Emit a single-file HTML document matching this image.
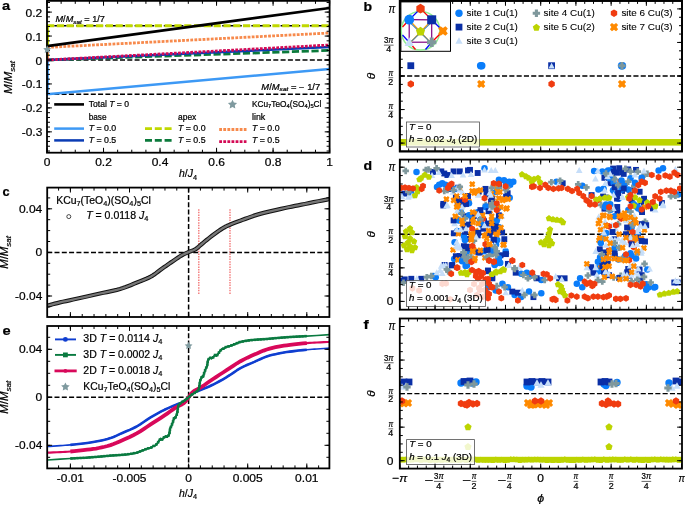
<!DOCTYPE html>
<html><head><meta charset="utf-8"><style>
html,body{margin:0;padding:0;background:#fff;overflow:hidden;}
svg{display:block;font-family:"Liberation Sans", sans-serif;will-change:transform;}
</style></head><body>
<svg width="685" height="505" viewBox="0 0 685 505">
<rect width="685" height="505" fill="#fff"/>
<line x1="47" y1="60" x2="329.6" y2="60" stroke="#000" stroke-width="1.5" stroke-linecap="butt" stroke-dasharray="5,2.3"/>
<line x1="47" y1="94.21" x2="329.6" y2="94.21" stroke="#000" stroke-width="1.5" stroke-linecap="butt" stroke-dasharray="5,2.3"/>
<line x1="47" y1="25.79" x2="329.6" y2="25.79" stroke="#000" stroke-width="1.5" stroke-linecap="butt" stroke-dasharray="5,2.3"/>
<line x1="47" y1="94.21" x2="329.6" y2="69.01" stroke="#3d99f5" stroke-width="2.5" stroke-linecap="butt"/>
<line x1="47.6" y1="25.79" x2="47.6" y2="60" stroke="#c0d800" stroke-width="2.8" stroke-linecap="butt"/>
<line x1="47.6" y1="60" x2="47.6" y2="94.21" stroke="#3d99f5" stroke-width="2.5" stroke-linecap="butt"/>
<line x1="47.6" y1="47.4" x2="47.6" y2="60" stroke="#f78a4c" stroke-width="2.8" stroke-linecap="butt" stroke-dasharray="2.8,1.3"/>
<line x1="47" y1="60" x2="329.6" y2="50.42" stroke="#0b7a3b" stroke-width="2.8" stroke-linecap="butt" stroke-dasharray="7.2,2.6"/>
<line x1="47" y1="60" x2="329.6" y2="47.07" stroke="#0a3cb4" stroke-width="2.5" stroke-linecap="butt"/>
<line x1="47" y1="60" x2="329.6" y2="45.01" stroke="#d40a55" stroke-width="2.8" stroke-linecap="butt" stroke-dasharray="2.8,1.3"/>
<line x1="47" y1="47.4" x2="329.6" y2="33.01" stroke="#f78a4c" stroke-width="2.8" stroke-linecap="butt" stroke-dasharray="2.8,1.3"/>
<line x1="47" y1="25.79" x2="329.6" y2="25.79" stroke="#c0d800" stroke-width="3.0" stroke-linecap="butt" stroke-dasharray="7.2,2.6"/>
<line x1="47" y1="46.11" x2="329.6" y2="8.03" stroke="#000" stroke-width="2.7" stroke-linecap="butt"/>
<rect x="47" y="0.85" width="282.6" height="151.85" fill="none" stroke="#000" stroke-width="1.8"/>
<line x1="47" y1="152.7" x2="47" y2="147.8" stroke="#000" stroke-width="1.0" stroke-linecap="butt"/>
<line x1="47" y1="0.85" x2="47" y2="5.75" stroke="#000" stroke-width="1.0" stroke-linecap="butt"/>
<line x1="103.52" y1="152.7" x2="103.52" y2="147.8" stroke="#000" stroke-width="1.0" stroke-linecap="butt"/>
<line x1="103.52" y1="0.85" x2="103.52" y2="5.75" stroke="#000" stroke-width="1.0" stroke-linecap="butt"/>
<line x1="160.04" y1="152.7" x2="160.04" y2="147.8" stroke="#000" stroke-width="1.0" stroke-linecap="butt"/>
<line x1="160.04" y1="0.85" x2="160.04" y2="5.75" stroke="#000" stroke-width="1.0" stroke-linecap="butt"/>
<line x1="216.56" y1="152.7" x2="216.56" y2="147.8" stroke="#000" stroke-width="1.0" stroke-linecap="butt"/>
<line x1="216.56" y1="0.85" x2="216.56" y2="5.75" stroke="#000" stroke-width="1.0" stroke-linecap="butt"/>
<line x1="273.08" y1="152.7" x2="273.08" y2="147.8" stroke="#000" stroke-width="1.0" stroke-linecap="butt"/>
<line x1="273.08" y1="0.85" x2="273.08" y2="5.75" stroke="#000" stroke-width="1.0" stroke-linecap="butt"/>
<line x1="329.6" y1="152.7" x2="329.6" y2="147.8" stroke="#000" stroke-width="1.0" stroke-linecap="butt"/>
<line x1="329.6" y1="0.85" x2="329.6" y2="5.75" stroke="#000" stroke-width="1.0" stroke-linecap="butt"/>
<line x1="47" y1="152.7" x2="47" y2="149.7" stroke="#000" stroke-width="1.0" stroke-linecap="butt"/>
<line x1="47" y1="0.85" x2="47" y2="3.85" stroke="#000" stroke-width="1.0" stroke-linecap="butt"/>
<line x1="61.13" y1="152.7" x2="61.13" y2="149.7" stroke="#000" stroke-width="1.0" stroke-linecap="butt"/>
<line x1="61.13" y1="0.85" x2="61.13" y2="3.85" stroke="#000" stroke-width="1.0" stroke-linecap="butt"/>
<line x1="75.26" y1="152.7" x2="75.26" y2="149.7" stroke="#000" stroke-width="1.0" stroke-linecap="butt"/>
<line x1="75.26" y1="0.85" x2="75.26" y2="3.85" stroke="#000" stroke-width="1.0" stroke-linecap="butt"/>
<line x1="89.39" y1="152.7" x2="89.39" y2="149.7" stroke="#000" stroke-width="1.0" stroke-linecap="butt"/>
<line x1="89.39" y1="0.85" x2="89.39" y2="3.85" stroke="#000" stroke-width="1.0" stroke-linecap="butt"/>
<line x1="103.52" y1="152.7" x2="103.52" y2="149.7" stroke="#000" stroke-width="1.0" stroke-linecap="butt"/>
<line x1="103.52" y1="0.85" x2="103.52" y2="3.85" stroke="#000" stroke-width="1.0" stroke-linecap="butt"/>
<line x1="117.65" y1="152.7" x2="117.65" y2="149.7" stroke="#000" stroke-width="1.0" stroke-linecap="butt"/>
<line x1="117.65" y1="0.85" x2="117.65" y2="3.85" stroke="#000" stroke-width="1.0" stroke-linecap="butt"/>
<line x1="131.78" y1="152.7" x2="131.78" y2="149.7" stroke="#000" stroke-width="1.0" stroke-linecap="butt"/>
<line x1="131.78" y1="0.85" x2="131.78" y2="3.85" stroke="#000" stroke-width="1.0" stroke-linecap="butt"/>
<line x1="145.91" y1="152.7" x2="145.91" y2="149.7" stroke="#000" stroke-width="1.0" stroke-linecap="butt"/>
<line x1="145.91" y1="0.85" x2="145.91" y2="3.85" stroke="#000" stroke-width="1.0" stroke-linecap="butt"/>
<line x1="160.04" y1="152.7" x2="160.04" y2="149.7" stroke="#000" stroke-width="1.0" stroke-linecap="butt"/>
<line x1="160.04" y1="0.85" x2="160.04" y2="3.85" stroke="#000" stroke-width="1.0" stroke-linecap="butt"/>
<line x1="174.17" y1="152.7" x2="174.17" y2="149.7" stroke="#000" stroke-width="1.0" stroke-linecap="butt"/>
<line x1="174.17" y1="0.85" x2="174.17" y2="3.85" stroke="#000" stroke-width="1.0" stroke-linecap="butt"/>
<line x1="188.3" y1="152.7" x2="188.3" y2="149.7" stroke="#000" stroke-width="1.0" stroke-linecap="butt"/>
<line x1="188.3" y1="0.85" x2="188.3" y2="3.85" stroke="#000" stroke-width="1.0" stroke-linecap="butt"/>
<line x1="202.43" y1="152.7" x2="202.43" y2="149.7" stroke="#000" stroke-width="1.0" stroke-linecap="butt"/>
<line x1="202.43" y1="0.85" x2="202.43" y2="3.85" stroke="#000" stroke-width="1.0" stroke-linecap="butt"/>
<line x1="216.56" y1="152.7" x2="216.56" y2="149.7" stroke="#000" stroke-width="1.0" stroke-linecap="butt"/>
<line x1="216.56" y1="0.85" x2="216.56" y2="3.85" stroke="#000" stroke-width="1.0" stroke-linecap="butt"/>
<line x1="230.69" y1="152.7" x2="230.69" y2="149.7" stroke="#000" stroke-width="1.0" stroke-linecap="butt"/>
<line x1="230.69" y1="0.85" x2="230.69" y2="3.85" stroke="#000" stroke-width="1.0" stroke-linecap="butt"/>
<line x1="244.82" y1="152.7" x2="244.82" y2="149.7" stroke="#000" stroke-width="1.0" stroke-linecap="butt"/>
<line x1="244.82" y1="0.85" x2="244.82" y2="3.85" stroke="#000" stroke-width="1.0" stroke-linecap="butt"/>
<line x1="258.95" y1="152.7" x2="258.95" y2="149.7" stroke="#000" stroke-width="1.0" stroke-linecap="butt"/>
<line x1="258.95" y1="0.85" x2="258.95" y2="3.85" stroke="#000" stroke-width="1.0" stroke-linecap="butt"/>
<line x1="273.08" y1="152.7" x2="273.08" y2="149.7" stroke="#000" stroke-width="1.0" stroke-linecap="butt"/>
<line x1="273.08" y1="0.85" x2="273.08" y2="3.85" stroke="#000" stroke-width="1.0" stroke-linecap="butt"/>
<line x1="287.21" y1="152.7" x2="287.21" y2="149.7" stroke="#000" stroke-width="1.0" stroke-linecap="butt"/>
<line x1="287.21" y1="0.85" x2="287.21" y2="3.85" stroke="#000" stroke-width="1.0" stroke-linecap="butt"/>
<line x1="301.34" y1="152.7" x2="301.34" y2="149.7" stroke="#000" stroke-width="1.0" stroke-linecap="butt"/>
<line x1="301.34" y1="0.85" x2="301.34" y2="3.85" stroke="#000" stroke-width="1.0" stroke-linecap="butt"/>
<line x1="315.47" y1="152.7" x2="315.47" y2="149.7" stroke="#000" stroke-width="1.0" stroke-linecap="butt"/>
<line x1="315.47" y1="0.85" x2="315.47" y2="3.85" stroke="#000" stroke-width="1.0" stroke-linecap="butt"/>
<line x1="329.6" y1="152.7" x2="329.6" y2="149.7" stroke="#000" stroke-width="1.0" stroke-linecap="butt"/>
<line x1="329.6" y1="0.85" x2="329.6" y2="3.85" stroke="#000" stroke-width="1.0" stroke-linecap="butt"/>
<line x1="47" y1="131.85" x2="51.9" y2="131.85" stroke="#000" stroke-width="1.0" stroke-linecap="butt"/>
<line x1="329.6" y1="131.85" x2="324.7" y2="131.85" stroke="#000" stroke-width="1.0" stroke-linecap="butt"/>
<line x1="47" y1="107.9" x2="51.9" y2="107.9" stroke="#000" stroke-width="1.0" stroke-linecap="butt"/>
<line x1="329.6" y1="107.9" x2="324.7" y2="107.9" stroke="#000" stroke-width="1.0" stroke-linecap="butt"/>
<line x1="47" y1="83.95" x2="51.9" y2="83.95" stroke="#000" stroke-width="1.0" stroke-linecap="butt"/>
<line x1="329.6" y1="83.95" x2="324.7" y2="83.95" stroke="#000" stroke-width="1.0" stroke-linecap="butt"/>
<line x1="47" y1="60" x2="51.9" y2="60" stroke="#000" stroke-width="1.0" stroke-linecap="butt"/>
<line x1="329.6" y1="60" x2="324.7" y2="60" stroke="#000" stroke-width="1.0" stroke-linecap="butt"/>
<line x1="47" y1="36.05" x2="51.9" y2="36.05" stroke="#000" stroke-width="1.0" stroke-linecap="butt"/>
<line x1="329.6" y1="36.05" x2="324.7" y2="36.05" stroke="#000" stroke-width="1.0" stroke-linecap="butt"/>
<line x1="47" y1="12.1" x2="51.9" y2="12.1" stroke="#000" stroke-width="1.0" stroke-linecap="butt"/>
<line x1="329.6" y1="12.1" x2="324.7" y2="12.1" stroke="#000" stroke-width="1.0" stroke-linecap="butt"/>
<line x1="47" y1="151.01" x2="50" y2="151.01" stroke="#000" stroke-width="1.0" stroke-linecap="butt"/>
<line x1="329.6" y1="151.01" x2="326.6" y2="151.01" stroke="#000" stroke-width="1.0" stroke-linecap="butt"/>
<line x1="47" y1="146.22" x2="50" y2="146.22" stroke="#000" stroke-width="1.0" stroke-linecap="butt"/>
<line x1="329.6" y1="146.22" x2="326.6" y2="146.22" stroke="#000" stroke-width="1.0" stroke-linecap="butt"/>
<line x1="47" y1="141.43" x2="50" y2="141.43" stroke="#000" stroke-width="1.0" stroke-linecap="butt"/>
<line x1="329.6" y1="141.43" x2="326.6" y2="141.43" stroke="#000" stroke-width="1.0" stroke-linecap="butt"/>
<line x1="47" y1="136.64" x2="50" y2="136.64" stroke="#000" stroke-width="1.0" stroke-linecap="butt"/>
<line x1="329.6" y1="136.64" x2="326.6" y2="136.64" stroke="#000" stroke-width="1.0" stroke-linecap="butt"/>
<line x1="47" y1="131.85" x2="50" y2="131.85" stroke="#000" stroke-width="1.0" stroke-linecap="butt"/>
<line x1="329.6" y1="131.85" x2="326.6" y2="131.85" stroke="#000" stroke-width="1.0" stroke-linecap="butt"/>
<line x1="47" y1="127.06" x2="50" y2="127.06" stroke="#000" stroke-width="1.0" stroke-linecap="butt"/>
<line x1="329.6" y1="127.06" x2="326.6" y2="127.06" stroke="#000" stroke-width="1.0" stroke-linecap="butt"/>
<line x1="47" y1="122.27" x2="50" y2="122.27" stroke="#000" stroke-width="1.0" stroke-linecap="butt"/>
<line x1="329.6" y1="122.27" x2="326.6" y2="122.27" stroke="#000" stroke-width="1.0" stroke-linecap="butt"/>
<line x1="47" y1="117.48" x2="50" y2="117.48" stroke="#000" stroke-width="1.0" stroke-linecap="butt"/>
<line x1="329.6" y1="117.48" x2="326.6" y2="117.48" stroke="#000" stroke-width="1.0" stroke-linecap="butt"/>
<line x1="47" y1="112.69" x2="50" y2="112.69" stroke="#000" stroke-width="1.0" stroke-linecap="butt"/>
<line x1="329.6" y1="112.69" x2="326.6" y2="112.69" stroke="#000" stroke-width="1.0" stroke-linecap="butt"/>
<line x1="47" y1="107.9" x2="50" y2="107.9" stroke="#000" stroke-width="1.0" stroke-linecap="butt"/>
<line x1="329.6" y1="107.9" x2="326.6" y2="107.9" stroke="#000" stroke-width="1.0" stroke-linecap="butt"/>
<line x1="47" y1="103.11" x2="50" y2="103.11" stroke="#000" stroke-width="1.0" stroke-linecap="butt"/>
<line x1="329.6" y1="103.11" x2="326.6" y2="103.11" stroke="#000" stroke-width="1.0" stroke-linecap="butt"/>
<line x1="47" y1="98.32" x2="50" y2="98.32" stroke="#000" stroke-width="1.0" stroke-linecap="butt"/>
<line x1="329.6" y1="98.32" x2="326.6" y2="98.32" stroke="#000" stroke-width="1.0" stroke-linecap="butt"/>
<line x1="47" y1="93.53" x2="50" y2="93.53" stroke="#000" stroke-width="1.0" stroke-linecap="butt"/>
<line x1="329.6" y1="93.53" x2="326.6" y2="93.53" stroke="#000" stroke-width="1.0" stroke-linecap="butt"/>
<line x1="47" y1="88.74" x2="50" y2="88.74" stroke="#000" stroke-width="1.0" stroke-linecap="butt"/>
<line x1="329.6" y1="88.74" x2="326.6" y2="88.74" stroke="#000" stroke-width="1.0" stroke-linecap="butt"/>
<line x1="47" y1="83.95" x2="50" y2="83.95" stroke="#000" stroke-width="1.0" stroke-linecap="butt"/>
<line x1="329.6" y1="83.95" x2="326.6" y2="83.95" stroke="#000" stroke-width="1.0" stroke-linecap="butt"/>
<line x1="47" y1="79.16" x2="50" y2="79.16" stroke="#000" stroke-width="1.0" stroke-linecap="butt"/>
<line x1="329.6" y1="79.16" x2="326.6" y2="79.16" stroke="#000" stroke-width="1.0" stroke-linecap="butt"/>
<line x1="47" y1="74.37" x2="50" y2="74.37" stroke="#000" stroke-width="1.0" stroke-linecap="butt"/>
<line x1="329.6" y1="74.37" x2="326.6" y2="74.37" stroke="#000" stroke-width="1.0" stroke-linecap="butt"/>
<line x1="47" y1="69.58" x2="50" y2="69.58" stroke="#000" stroke-width="1.0" stroke-linecap="butt"/>
<line x1="329.6" y1="69.58" x2="326.6" y2="69.58" stroke="#000" stroke-width="1.0" stroke-linecap="butt"/>
<line x1="47" y1="64.79" x2="50" y2="64.79" stroke="#000" stroke-width="1.0" stroke-linecap="butt"/>
<line x1="329.6" y1="64.79" x2="326.6" y2="64.79" stroke="#000" stroke-width="1.0" stroke-linecap="butt"/>
<line x1="47" y1="60" x2="50" y2="60" stroke="#000" stroke-width="1.0" stroke-linecap="butt"/>
<line x1="329.6" y1="60" x2="326.6" y2="60" stroke="#000" stroke-width="1.0" stroke-linecap="butt"/>
<line x1="47" y1="55.21" x2="50" y2="55.21" stroke="#000" stroke-width="1.0" stroke-linecap="butt"/>
<line x1="329.6" y1="55.21" x2="326.6" y2="55.21" stroke="#000" stroke-width="1.0" stroke-linecap="butt"/>
<line x1="47" y1="50.42" x2="50" y2="50.42" stroke="#000" stroke-width="1.0" stroke-linecap="butt"/>
<line x1="329.6" y1="50.42" x2="326.6" y2="50.42" stroke="#000" stroke-width="1.0" stroke-linecap="butt"/>
<line x1="47" y1="45.63" x2="50" y2="45.63" stroke="#000" stroke-width="1.0" stroke-linecap="butt"/>
<line x1="329.6" y1="45.63" x2="326.6" y2="45.63" stroke="#000" stroke-width="1.0" stroke-linecap="butt"/>
<line x1="47" y1="40.84" x2="50" y2="40.84" stroke="#000" stroke-width="1.0" stroke-linecap="butt"/>
<line x1="329.6" y1="40.84" x2="326.6" y2="40.84" stroke="#000" stroke-width="1.0" stroke-linecap="butt"/>
<line x1="47" y1="36.05" x2="50" y2="36.05" stroke="#000" stroke-width="1.0" stroke-linecap="butt"/>
<line x1="329.6" y1="36.05" x2="326.6" y2="36.05" stroke="#000" stroke-width="1.0" stroke-linecap="butt"/>
<line x1="47" y1="31.26" x2="50" y2="31.26" stroke="#000" stroke-width="1.0" stroke-linecap="butt"/>
<line x1="329.6" y1="31.26" x2="326.6" y2="31.26" stroke="#000" stroke-width="1.0" stroke-linecap="butt"/>
<line x1="47" y1="26.47" x2="50" y2="26.47" stroke="#000" stroke-width="1.0" stroke-linecap="butt"/>
<line x1="329.6" y1="26.47" x2="326.6" y2="26.47" stroke="#000" stroke-width="1.0" stroke-linecap="butt"/>
<line x1="47" y1="21.68" x2="50" y2="21.68" stroke="#000" stroke-width="1.0" stroke-linecap="butt"/>
<line x1="329.6" y1="21.68" x2="326.6" y2="21.68" stroke="#000" stroke-width="1.0" stroke-linecap="butt"/>
<line x1="47" y1="16.89" x2="50" y2="16.89" stroke="#000" stroke-width="1.0" stroke-linecap="butt"/>
<line x1="329.6" y1="16.89" x2="326.6" y2="16.89" stroke="#000" stroke-width="1.0" stroke-linecap="butt"/>
<line x1="47" y1="12.1" x2="50" y2="12.1" stroke="#000" stroke-width="1.0" stroke-linecap="butt"/>
<line x1="329.6" y1="12.1" x2="326.6" y2="12.1" stroke="#000" stroke-width="1.0" stroke-linecap="butt"/>
<line x1="47" y1="7.31" x2="50" y2="7.31" stroke="#000" stroke-width="1.0" stroke-linecap="butt"/>
<line x1="329.6" y1="7.31" x2="326.6" y2="7.31" stroke="#000" stroke-width="1.0" stroke-linecap="butt"/>
<line x1="47" y1="2.52" x2="50" y2="2.52" stroke="#000" stroke-width="1.0" stroke-linecap="butt"/>
<line x1="329.6" y1="2.52" x2="326.6" y2="2.52" stroke="#000" stroke-width="1.0" stroke-linecap="butt"/>
<polygon points="47.2,45.38 48.43,47.88 51.19,48.28 49.2,50.23 49.67,52.98 47.2,51.68 44.73,52.98 45.2,50.23 43.21,48.28 45.97,47.88" fill="#7f9a9f"/>
<text x="25.60" y="16.60" font-size="11.13" fill="#000" stroke="#000" stroke-width="0.22" textLength="16.70" lengthAdjust="spacingAndGlyphs" ><tspan>0.2</tspan></text>
<text x="25.60" y="40.55" font-size="11.13" fill="#000" stroke="#000" stroke-width="0.22" textLength="16.70" lengthAdjust="spacingAndGlyphs" ><tspan>0.1</tspan></text>
<text x="35.62" y="64.50" font-size="11.13" fill="#000" stroke="#000" stroke-width="0.22" textLength="6.68" lengthAdjust="spacingAndGlyphs" ><tspan>0</tspan></text>
<text x="21.81" y="88.45" font-size="11.13" fill="#000" stroke="#000" stroke-width="0.22" textLength="20.49" lengthAdjust="spacingAndGlyphs" ><tspan>-0.1</tspan></text>
<text x="21.81" y="112.40" font-size="11.13" fill="#000" stroke="#000" stroke-width="0.22" textLength="20.49" lengthAdjust="spacingAndGlyphs" ><tspan>-0.2</tspan></text>
<text x="21.81" y="136.35" font-size="11.13" fill="#000" stroke="#000" stroke-width="0.22" textLength="20.49" lengthAdjust="spacingAndGlyphs" ><tspan>-0.3</tspan></text>
<text x="43.66" y="166.00" font-size="11.13" fill="#000" stroke="#000" stroke-width="0.22" textLength="6.68" lengthAdjust="spacingAndGlyphs" ><tspan>0</tspan></text>
<text x="95.17" y="166.00" font-size="11.13" fill="#000" stroke="#000" stroke-width="0.22" textLength="16.70" lengthAdjust="spacingAndGlyphs" ><tspan>0.2</tspan></text>
<text x="151.69" y="166.00" font-size="11.13" fill="#000" stroke="#000" stroke-width="0.22" textLength="16.70" lengthAdjust="spacingAndGlyphs" ><tspan>0.4</tspan></text>
<text x="208.21" y="166.00" font-size="11.13" fill="#000" stroke="#000" stroke-width="0.22" textLength="16.70" lengthAdjust="spacingAndGlyphs" ><tspan>0.6</tspan></text>
<text x="264.73" y="166.00" font-size="11.13" fill="#000" stroke="#000" stroke-width="0.22" textLength="16.70" lengthAdjust="spacingAndGlyphs" ><tspan>0.8</tspan></text>
<text x="326.26" y="166.00" font-size="11.13" fill="#000" stroke="#000" stroke-width="0.22" textLength="6.68" lengthAdjust="spacingAndGlyphs" ><tspan>1</tspan></text>
<text x="2.00" y="10.20" font-size="13.20" font-weight="bold" fill="#000" stroke="#000" stroke-width="0.22" textLength="8.10" lengthAdjust="spacingAndGlyphs" ><tspan>a</tspan></text>
<text x="179.02" y="177.40" font-size="11.55" fill="#000" stroke="#000" stroke-width="0.22" textLength="17.97" lengthAdjust="spacingAndGlyphs" ><tspan font-style="italic">h</tspan><tspan>/</tspan><tspan font-style="italic">J</tspan><tspan font-size="8.09" dy="2.31">4</tspan></text>
<g transform="translate(12.2,77.4) rotate(-90)">
<text x="-16.44" y="0.00" font-size="11.55" fill="#000" stroke="#000" stroke-width="0.22" textLength="32.87" lengthAdjust="spacingAndGlyphs" ><tspan font-style="italic">M</tspan><tspan>/</tspan><tspan font-style="italic">M</tspan><tspan font-style="italic" font-size="8.09" dy="2.31">sat</tspan></text>
</g>
<text x="55.50" y="22.10" font-size="8.36" fill="#000" stroke="#000" stroke-width="0.22" textLength="49.35" lengthAdjust="spacingAndGlyphs" ><tspan font-style="italic">M</tspan><tspan>/</tspan><tspan font-style="italic">M</tspan><tspan font-style="italic" font-size="5.85" dy="1.67">sat</tspan><tspan dy="-1.67"> = 1/7</tspan></text>
<text x="261.39" y="89.60" font-size="8.36" fill="#000" stroke="#000" stroke-width="0.22" textLength="58.81" lengthAdjust="spacingAndGlyphs" ><tspan font-style="italic">M</tspan><tspan>/</tspan><tspan font-style="italic">M</tspan><tspan font-style="italic" font-size="5.85" dy="1.67">sat</tspan><tspan dy="-1.67"> = − 1/7</tspan></text>
<line x1="54.2" y1="104.4" x2="84" y2="104.4" stroke="#000" stroke-width="2.6" stroke-linecap="butt"/>
<text x="88.70" y="106.90" font-size="8.25" fill="#000" stroke="#000" stroke-width="0.22" textLength="40.31" lengthAdjust="spacingAndGlyphs" ><tspan>Total </tspan><tspan font-style="italic">T</tspan><tspan> = 0</tspan></text>
<text x="88.70" y="119.50" font-size="8.25" fill="#000" stroke="#000" stroke-width="0.22" textLength="17.88" lengthAdjust="spacingAndGlyphs" ><tspan>base</tspan></text>
<line x1="54.2" y1="128.6" x2="84" y2="128.6" stroke="#3d99f5" stroke-width="2.5" stroke-linecap="butt"/>
<text x="88.70" y="130.80" font-size="8.25" fill="#000" stroke="#000" stroke-width="0.22" textLength="27.56" lengthAdjust="spacingAndGlyphs" ><tspan font-style="italic">T</tspan><tspan> = 0.0</tspan></text>
<line x1="54.2" y1="140.4" x2="84" y2="140.4" stroke="#0a3cb4" stroke-width="2.5" stroke-linecap="butt"/>
<text x="88.70" y="142.70" font-size="8.25" fill="#000" stroke="#000" stroke-width="0.22" textLength="27.56" lengthAdjust="spacingAndGlyphs" ><tspan font-style="italic">T</tspan><tspan> = 0.5</tspan></text>
<text x="178.00" y="119.50" font-size="8.25" fill="#000" stroke="#000" stroke-width="0.22" textLength="18.28" lengthAdjust="spacingAndGlyphs" ><tspan>apex</tspan></text>
<line x1="145" y1="128.6" x2="171.6" y2="128.6" stroke="#c0d800" stroke-width="2.8" stroke-linecap="butt" stroke-dasharray="7,2.8"/>
<text x="178.00" y="130.80" font-size="8.25" fill="#000" stroke="#000" stroke-width="0.22" textLength="27.56" lengthAdjust="spacingAndGlyphs" ><tspan font-style="italic">T</tspan><tspan> = 0.0</tspan></text>
<line x1="145" y1="140.4" x2="171.6" y2="140.4" stroke="#0b7a3b" stroke-width="2.8" stroke-linecap="butt" stroke-dasharray="7,2.8"/>
<text x="178.00" y="142.70" font-size="8.25" fill="#000" stroke="#000" stroke-width="0.22" textLength="27.56" lengthAdjust="spacingAndGlyphs" ><tspan font-style="italic">T</tspan><tspan> = 0.5</tspan></text>
<polygon points="232.5,99.7 233.91,102.56 237.07,103.02 234.78,105.24 235.32,108.38 232.5,106.9 229.68,108.38 230.22,105.24 227.93,103.02 231.09,102.56" fill="#7f9a9f"/>
<text x="252.00" y="107.20" font-size="8.25" fill="#000" stroke="#000" stroke-width="0.22" textLength="69.45" lengthAdjust="spacingAndGlyphs" ><tspan>KCu</tspan><tspan font-size="5.77" dy="1.20">7</tspan><tspan dy="-1.20">TeO</tspan><tspan font-size="5.77" dy="1.20">4</tspan><tspan dy="-1.20">(SO</tspan><tspan font-size="5.77" dy="1.20">4</tspan><tspan dy="-1.20">)</tspan><tspan font-size="5.77" dy="1.20">5</tspan><tspan dy="-1.20">Cl</tspan></text>
<text x="252.00" y="119.50" font-size="8.25" fill="#000" stroke="#000" stroke-width="0.22" textLength="13.26" lengthAdjust="spacingAndGlyphs" ><tspan>link</tspan></text>
<line x1="219.2" y1="129.5" x2="246.5" y2="129.5" stroke="#f78a4c" stroke-width="2.8" stroke-linecap="butt" stroke-dasharray="2.8,1.3"/>
<text x="252.00" y="130.80" font-size="8.25" fill="#000" stroke="#000" stroke-width="0.22" textLength="27.56" lengthAdjust="spacingAndGlyphs" ><tspan font-style="italic">T</tspan><tspan> = 0.0</tspan></text>
<line x1="219.2" y1="141.6" x2="246.5" y2="141.6" stroke="#d40a55" stroke-width="2.8" stroke-linecap="butt" stroke-dasharray="2.8,1.3"/>
<text x="252.00" y="142.70" font-size="8.25" fill="#000" stroke="#000" stroke-width="0.22" textLength="27.56" lengthAdjust="spacingAndGlyphs" ><tspan font-style="italic">T</tspan><tspan> = 0.5</tspan></text>
<line x1="47.2" y1="252.4" x2="329.4" y2="252.4" stroke="#000" stroke-width="1.5" stroke-linecap="butt" stroke-dasharray="5,2.3"/>
<line x1="188.6" y1="187.6" x2="188.6" y2="317" stroke="#000" stroke-width="1.5" stroke-linecap="butt" stroke-dasharray="5,2.3"/>
<line x1="198.8" y1="209.2" x2="198.8" y2="295.1" stroke="#f26d6d" stroke-width="1.3" stroke-linecap="butt" stroke-dasharray="1.5,1.1"/>
<line x1="230" y1="209.2" x2="230" y2="295.1" stroke="#f26d6d" stroke-width="1.3" stroke-linecap="butt" stroke-dasharray="1.5,1.1"/>
<polyline points="47.6,305.6 48.86,305.27 50.53,304.81 52.55,304.27 54.84,303.67 57.35,303.04 60,302.4 62.89,301.74 66.1,301.03 69.53,300.28 73.05,299.52 76.58,298.75 80,298 83.33,297.26 86.67,296.51 90,295.76 93.33,295 96.67,294.25 100,293.5 103.37,292.77 106.8,292.06 110.23,291.36 113.6,290.63 116.88,289.85 120,289 122.97,288.06 125.81,287.06 128.56,286 131.22,284.92 133.83,283.85 136.4,282.8 138.95,281.79 141.47,280.8 143.94,279.81 146.31,278.81 148.58,277.78 150.7,276.7 152.64,275.56 154.4,274.38 156.06,273.16 157.65,271.93 159.25,270.71 160.9,269.5 162.6,268.31 164.3,267.11 166,265.93 167.7,264.74 169.4,263.56 171.1,262.4 172.83,261.21 174.61,259.99 176.39,258.77 178.12,257.61 179.77,256.54 181.3,255.6 182.67,254.82 183.92,254.17 185.09,253.61 186.21,253.11 187.33,252.62 188.5,252.1 189.71,251.6 190.94,251.14 192.17,250.7 193.38,250.24 194.56,249.72 195.7,249.1 196.73,248.41 197.66,247.67 198.56,246.88 199.5,246.01 200.56,245.05 201.8,244 203.26,242.8 204.9,241.46 206.64,240.03 208.45,238.57 210.25,237.14 212,235.8 213.72,234.51 215.47,233.21 217.22,231.94 218.95,230.73 220.62,229.61 222.2,228.6 223.63,227.74 224.93,227.03 226.17,226.39 227.44,225.8 228.82,225.18 230.4,224.5 232.15,223.77 234.01,223.02 235.98,222.26 238.08,221.48 240.31,220.66 242.7,219.8 245.2,218.89 247.81,217.92 250.56,216.93 253.48,215.91 256.61,214.9 260,213.9 263.78,212.89 267.95,211.86 272.33,210.83 276.75,209.83 281.03,208.87 285,208 288.57,207.23 291.87,206.56 295.04,205.94 298.19,205.34 301.47,204.7 305,204 309.09,203.17 313.71,202.22 318.45,201.25 322.91,200.33 326.69,199.56 329.4,199" fill="none" stroke="#111" stroke-width="4.3" stroke-linecap="butt" stroke-linejoin="round"/>
<polyline points="47.6,305.6 48.86,305.27 50.53,304.81 52.55,304.27 54.84,303.67 57.35,303.04 60,302.4 62.89,301.74 66.1,301.03 69.53,300.28 73.05,299.52 76.58,298.75 80,298 83.33,297.26 86.67,296.51 90,295.76 93.33,295 96.67,294.25 100,293.5 103.37,292.77 106.8,292.06 110.23,291.36 113.6,290.63 116.88,289.85 120,289 122.97,288.06 125.81,287.06 128.56,286 131.22,284.92 133.83,283.85 136.4,282.8 138.95,281.79 141.47,280.8 143.94,279.81 146.31,278.81 148.58,277.78 150.7,276.7 152.64,275.56 154.4,274.38 156.06,273.16 157.65,271.93 159.25,270.71 160.9,269.5 162.6,268.31 164.3,267.11 166,265.93 167.7,264.74 169.4,263.56 171.1,262.4 172.83,261.21 174.61,259.99 176.39,258.77 178.12,257.61 179.77,256.54 181.3,255.6 182.67,254.82 183.92,254.17 185.09,253.61 186.21,253.11 187.33,252.62 188.5,252.1 189.71,251.6 190.94,251.14 192.17,250.7 193.38,250.24 194.56,249.72 195.7,249.1 196.73,248.41 197.66,247.67 198.56,246.88 199.5,246.01 200.56,245.05 201.8,244 203.26,242.8 204.9,241.46 206.64,240.03 208.45,238.57 210.25,237.14 212,235.8 213.72,234.51 215.47,233.21 217.22,231.94 218.95,230.73 220.62,229.61 222.2,228.6 223.63,227.74 224.93,227.03 226.17,226.39 227.44,225.8 228.82,225.18 230.4,224.5 232.15,223.77 234.01,223.02 235.98,222.26 238.08,221.48 240.31,220.66 242.7,219.8 245.2,218.89 247.81,217.92 250.56,216.93 253.48,215.91 256.61,214.9 260,213.9 263.78,212.89 267.95,211.86 272.33,210.83 276.75,209.83 281.03,208.87 285,208 288.57,207.23 291.87,206.56 295.04,205.94 298.19,205.34 301.47,204.7 305,204 309.09,203.17 313.71,202.22 318.45,201.25 322.91,200.33 326.69,199.56 329.4,199" fill="none" stroke="#777" stroke-width="2.3" stroke-linecap="butt" stroke-linejoin="round"/>
<rect x="47.2" y="187.6" width="282.2" height="129.4" fill="none" stroke="#000" stroke-width="1.8"/>
<line x1="70.4" y1="317" x2="70.4" y2="312.1" stroke="#000" stroke-width="1.0" stroke-linecap="butt"/>
<line x1="70.4" y1="187.6" x2="70.4" y2="192.5" stroke="#000" stroke-width="1.0" stroke-linecap="butt"/>
<line x1="129.5" y1="317" x2="129.5" y2="312.1" stroke="#000" stroke-width="1.0" stroke-linecap="butt"/>
<line x1="129.5" y1="187.6" x2="129.5" y2="192.5" stroke="#000" stroke-width="1.0" stroke-linecap="butt"/>
<line x1="188.6" y1="317" x2="188.6" y2="312.1" stroke="#000" stroke-width="1.0" stroke-linecap="butt"/>
<line x1="188.6" y1="187.6" x2="188.6" y2="192.5" stroke="#000" stroke-width="1.0" stroke-linecap="butt"/>
<line x1="247.7" y1="317" x2="247.7" y2="312.1" stroke="#000" stroke-width="1.0" stroke-linecap="butt"/>
<line x1="247.7" y1="187.6" x2="247.7" y2="192.5" stroke="#000" stroke-width="1.0" stroke-linecap="butt"/>
<line x1="306.8" y1="317" x2="306.8" y2="312.1" stroke="#000" stroke-width="1.0" stroke-linecap="butt"/>
<line x1="306.8" y1="187.6" x2="306.8" y2="192.5" stroke="#000" stroke-width="1.0" stroke-linecap="butt"/>
<line x1="58.58" y1="317" x2="58.58" y2="314" stroke="#000" stroke-width="1.0" stroke-linecap="butt"/>
<line x1="58.58" y1="187.6" x2="58.58" y2="190.6" stroke="#000" stroke-width="1.0" stroke-linecap="butt"/>
<line x1="70.4" y1="317" x2="70.4" y2="314" stroke="#000" stroke-width="1.0" stroke-linecap="butt"/>
<line x1="70.4" y1="187.6" x2="70.4" y2="190.6" stroke="#000" stroke-width="1.0" stroke-linecap="butt"/>
<line x1="82.22" y1="317" x2="82.22" y2="314" stroke="#000" stroke-width="1.0" stroke-linecap="butt"/>
<line x1="82.22" y1="187.6" x2="82.22" y2="190.6" stroke="#000" stroke-width="1.0" stroke-linecap="butt"/>
<line x1="94.04" y1="317" x2="94.04" y2="314" stroke="#000" stroke-width="1.0" stroke-linecap="butt"/>
<line x1="94.04" y1="187.6" x2="94.04" y2="190.6" stroke="#000" stroke-width="1.0" stroke-linecap="butt"/>
<line x1="105.86" y1="317" x2="105.86" y2="314" stroke="#000" stroke-width="1.0" stroke-linecap="butt"/>
<line x1="105.86" y1="187.6" x2="105.86" y2="190.6" stroke="#000" stroke-width="1.0" stroke-linecap="butt"/>
<line x1="117.68" y1="317" x2="117.68" y2="314" stroke="#000" stroke-width="1.0" stroke-linecap="butt"/>
<line x1="117.68" y1="187.6" x2="117.68" y2="190.6" stroke="#000" stroke-width="1.0" stroke-linecap="butt"/>
<line x1="129.5" y1="317" x2="129.5" y2="314" stroke="#000" stroke-width="1.0" stroke-linecap="butt"/>
<line x1="129.5" y1="187.6" x2="129.5" y2="190.6" stroke="#000" stroke-width="1.0" stroke-linecap="butt"/>
<line x1="141.32" y1="317" x2="141.32" y2="314" stroke="#000" stroke-width="1.0" stroke-linecap="butt"/>
<line x1="141.32" y1="187.6" x2="141.32" y2="190.6" stroke="#000" stroke-width="1.0" stroke-linecap="butt"/>
<line x1="153.14" y1="317" x2="153.14" y2="314" stroke="#000" stroke-width="1.0" stroke-linecap="butt"/>
<line x1="153.14" y1="187.6" x2="153.14" y2="190.6" stroke="#000" stroke-width="1.0" stroke-linecap="butt"/>
<line x1="164.96" y1="317" x2="164.96" y2="314" stroke="#000" stroke-width="1.0" stroke-linecap="butt"/>
<line x1="164.96" y1="187.6" x2="164.96" y2="190.6" stroke="#000" stroke-width="1.0" stroke-linecap="butt"/>
<line x1="176.78" y1="317" x2="176.78" y2="314" stroke="#000" stroke-width="1.0" stroke-linecap="butt"/>
<line x1="176.78" y1="187.6" x2="176.78" y2="190.6" stroke="#000" stroke-width="1.0" stroke-linecap="butt"/>
<line x1="188.6" y1="317" x2="188.6" y2="314" stroke="#000" stroke-width="1.0" stroke-linecap="butt"/>
<line x1="188.6" y1="187.6" x2="188.6" y2="190.6" stroke="#000" stroke-width="1.0" stroke-linecap="butt"/>
<line x1="200.42" y1="317" x2="200.42" y2="314" stroke="#000" stroke-width="1.0" stroke-linecap="butt"/>
<line x1="200.42" y1="187.6" x2="200.42" y2="190.6" stroke="#000" stroke-width="1.0" stroke-linecap="butt"/>
<line x1="212.24" y1="317" x2="212.24" y2="314" stroke="#000" stroke-width="1.0" stroke-linecap="butt"/>
<line x1="212.24" y1="187.6" x2="212.24" y2="190.6" stroke="#000" stroke-width="1.0" stroke-linecap="butt"/>
<line x1="224.06" y1="317" x2="224.06" y2="314" stroke="#000" stroke-width="1.0" stroke-linecap="butt"/>
<line x1="224.06" y1="187.6" x2="224.06" y2="190.6" stroke="#000" stroke-width="1.0" stroke-linecap="butt"/>
<line x1="235.88" y1="317" x2="235.88" y2="314" stroke="#000" stroke-width="1.0" stroke-linecap="butt"/>
<line x1="235.88" y1="187.6" x2="235.88" y2="190.6" stroke="#000" stroke-width="1.0" stroke-linecap="butt"/>
<line x1="247.7" y1="317" x2="247.7" y2="314" stroke="#000" stroke-width="1.0" stroke-linecap="butt"/>
<line x1="247.7" y1="187.6" x2="247.7" y2="190.6" stroke="#000" stroke-width="1.0" stroke-linecap="butt"/>
<line x1="259.52" y1="317" x2="259.52" y2="314" stroke="#000" stroke-width="1.0" stroke-linecap="butt"/>
<line x1="259.52" y1="187.6" x2="259.52" y2="190.6" stroke="#000" stroke-width="1.0" stroke-linecap="butt"/>
<line x1="271.34" y1="317" x2="271.34" y2="314" stroke="#000" stroke-width="1.0" stroke-linecap="butt"/>
<line x1="271.34" y1="187.6" x2="271.34" y2="190.6" stroke="#000" stroke-width="1.0" stroke-linecap="butt"/>
<line x1="283.16" y1="317" x2="283.16" y2="314" stroke="#000" stroke-width="1.0" stroke-linecap="butt"/>
<line x1="283.16" y1="187.6" x2="283.16" y2="190.6" stroke="#000" stroke-width="1.0" stroke-linecap="butt"/>
<line x1="294.98" y1="317" x2="294.98" y2="314" stroke="#000" stroke-width="1.0" stroke-linecap="butt"/>
<line x1="294.98" y1="187.6" x2="294.98" y2="190.6" stroke="#000" stroke-width="1.0" stroke-linecap="butt"/>
<line x1="306.8" y1="317" x2="306.8" y2="314" stroke="#000" stroke-width="1.0" stroke-linecap="butt"/>
<line x1="306.8" y1="187.6" x2="306.8" y2="190.6" stroke="#000" stroke-width="1.0" stroke-linecap="butt"/>
<line x1="318.62" y1="317" x2="318.62" y2="314" stroke="#000" stroke-width="1.0" stroke-linecap="butt"/>
<line x1="318.62" y1="187.6" x2="318.62" y2="190.6" stroke="#000" stroke-width="1.0" stroke-linecap="butt"/>
<line x1="47.2" y1="296" x2="52.1" y2="296" stroke="#000" stroke-width="1.0" stroke-linecap="butt"/>
<line x1="329.4" y1="296" x2="324.5" y2="296" stroke="#000" stroke-width="1.0" stroke-linecap="butt"/>
<line x1="47.2" y1="252.4" x2="52.1" y2="252.4" stroke="#000" stroke-width="1.0" stroke-linecap="butt"/>
<line x1="329.4" y1="252.4" x2="324.5" y2="252.4" stroke="#000" stroke-width="1.0" stroke-linecap="butt"/>
<line x1="47.2" y1="208.8" x2="52.1" y2="208.8" stroke="#000" stroke-width="1.0" stroke-linecap="butt"/>
<line x1="329.4" y1="208.8" x2="324.5" y2="208.8" stroke="#000" stroke-width="1.0" stroke-linecap="butt"/>
<line x1="47.2" y1="306.9" x2="50.2" y2="306.9" stroke="#000" stroke-width="1.0" stroke-linecap="butt"/>
<line x1="329.4" y1="306.9" x2="326.4" y2="306.9" stroke="#000" stroke-width="1.0" stroke-linecap="butt"/>
<line x1="47.2" y1="296" x2="50.2" y2="296" stroke="#000" stroke-width="1.0" stroke-linecap="butt"/>
<line x1="329.4" y1="296" x2="326.4" y2="296" stroke="#000" stroke-width="1.0" stroke-linecap="butt"/>
<line x1="47.2" y1="285.1" x2="50.2" y2="285.1" stroke="#000" stroke-width="1.0" stroke-linecap="butt"/>
<line x1="329.4" y1="285.1" x2="326.4" y2="285.1" stroke="#000" stroke-width="1.0" stroke-linecap="butt"/>
<line x1="47.2" y1="274.2" x2="50.2" y2="274.2" stroke="#000" stroke-width="1.0" stroke-linecap="butt"/>
<line x1="329.4" y1="274.2" x2="326.4" y2="274.2" stroke="#000" stroke-width="1.0" stroke-linecap="butt"/>
<line x1="47.2" y1="263.3" x2="50.2" y2="263.3" stroke="#000" stroke-width="1.0" stroke-linecap="butt"/>
<line x1="329.4" y1="263.3" x2="326.4" y2="263.3" stroke="#000" stroke-width="1.0" stroke-linecap="butt"/>
<line x1="47.2" y1="252.4" x2="50.2" y2="252.4" stroke="#000" stroke-width="1.0" stroke-linecap="butt"/>
<line x1="329.4" y1="252.4" x2="326.4" y2="252.4" stroke="#000" stroke-width="1.0" stroke-linecap="butt"/>
<line x1="47.2" y1="241.5" x2="50.2" y2="241.5" stroke="#000" stroke-width="1.0" stroke-linecap="butt"/>
<line x1="329.4" y1="241.5" x2="326.4" y2="241.5" stroke="#000" stroke-width="1.0" stroke-linecap="butt"/>
<line x1="47.2" y1="230.6" x2="50.2" y2="230.6" stroke="#000" stroke-width="1.0" stroke-linecap="butt"/>
<line x1="329.4" y1="230.6" x2="326.4" y2="230.6" stroke="#000" stroke-width="1.0" stroke-linecap="butt"/>
<line x1="47.2" y1="219.7" x2="50.2" y2="219.7" stroke="#000" stroke-width="1.0" stroke-linecap="butt"/>
<line x1="329.4" y1="219.7" x2="326.4" y2="219.7" stroke="#000" stroke-width="1.0" stroke-linecap="butt"/>
<line x1="47.2" y1="208.8" x2="50.2" y2="208.8" stroke="#000" stroke-width="1.0" stroke-linecap="butt"/>
<line x1="329.4" y1="208.8" x2="326.4" y2="208.8" stroke="#000" stroke-width="1.0" stroke-linecap="butt"/>
<line x1="47.2" y1="197.9" x2="50.2" y2="197.9" stroke="#000" stroke-width="1.0" stroke-linecap="butt"/>
<line x1="329.4" y1="197.9" x2="326.4" y2="197.9" stroke="#000" stroke-width="1.0" stroke-linecap="butt"/>
<text x="18.92" y="212.60" font-size="11.13" fill="#000" stroke="#000" stroke-width="0.22" textLength="23.38" lengthAdjust="spacingAndGlyphs" ><tspan>0.04</tspan></text>
<text x="35.62" y="256.20" font-size="11.13" fill="#000" stroke="#000" stroke-width="0.22" textLength="6.68" lengthAdjust="spacingAndGlyphs" ><tspan>0</tspan></text>
<text x="15.13" y="299.80" font-size="11.13" fill="#000" stroke="#000" stroke-width="0.22" textLength="27.17" lengthAdjust="spacingAndGlyphs" ><tspan>-0.04</tspan></text>
<text x="2.60" y="196.40" font-size="13.20" font-weight="bold" fill="#000" stroke="#000" stroke-width="0.22" textLength="7.11" lengthAdjust="spacingAndGlyphs" ><tspan>c</tspan></text>
<g transform="translate(8.2,252.4) rotate(-90)">
<text x="-16.44" y="0.00" font-size="11.55" fill="#000" stroke="#000" stroke-width="0.22" textLength="32.87" lengthAdjust="spacingAndGlyphs" ><tspan font-style="italic">M</tspan><tspan>/</tspan><tspan font-style="italic">M</tspan><tspan font-style="italic" font-size="8.09" dy="2.31">sat</tspan></text>
</g>
<text x="56.20" y="203.90" font-size="10.95" fill="#000" stroke="#000" stroke-width="0.22" textLength="94.69" lengthAdjust="spacingAndGlyphs" ><tspan>KCu</tspan><tspan font-size="7.66" dy="2.19">7</tspan><tspan dy="-2.19">(TeO</tspan><tspan font-size="7.66" dy="2.19">4</tspan><tspan dy="-2.19">)(SO</tspan><tspan font-size="7.66" dy="2.19">4</tspan><tspan dy="-2.19">)</tspan><tspan font-size="7.66" dy="2.19">5</tspan><tspan dy="-2.19">Cl</tspan></text>
<circle cx="68.8" cy="216.6" r="2.0" fill="#fff" stroke="#000" stroke-width="0.7"/>
<text x="86.20" y="219.00" font-size="10.95" fill="#000" stroke="#000" stroke-width="0.22" textLength="62.12" lengthAdjust="spacingAndGlyphs" ><tspan font-style="italic">T</tspan><tspan> = 0.0118 </tspan><tspan font-style="italic">J</tspan><tspan font-size="7.66" dy="2.19">4</tspan></text>
<line x1="47.2" y1="397.3" x2="329.4" y2="397.3" stroke="#000" stroke-width="1.5" stroke-linecap="butt" stroke-dasharray="5,2.3"/>
<line x1="188.6" y1="326" x2="188.6" y2="468.4" stroke="#000" stroke-width="1.5" stroke-linecap="butt" stroke-dasharray="5,2.3"/>
<clipPath id="clipe"><rect x="47.2" y="326" width="282.2" height="142.4"/></clipPath>
<g clip-path="url(#clipe)">
<polyline points="47.6,446.5 49.94,446.33 53.32,446.09 57.01,445.83 60.3,445.6 62.85,445.44 65.09,445.31 67.46,445.15 70.4,444.9 74.25,444.51 78.71,444.03 83.21,443.51 87.2,443 90.46,442.53 93.32,442.06 96.01,441.57 98.8,441 101.7,440.4 104.6,439.76 107.52,439.02 110.5,438.1 113.52,436.94 116.57,435.61 119.69,434.16 122.9,432.7 126.25,431.27 129.71,429.83 133.21,428.27 136.7,426.5 140.17,424.39 143.64,422.04 147.12,419.64 150.6,417.4 154.14,415.33 157.72,413.33 161.22,411.47 164.5,409.8 167.54,408.37 170.4,407.14 173.09,406.04 175.6,405 177.96,404.05 180.15,403.21 182.14,402.39 183.9,401.5 185.33,400.5 186.47,399.44 187.51,398.37 188.6,397.3 189.69,396.23 190.72,395.16 191.87,394.1 193.3,393.1 195.06,392.21 197.05,391.39 199.24,390.55 201.6,389.6 204.11,388.56 206.8,387.46 209.66,386.23 212.7,384.8 215.98,383.13 219.47,381.27 223.06,379.27 226.6,377.2 230.08,374.96 233.56,372.56 237.03,370.21 240.5,368.1 243.99,366.33 247.49,364.77 250.95,363.33 254.3,361.9 257.51,360.44 260.63,358.99 263.68,357.66 266.7,356.5 269.68,355.58 272.6,354.84 275.5,354.2 278.4,353.6 281.19,353.03 283.88,352.54 286.74,352.07 290,351.6 293.99,351.09 298.49,350.57 302.95,350.09 306.8,349.7 309.74,349.45 312.11,349.29 314.35,349.16 316.9,349 320.19,348.77 323.88,348.51 327.26,348.27 329.6,348.1" fill="none" stroke="#0f3ed0" stroke-width="1.6" stroke-linecap="butt" stroke-linejoin="round"/>
<polyline points="70.4,444.9 74.25,444.51 78.71,444.03 83.21,443.51 87.2,443 90.46,442.53 93.32,442.06 96.01,441.57 98.8,441 101.7,440.4 104.6,439.76 107.52,439.02 110.5,438.1 113.52,436.94 116.57,435.61 119.69,434.16 122.9,432.7 126.25,431.27 129.71,429.83 133.21,428.27 136.7,426.5 140.17,424.39 143.64,422.04 147.12,419.64 150.6,417.4 154.14,415.33 157.72,413.33 161.22,411.47 164.5,409.8 167.54,408.37 170.4,407.14 173.09,406.04 175.6,405 177.96,404.05 180.15,403.21 182.14,402.39 183.9,401.5 185.33,400.5 186.47,399.44 187.51,398.37 188.6,397.3 189.69,396.23 190.72,395.16 191.87,394.1 193.3,393.1 195.06,392.21 197.05,391.39 199.24,390.55 201.6,389.6 204.11,388.56 206.8,387.46 209.66,386.23 212.7,384.8 215.98,383.13 219.47,381.27 223.06,379.27 226.6,377.2 230.08,374.96 233.56,372.56 237.03,370.21 240.5,368.1 243.99,366.33 247.49,364.77 250.95,363.33 254.3,361.9 257.51,360.44 260.63,358.99 263.68,357.66 266.7,356.5 269.68,355.58 272.6,354.84 275.5,354.2 278.4,353.6 281.19,353.03 283.88,352.54 286.74,352.07 290,351.6 293.99,351.09 298.49,350.57 302.95,350.09 306.8,349.7" fill="none" stroke="#0f3ed0" stroke-width="2.6" stroke-linecap="butt" stroke-linejoin="round"/>
<polyline points="47.6,452.7 49.94,452.59 53.32,452.44 57.01,452.26 60.3,452.1 62.85,451.98 65.09,451.88 67.46,451.73 70.4,451.5 74.25,451.13 78.71,450.67 83.21,450.17 87.2,449.7 90.46,449.3 93.32,448.92 96.01,448.51 98.8,448 101.7,447.41 104.6,446.76 107.52,446.01 110.5,445.1 113.52,444.01 116.57,442.78 119.69,441.43 122.9,440 126.25,438.51 129.71,436.94 133.21,435.25 136.7,433.4 140.17,431.32 143.64,429.05 147.12,426.71 150.6,424.4 154.14,422.12 157.72,419.82 161.22,417.56 164.5,415.4 167.54,413.31 170.4,411.28 173.09,409.38 175.6,407.7 177.96,406.36 180.15,405.28 182.14,404.26 183.9,403.1 185.33,401.73 186.47,400.28 187.51,398.78 188.6,397.3 189.69,395.82 190.72,394.32 191.87,392.87 193.3,391.5 195.06,390.34 197.05,389.32 199.24,388.24 201.6,386.9 204.11,385.22 206.8,383.32 209.66,381.29 212.7,379.2 215.98,377.04 219.47,374.78 223.06,372.48 226.6,370.2 230.08,367.89 233.56,365.55 237.03,363.28 240.5,361.2 243.99,359.35 247.49,357.66 250.95,356.09 254.3,354.6 257.51,353.17 260.63,351.82 263.68,350.59 266.7,349.5 269.68,348.59 272.6,347.84 275.5,347.19 278.4,346.6 281.19,346.09 283.88,345.68 286.74,345.3 290,344.9 293.99,344.43 298.49,343.93 302.95,343.47 306.8,343.1 309.74,342.87 312.11,342.73 314.35,342.62 316.9,342.5 320.19,342.34 323.88,342.16 327.26,342.01 329.6,341.9" fill="none" stroke="#d8085a" stroke-width="2.2" stroke-linecap="butt" stroke-linejoin="round"/>
<polyline points="70.4,451.5 74.25,451.13 78.71,450.67 83.21,450.17 87.2,449.7 90.46,449.3 93.32,448.92 96.01,448.51 98.8,448 101.7,447.41 104.6,446.76 107.52,446.01 110.5,445.1 113.52,444.01 116.57,442.78 119.69,441.43 122.9,440 126.25,438.51 129.71,436.94 133.21,435.25 136.7,433.4 140.17,431.32 143.64,429.05 147.12,426.71 150.6,424.4 154.14,422.12 157.72,419.82 161.22,417.56 164.5,415.4 167.54,413.31 170.4,411.28 173.09,409.38 175.6,407.7 177.96,406.36 180.15,405.28 182.14,404.26 183.9,403.1 185.33,401.73 186.47,400.28 187.51,398.78 188.6,397.3 189.69,395.82 190.72,394.32 191.87,392.87 193.3,391.5 195.06,390.34 197.05,389.32 199.24,388.24 201.6,386.9 204.11,385.22 206.8,383.32 209.66,381.29 212.7,379.2 215.98,377.04 219.47,374.78 223.06,372.48 226.6,370.2 230.08,367.89 233.56,365.55 237.03,363.28 240.5,361.2 243.99,359.35 247.49,357.66 250.95,356.09 254.3,354.6 257.51,353.17 260.63,351.82 263.68,350.59 266.7,349.5 269.68,348.59 272.6,347.84 275.5,347.19 278.4,346.6 281.19,346.09 283.88,345.68 286.74,345.3 290,344.9 293.99,344.43 298.49,343.93 302.95,343.47 306.8,343.1" fill="none" stroke="#d8085a" stroke-width="3.8" stroke-linecap="butt" stroke-linejoin="round"/>
<polyline points="47.6,460 60.3,459.1 70.4,458.5 87.2,457.6 98.8,456.7 110.5,455.6 120.2,455 127.2,454.4 132.2,453.6 137.2,452.6 142.2,450.6 147.2,448.6 151.2,447.6 153.2,446.1 155.2,445.6 157.2,443.6 159.2,440.6 160.7,438.6 162.2,439.6 164.2,437.1 165.7,436.1 167.2,437.1 169.2,434.6 170.2,428.1 171.2,426.6 173.2,421.1 174.2,417.6 175.2,418.1 177.2,413.6 177.8,408.6 178.6,404.7 181.2,402.6 185.2,400.1 188.6,397.3 192,394.5 196,392 198.6,389.9 199.4,386 200,381 202,376.5 203,377 204,373.5 206,368 207,366.5 208,360 210,357.5 211.5,358.5 213,357.5 215,355 216.5,356 218,354 220,351 222,349 224,348.5 226,347 230,346 235,344 240,342 245,341 250,340.2 257,339.6 266.7,339 278.4,337.9 290,337 306.8,336.1 316.9,335.5 329.6,334.6" fill="none" stroke="#0a7a40" stroke-width="1.6" stroke-linecap="butt" stroke-linejoin="round"/>
<polyline points="70.4,458.5 87.2,457.6 98.8,456.7 110.5,455.6 120.2,455 127.2,454.4 132.2,453.6 137.2,452.6 142.2,450.6 147.2,448.6 151.2,447.6 153.2,446.1 155.2,445.6 157.2,443.6 159.2,440.6 160.7,438.6 162.2,439.6 164.2,437.1 165.7,436.1 167.2,437.1 169.2,434.6 170.2,428.1 171.2,426.6 173.2,421.1 174.2,417.6 175.2,418.1 177.2,413.6 177.8,408.6 178.6,404.7 181.2,402.6 185.2,400.1 188.6,397.3 192,394.5 196,392 198.6,389.9 199.4,386 200,381 202,376.5 203,377 204,373.5 206,368 207,366.5 208,360 210,357.5 211.5,358.5 213,357.5 215,355 216.5,356 218,354 220,351 222,349 224,348.5 226,347 230,346 235,344 240,342 245,341 250,340.2 257,339.6 266.7,339 278.4,337.9 290,337 306.8,336.1" fill="none" stroke="#0a7a40" stroke-width="1.9" stroke-linecap="butt" stroke-linejoin="round"/>
<rect x="70.25" y="457.14" width="2.6" height="2.6" fill="#0a7a40"/>
<rect x="73.24" y="456.98" width="2.6" height="2.6" fill="#0a7a40"/>
<rect x="76.24" y="456.82" width="2.6" height="2.6" fill="#0a7a40"/>
<rect x="79.24" y="456.66" width="2.6" height="2.6" fill="#0a7a40"/>
<rect x="82.23" y="456.50" width="2.6" height="2.6" fill="#0a7a40"/>
<rect x="85.23" y="456.34" width="2.6" height="2.6" fill="#0a7a40"/>
<rect x="88.22" y="456.12" width="2.6" height="2.6" fill="#0a7a40"/>
<rect x="91.21" y="455.89" width="2.6" height="2.6" fill="#0a7a40"/>
<rect x="94.20" y="455.66" width="2.6" height="2.6" fill="#0a7a40"/>
<rect x="97.19" y="455.42" width="2.6" height="2.6" fill="#0a7a40"/>
<rect x="100.18" y="455.15" width="2.6" height="2.6" fill="#0a7a40"/>
<rect x="103.17" y="454.87" width="2.6" height="2.6" fill="#0a7a40"/>
<rect x="106.15" y="454.59" width="2.6" height="2.6" fill="#0a7a40"/>
<rect x="109.14" y="454.31" width="2.6" height="2.6" fill="#0a7a40"/>
<rect x="112.13" y="454.12" width="2.6" height="2.6" fill="#0a7a40"/>
<rect x="115.13" y="453.93" width="2.6" height="2.6" fill="#0a7a40"/>
<rect x="118.12" y="453.75" width="2.6" height="2.6" fill="#0a7a40"/>
<rect x="121.11" y="453.51" width="2.6" height="2.6" fill="#0a7a40"/>
<rect x="124.10" y="453.25" width="2.6" height="2.6" fill="#0a7a40"/>
<rect x="127.08" y="452.91" width="2.6" height="2.6" fill="#0a7a40"/>
<rect x="130.04" y="452.44" width="2.6" height="2.6" fill="#0a7a40"/>
<rect x="132.99" y="451.88" width="2.6" height="2.6" fill="#0a7a40"/>
<rect x="135.93" y="451.29" width="2.6" height="2.6" fill="#0a7a40"/>
<rect x="138.72" y="450.17" width="2.6" height="2.6" fill="#0a7a40"/>
<rect x="141.50" y="449.06" width="2.6" height="2.6" fill="#0a7a40"/>
<rect x="144.29" y="447.95" width="2.6" height="2.6" fill="#0a7a40"/>
<rect x="147.12" y="446.99" width="2.6" height="2.6" fill="#0a7a40"/>
<rect x="150.01" y="446.22" width="2.6" height="2.6" fill="#0a7a40"/>
<rect x="152.52" y="444.64" width="2.6" height="2.6" fill="#0a7a40"/>
<rect x="155.02" y="443.18" width="2.6" height="2.6" fill="#0a7a40"/>
<rect x="156.87" y="440.84" width="2.6" height="2.6" fill="#0a7a40"/>
<rect x="158.59" y="438.38" width="2.6" height="2.6" fill="#0a7a40"/>
<rect x="160.77" y="438.21" width="2.6" height="2.6" fill="#0a7a40"/>
<rect x="162.67" y="436.08" width="2.6" height="2.6" fill="#0a7a40"/>
<rect x="165.10" y="435.26" width="2.6" height="2.6" fill="#0a7a40"/>
<rect x="167.17" y="434.21" width="2.6" height="2.6" fill="#0a7a40"/>
<rect x="168.18" y="431.49" width="2.6" height="2.6" fill="#0a7a40"/>
<rect x="168.63" y="428.52" width="2.6" height="2.6" fill="#0a7a40"/>
<rect x="169.60" y="425.75" width="2.6" height="2.6" fill="#0a7a40"/>
<rect x="170.74" y="422.99" width="2.6" height="2.6" fill="#0a7a40"/>
<rect x="171.76" y="420.18" width="2.6" height="2.6" fill="#0a7a40"/>
<rect x="172.61" y="417.30" width="2.6" height="2.6" fill="#0a7a40"/>
<rect x="174.24" y="416.03" width="2.6" height="2.6" fill="#0a7a40"/>
<rect x="175.46" y="413.29" width="2.6" height="2.6" fill="#0a7a40"/>
<rect x="176.13" y="410.40" width="2.6" height="2.6" fill="#0a7a40"/>
<rect x="176.49" y="407.42" width="2.6" height="2.6" fill="#0a7a40"/>
<rect x="177.08" y="404.48" width="2.6" height="2.6" fill="#0a7a40"/>
<rect x="178.78" y="402.21" width="2.6" height="2.6" fill="#0a7a40"/>
<rect x="181.22" y="400.47" width="2.6" height="2.6" fill="#0a7a40"/>
<rect x="183.77" y="398.88" width="2.6" height="2.6" fill="#0a7a40"/>
<rect x="186.09" y="396.99" width="2.6" height="2.6" fill="#0a7a40"/>
<rect x="188.41" y="395.09" width="2.6" height="2.6" fill="#0a7a40"/>
<rect x="190.73" y="393.18" width="2.6" height="2.6" fill="#0a7a40"/>
<rect x="193.27" y="391.59" width="2.6" height="2.6" fill="#0a7a40"/>
<rect x="195.72" y="389.87" width="2.6" height="2.6" fill="#0a7a40"/>
<rect x="197.50" y="387.65" width="2.6" height="2.6" fill="#0a7a40"/>
<rect x="198.10" y="384.71" width="2.6" height="2.6" fill="#0a7a40"/>
<rect x="198.46" y="381.73" width="2.6" height="2.6" fill="#0a7a40"/>
<rect x="199.09" y="378.83" width="2.6" height="2.6" fill="#0a7a40"/>
<rect x="200.31" y="376.08" width="2.6" height="2.6" fill="#0a7a40"/>
<rect x="201.95" y="374.82" width="2.6" height="2.6" fill="#0a7a40"/>
<rect x="202.79" y="371.94" width="2.6" height="2.6" fill="#0a7a40"/>
<rect x="203.82" y="369.12" width="2.6" height="2.6" fill="#0a7a40"/>
<rect x="204.93" y="366.35" width="2.6" height="2.6" fill="#0a7a40"/>
<rect x="205.95" y="363.60" width="2.6" height="2.6" fill="#0a7a40"/>
<rect x="206.40" y="360.63" width="2.6" height="2.6" fill="#0a7a40"/>
<rect x="207.35" y="357.89" width="2.6" height="2.6" fill="#0a7a40"/>
<rect x="209.40" y="356.67" width="2.6" height="2.6" fill="#0a7a40"/>
<rect x="211.85" y="356.02" width="2.6" height="2.6" fill="#0a7a40"/>
<rect x="213.73" y="353.72" width="2.6" height="2.6" fill="#0a7a40"/>
<rect x="215.94" y="353.71" width="2.6" height="2.6" fill="#0a7a40"/>
<rect x="217.66" y="351.26" width="2.6" height="2.6" fill="#0a7a40"/>
<rect x="219.50" y="348.90" width="2.6" height="2.6" fill="#0a7a40"/>
<rect x="221.96" y="347.39" width="2.6" height="2.6" fill="#0a7a40"/>
<rect x="224.49" y="345.86" width="2.6" height="2.6" fill="#0a7a40"/>
<rect x="227.35" y="345.04" width="2.6" height="2.6" fill="#0a7a40"/>
<rect x="230.20" y="344.10" width="2.6" height="2.6" fill="#0a7a40"/>
<rect x="232.98" y="342.99" width="2.6" height="2.6" fill="#0a7a40"/>
<rect x="235.77" y="341.87" width="2.6" height="2.6" fill="#0a7a40"/>
<rect x="238.55" y="340.76" width="2.6" height="2.6" fill="#0a7a40"/>
<rect x="241.49" y="340.14" width="2.6" height="2.6" fill="#0a7a40"/>
<rect x="244.43" y="339.58" width="2.6" height="2.6" fill="#0a7a40"/>
<rect x="247.40" y="339.11" width="2.6" height="2.6" fill="#0a7a40"/>
<rect x="250.37" y="338.76" width="2.6" height="2.6" fill="#0a7a40"/>
<rect x="253.36" y="338.50" width="2.6" height="2.6" fill="#0a7a40"/>
<rect x="256.35" y="338.26" width="2.6" height="2.6" fill="#0a7a40"/>
<rect x="259.35" y="338.07" width="2.6" height="2.6" fill="#0a7a40"/>
<rect x="262.34" y="337.89" width="2.6" height="2.6" fill="#0a7a40"/>
<rect x="265.34" y="337.70" width="2.6" height="2.6" fill="#0a7a40"/>
<rect x="268.32" y="337.43" width="2.6" height="2.6" fill="#0a7a40"/>
<rect x="271.31" y="337.14" width="2.6" height="2.6" fill="#0a7a40"/>
<rect x="274.30" y="336.86" width="2.6" height="2.6" fill="#0a7a40"/>
<rect x="277.28" y="336.59" width="2.6" height="2.6" fill="#0a7a40"/>
<rect x="280.27" y="336.35" width="2.6" height="2.6" fill="#0a7a40"/>
<rect x="283.27" y="336.12" width="2.6" height="2.6" fill="#0a7a40"/>
<rect x="286.26" y="335.89" width="2.6" height="2.6" fill="#0a7a40"/>
<rect x="289.25" y="335.67" width="2.6" height="2.6" fill="#0a7a40"/>
<rect x="292.24" y="335.51" width="2.6" height="2.6" fill="#0a7a40"/>
<rect x="295.24" y="335.35" width="2.6" height="2.6" fill="#0a7a40"/>
<rect x="298.24" y="335.19" width="2.6" height="2.6" fill="#0a7a40"/>
<rect x="301.23" y="335.03" width="2.6" height="2.6" fill="#0a7a40"/>
<rect x="304.23" y="334.87" width="2.6" height="2.6" fill="#0a7a40"/>
</g>
<rect x="47.2" y="326" width="282.2" height="142.4" fill="none" stroke="#000" stroke-width="1.8"/>
<line x1="70.4" y1="468.4" x2="70.4" y2="463.5" stroke="#000" stroke-width="1.0" stroke-linecap="butt"/>
<line x1="70.4" y1="326" x2="70.4" y2="330.9" stroke="#000" stroke-width="1.0" stroke-linecap="butt"/>
<line x1="129.5" y1="468.4" x2="129.5" y2="463.5" stroke="#000" stroke-width="1.0" stroke-linecap="butt"/>
<line x1="129.5" y1="326" x2="129.5" y2="330.9" stroke="#000" stroke-width="1.0" stroke-linecap="butt"/>
<line x1="188.6" y1="468.4" x2="188.6" y2="463.5" stroke="#000" stroke-width="1.0" stroke-linecap="butt"/>
<line x1="188.6" y1="326" x2="188.6" y2="330.9" stroke="#000" stroke-width="1.0" stroke-linecap="butt"/>
<line x1="247.7" y1="468.4" x2="247.7" y2="463.5" stroke="#000" stroke-width="1.0" stroke-linecap="butt"/>
<line x1="247.7" y1="326" x2="247.7" y2="330.9" stroke="#000" stroke-width="1.0" stroke-linecap="butt"/>
<line x1="306.8" y1="468.4" x2="306.8" y2="463.5" stroke="#000" stroke-width="1.0" stroke-linecap="butt"/>
<line x1="306.8" y1="326" x2="306.8" y2="330.9" stroke="#000" stroke-width="1.0" stroke-linecap="butt"/>
<line x1="58.58" y1="468.4" x2="58.58" y2="465.4" stroke="#000" stroke-width="1.0" stroke-linecap="butt"/>
<line x1="58.58" y1="326" x2="58.58" y2="329" stroke="#000" stroke-width="1.0" stroke-linecap="butt"/>
<line x1="70.4" y1="468.4" x2="70.4" y2="465.4" stroke="#000" stroke-width="1.0" stroke-linecap="butt"/>
<line x1="70.4" y1="326" x2="70.4" y2="329" stroke="#000" stroke-width="1.0" stroke-linecap="butt"/>
<line x1="82.22" y1="468.4" x2="82.22" y2="465.4" stroke="#000" stroke-width="1.0" stroke-linecap="butt"/>
<line x1="82.22" y1="326" x2="82.22" y2="329" stroke="#000" stroke-width="1.0" stroke-linecap="butt"/>
<line x1="94.04" y1="468.4" x2="94.04" y2="465.4" stroke="#000" stroke-width="1.0" stroke-linecap="butt"/>
<line x1="94.04" y1="326" x2="94.04" y2="329" stroke="#000" stroke-width="1.0" stroke-linecap="butt"/>
<line x1="105.86" y1="468.4" x2="105.86" y2="465.4" stroke="#000" stroke-width="1.0" stroke-linecap="butt"/>
<line x1="105.86" y1="326" x2="105.86" y2="329" stroke="#000" stroke-width="1.0" stroke-linecap="butt"/>
<line x1="117.68" y1="468.4" x2="117.68" y2="465.4" stroke="#000" stroke-width="1.0" stroke-linecap="butt"/>
<line x1="117.68" y1="326" x2="117.68" y2="329" stroke="#000" stroke-width="1.0" stroke-linecap="butt"/>
<line x1="129.5" y1="468.4" x2="129.5" y2="465.4" stroke="#000" stroke-width="1.0" stroke-linecap="butt"/>
<line x1="129.5" y1="326" x2="129.5" y2="329" stroke="#000" stroke-width="1.0" stroke-linecap="butt"/>
<line x1="141.32" y1="468.4" x2="141.32" y2="465.4" stroke="#000" stroke-width="1.0" stroke-linecap="butt"/>
<line x1="141.32" y1="326" x2="141.32" y2="329" stroke="#000" stroke-width="1.0" stroke-linecap="butt"/>
<line x1="153.14" y1="468.4" x2="153.14" y2="465.4" stroke="#000" stroke-width="1.0" stroke-linecap="butt"/>
<line x1="153.14" y1="326" x2="153.14" y2="329" stroke="#000" stroke-width="1.0" stroke-linecap="butt"/>
<line x1="164.96" y1="468.4" x2="164.96" y2="465.4" stroke="#000" stroke-width="1.0" stroke-linecap="butt"/>
<line x1="164.96" y1="326" x2="164.96" y2="329" stroke="#000" stroke-width="1.0" stroke-linecap="butt"/>
<line x1="176.78" y1="468.4" x2="176.78" y2="465.4" stroke="#000" stroke-width="1.0" stroke-linecap="butt"/>
<line x1="176.78" y1="326" x2="176.78" y2="329" stroke="#000" stroke-width="1.0" stroke-linecap="butt"/>
<line x1="188.6" y1="468.4" x2="188.6" y2="465.4" stroke="#000" stroke-width="1.0" stroke-linecap="butt"/>
<line x1="188.6" y1="326" x2="188.6" y2="329" stroke="#000" stroke-width="1.0" stroke-linecap="butt"/>
<line x1="200.42" y1="468.4" x2="200.42" y2="465.4" stroke="#000" stroke-width="1.0" stroke-linecap="butt"/>
<line x1="200.42" y1="326" x2="200.42" y2="329" stroke="#000" stroke-width="1.0" stroke-linecap="butt"/>
<line x1="212.24" y1="468.4" x2="212.24" y2="465.4" stroke="#000" stroke-width="1.0" stroke-linecap="butt"/>
<line x1="212.24" y1="326" x2="212.24" y2="329" stroke="#000" stroke-width="1.0" stroke-linecap="butt"/>
<line x1="224.06" y1="468.4" x2="224.06" y2="465.4" stroke="#000" stroke-width="1.0" stroke-linecap="butt"/>
<line x1="224.06" y1="326" x2="224.06" y2="329" stroke="#000" stroke-width="1.0" stroke-linecap="butt"/>
<line x1="235.88" y1="468.4" x2="235.88" y2="465.4" stroke="#000" stroke-width="1.0" stroke-linecap="butt"/>
<line x1="235.88" y1="326" x2="235.88" y2="329" stroke="#000" stroke-width="1.0" stroke-linecap="butt"/>
<line x1="247.7" y1="468.4" x2="247.7" y2="465.4" stroke="#000" stroke-width="1.0" stroke-linecap="butt"/>
<line x1="247.7" y1="326" x2="247.7" y2="329" stroke="#000" stroke-width="1.0" stroke-linecap="butt"/>
<line x1="259.52" y1="468.4" x2="259.52" y2="465.4" stroke="#000" stroke-width="1.0" stroke-linecap="butt"/>
<line x1="259.52" y1="326" x2="259.52" y2="329" stroke="#000" stroke-width="1.0" stroke-linecap="butt"/>
<line x1="271.34" y1="468.4" x2="271.34" y2="465.4" stroke="#000" stroke-width="1.0" stroke-linecap="butt"/>
<line x1="271.34" y1="326" x2="271.34" y2="329" stroke="#000" stroke-width="1.0" stroke-linecap="butt"/>
<line x1="283.16" y1="468.4" x2="283.16" y2="465.4" stroke="#000" stroke-width="1.0" stroke-linecap="butt"/>
<line x1="283.16" y1="326" x2="283.16" y2="329" stroke="#000" stroke-width="1.0" stroke-linecap="butt"/>
<line x1="294.98" y1="468.4" x2="294.98" y2="465.4" stroke="#000" stroke-width="1.0" stroke-linecap="butt"/>
<line x1="294.98" y1="326" x2="294.98" y2="329" stroke="#000" stroke-width="1.0" stroke-linecap="butt"/>
<line x1="306.8" y1="468.4" x2="306.8" y2="465.4" stroke="#000" stroke-width="1.0" stroke-linecap="butt"/>
<line x1="306.8" y1="326" x2="306.8" y2="329" stroke="#000" stroke-width="1.0" stroke-linecap="butt"/>
<line x1="318.62" y1="468.4" x2="318.62" y2="465.4" stroke="#000" stroke-width="1.0" stroke-linecap="butt"/>
<line x1="318.62" y1="326" x2="318.62" y2="329" stroke="#000" stroke-width="1.0" stroke-linecap="butt"/>
<line x1="47.2" y1="445.3" x2="52.1" y2="445.3" stroke="#000" stroke-width="1.0" stroke-linecap="butt"/>
<line x1="329.4" y1="445.3" x2="324.5" y2="445.3" stroke="#000" stroke-width="1.0" stroke-linecap="butt"/>
<line x1="47.2" y1="397.3" x2="52.1" y2="397.3" stroke="#000" stroke-width="1.0" stroke-linecap="butt"/>
<line x1="329.4" y1="397.3" x2="324.5" y2="397.3" stroke="#000" stroke-width="1.0" stroke-linecap="butt"/>
<line x1="47.2" y1="349.3" x2="52.1" y2="349.3" stroke="#000" stroke-width="1.0" stroke-linecap="butt"/>
<line x1="329.4" y1="349.3" x2="324.5" y2="349.3" stroke="#000" stroke-width="1.0" stroke-linecap="butt"/>
<line x1="47.2" y1="457.3" x2="50.2" y2="457.3" stroke="#000" stroke-width="1.0" stroke-linecap="butt"/>
<line x1="329.4" y1="457.3" x2="326.4" y2="457.3" stroke="#000" stroke-width="1.0" stroke-linecap="butt"/>
<line x1="47.2" y1="445.3" x2="50.2" y2="445.3" stroke="#000" stroke-width="1.0" stroke-linecap="butt"/>
<line x1="329.4" y1="445.3" x2="326.4" y2="445.3" stroke="#000" stroke-width="1.0" stroke-linecap="butt"/>
<line x1="47.2" y1="433.3" x2="50.2" y2="433.3" stroke="#000" stroke-width="1.0" stroke-linecap="butt"/>
<line x1="329.4" y1="433.3" x2="326.4" y2="433.3" stroke="#000" stroke-width="1.0" stroke-linecap="butt"/>
<line x1="47.2" y1="421.3" x2="50.2" y2="421.3" stroke="#000" stroke-width="1.0" stroke-linecap="butt"/>
<line x1="329.4" y1="421.3" x2="326.4" y2="421.3" stroke="#000" stroke-width="1.0" stroke-linecap="butt"/>
<line x1="47.2" y1="409.3" x2="50.2" y2="409.3" stroke="#000" stroke-width="1.0" stroke-linecap="butt"/>
<line x1="329.4" y1="409.3" x2="326.4" y2="409.3" stroke="#000" stroke-width="1.0" stroke-linecap="butt"/>
<line x1="47.2" y1="397.3" x2="50.2" y2="397.3" stroke="#000" stroke-width="1.0" stroke-linecap="butt"/>
<line x1="329.4" y1="397.3" x2="326.4" y2="397.3" stroke="#000" stroke-width="1.0" stroke-linecap="butt"/>
<line x1="47.2" y1="385.3" x2="50.2" y2="385.3" stroke="#000" stroke-width="1.0" stroke-linecap="butt"/>
<line x1="329.4" y1="385.3" x2="326.4" y2="385.3" stroke="#000" stroke-width="1.0" stroke-linecap="butt"/>
<line x1="47.2" y1="373.3" x2="50.2" y2="373.3" stroke="#000" stroke-width="1.0" stroke-linecap="butt"/>
<line x1="329.4" y1="373.3" x2="326.4" y2="373.3" stroke="#000" stroke-width="1.0" stroke-linecap="butt"/>
<line x1="47.2" y1="361.3" x2="50.2" y2="361.3" stroke="#000" stroke-width="1.0" stroke-linecap="butt"/>
<line x1="329.4" y1="361.3" x2="326.4" y2="361.3" stroke="#000" stroke-width="1.0" stroke-linecap="butt"/>
<line x1="47.2" y1="349.3" x2="50.2" y2="349.3" stroke="#000" stroke-width="1.0" stroke-linecap="butt"/>
<line x1="329.4" y1="349.3" x2="326.4" y2="349.3" stroke="#000" stroke-width="1.0" stroke-linecap="butt"/>
<line x1="47.2" y1="337.3" x2="50.2" y2="337.3" stroke="#000" stroke-width="1.0" stroke-linecap="butt"/>
<line x1="329.4" y1="337.3" x2="326.4" y2="337.3" stroke="#000" stroke-width="1.0" stroke-linecap="butt"/>
<text x="18.92" y="353.10" font-size="11.13" fill="#000" stroke="#000" stroke-width="0.22" textLength="23.38" lengthAdjust="spacingAndGlyphs" ><tspan>0.04</tspan></text>
<text x="35.62" y="401.10" font-size="11.13" fill="#000" stroke="#000" stroke-width="0.22" textLength="6.68" lengthAdjust="spacingAndGlyphs" ><tspan>0</tspan></text>
<text x="15.13" y="449.10" font-size="11.13" fill="#000" stroke="#000" stroke-width="0.22" textLength="27.17" lengthAdjust="spacingAndGlyphs" ><tspan>-0.04</tspan></text>
<text x="56.82" y="481.80" font-size="11.13" fill="#000" stroke="#000" stroke-width="0.22" textLength="27.17" lengthAdjust="spacingAndGlyphs" ><tspan>-0.01</tspan></text>
<text x="112.58" y="481.80" font-size="11.13" fill="#000" stroke="#000" stroke-width="0.22" textLength="33.85" lengthAdjust="spacingAndGlyphs" ><tspan>-0.005</tspan></text>
<text x="185.26" y="481.80" font-size="11.13" fill="#000" stroke="#000" stroke-width="0.22" textLength="6.68" lengthAdjust="spacingAndGlyphs" ><tspan>0</tspan></text>
<text x="232.67" y="481.80" font-size="11.13" fill="#000" stroke="#000" stroke-width="0.22" textLength="30.06" lengthAdjust="spacingAndGlyphs" ><tspan>0.005</tspan></text>
<text x="295.11" y="481.80" font-size="11.13" fill="#000" stroke="#000" stroke-width="0.22" textLength="23.38" lengthAdjust="spacingAndGlyphs" ><tspan>0.01</tspan></text>
<text x="2.60" y="335.20" font-size="13.20" font-weight="bold" fill="#000" stroke="#000" stroke-width="0.22" textLength="8.14" lengthAdjust="spacingAndGlyphs" ><tspan>e</tspan></text>
<g transform="translate(8.2,397.3) rotate(-90)">
<text x="-16.44" y="0.00" font-size="11.55" fill="#000" stroke="#000" stroke-width="0.22" textLength="32.87" lengthAdjust="spacingAndGlyphs" ><tspan font-style="italic">M</tspan><tspan>/</tspan><tspan font-style="italic">M</tspan><tspan font-style="italic" font-size="8.09" dy="2.31">sat</tspan></text>
</g>
<text x="179.02" y="496.70" font-size="11.55" fill="#000" stroke="#000" stroke-width="0.22" textLength="17.97" lengthAdjust="spacingAndGlyphs" ><tspan font-style="italic">h</tspan><tspan>/</tspan><tspan font-style="italic">J</tspan><tspan font-size="8.09" dy="2.31">4</tspan></text>
<polygon points="188.6,341.7 189.8,344.14 192.5,344.53 190.55,346.43 191.01,349.12 188.6,347.85 186.19,349.12 186.65,346.43 184.7,344.53 187.4,344.14" fill="#7f9a9f"/>
<line x1="55" y1="339.4" x2="76" y2="339.4" stroke="#0f3ed0" stroke-width="1.9" stroke-linecap="butt"/>
<circle cx="65.4" cy="339.4" r="2.45" fill="#0f3ed0"/>
<text x="83.30" y="342.30" font-size="10.95" fill="#000" stroke="#000" stroke-width="0.22" textLength="79.08" lengthAdjust="spacingAndGlyphs" ><tspan>3D </tspan><tspan font-style="italic">T</tspan><tspan> = 0.0114 </tspan><tspan font-style="italic">J</tspan><tspan font-size="7.66" dy="2.19">4</tspan></text>
<line x1="55" y1="354.9" x2="76" y2="354.9" stroke="#0a7a40" stroke-width="1.9" stroke-linecap="butt"/>
<rect x="63.0" y="352.5" width="4.8" height="4.8" fill="#0a7a40"/>
<text x="83.30" y="358.10" font-size="10.95" fill="#000" stroke="#000" stroke-width="0.22" textLength="79.08" lengthAdjust="spacingAndGlyphs" ><tspan>3D </tspan><tspan font-style="italic">T</tspan><tspan> = 0.0002 </tspan><tspan font-style="italic">J</tspan><tspan font-size="7.66" dy="2.19">4</tspan></text>
<line x1="54.5" y1="370.9" x2="76.7" y2="370.9" stroke="#d8085a" stroke-width="2.8" stroke-linecap="butt"/>
<circle cx="65.4" cy="370.9" r="1.9" fill="#d8085a"/>
<text x="83.30" y="374.00" font-size="10.95" fill="#000" stroke="#000" stroke-width="0.22" textLength="79.08" lengthAdjust="spacingAndGlyphs" ><tspan>2D </tspan><tspan font-style="italic">T</tspan><tspan> = 0.0018 </tspan><tspan font-style="italic">J</tspan><tspan font-size="7.66" dy="2.19">4</tspan></text>
<polygon points="65.4,382.4 66.72,385.08 69.68,385.51 67.54,387.6 68.05,390.54 65.4,389.15 62.75,390.54 63.26,387.6 61.12,385.51 64.08,385.08" fill="#7f9a9f"/>
<text x="83.30" y="389.50" font-size="10.95" fill="#000" stroke="#000" stroke-width="0.22" textLength="86.93" lengthAdjust="spacingAndGlyphs" ><tspan>KCu</tspan><tspan font-size="7.66" dy="2.19">7</tspan><tspan dy="-2.19">TeO</tspan><tspan font-size="7.66" dy="2.19">4</tspan><tspan dy="-2.19">(SO</tspan><tspan font-size="7.66" dy="2.19">4</tspan><tspan dy="-2.19">)</tspan><tspan font-size="7.66" dy="2.19">5</tspan><tspan dy="-2.19">Cl</tspan></text>
<rect x="399.8" y="139.0" width="282.2" height="6.6" fill="#bcd400"/>
<line x1="399.8" y1="76" x2="682" y2="76" stroke="#000" stroke-width="1.4" stroke-linecap="butt" stroke-dasharray="5.1,2.2"/>
<polygon points="410.8,61.9 414.41,68.55 407.19,68.55" fill="#c6def9"/>
<rect x="407.4" y="62.3" width="6.8" height="6.8" fill="#0a2fa6"/>
<circle cx="480.6" cy="65.7" r="3.7" fill="#0a7dfa"/>
<circle cx="481.8" cy="65.7" r="3.7" fill="#0a7dfa"/>
<rect x="548.2" y="62.3" width="6.8" height="6.8" fill="#0a2fa6"/>
<polygon points="551.6,62.7 554.74,68.47 548.47,68.47" fill="#c6def9"/>
<circle cx="621.5" cy="65.7" r="3.7" fill="#0a7dfa"/>
<circle cx="622.5" cy="65.7" r="3.7" fill="#0a7dfa"/>
<polygon points="620.45,62 623.55,62 623.55,64.15 625.7,64.15 625.7,67.25 623.55,67.25 623.55,69.4 620.45,69.4 620.45,67.25 618.3,67.25 618.3,64.15 620.45,64.15" fill="#7f989c"/>
<polygon points="410.8,80.3 414,82.15 414,85.85 410.8,87.7 407.6,85.85 407.6,82.15" fill="#f03c10"/>
<polygon points="479.15,79.9 481.2,81.44 483.25,79.9 485.3,81.95 483.76,84 485.3,86.05 483.25,88.1 481.2,86.56 479.15,88.1 477.1,86.05 478.64,84 477.1,81.95" fill="#ff8a00"/>
<polygon points="551.6,80.3 554.8,82.15 554.8,85.85 551.6,87.7 548.4,85.85 548.4,82.15" fill="#f03c10"/>
<polygon points="619.95,79.9 622,81.44 624.05,79.9 626.1,81.95 624.56,84 626.1,86.05 624.05,88.1 622,86.56 619.95,88.1 617.9,86.05 619.44,84 617.9,81.95" fill="#ff8a00"/>
<rect x="406.4" y="122" width="73" height="25" fill="#fff" fill-opacity="0.8" stroke="#505050" stroke-width="0.8"/>
<text x="409.00" y="129.60" font-size="9.79" fill="#000" stroke="#000" stroke-width="0.22" textLength="22.52" lengthAdjust="spacingAndGlyphs" ><tspan font-style="italic">T</tspan><tspan> = 0</tspan></text>
<text x="409.00" y="142.20" font-size="9.79" fill="#000" stroke="#000" stroke-width="0.22" textLength="68.17" lengthAdjust="spacingAndGlyphs" ><tspan font-style="italic">h</tspan><tspan> = 0.02 </tspan><tspan font-style="italic">J</tspan><tspan font-size="6.85" dy="1.96">4</tspan><tspan dy="-1.96"> (2D)</tspan></text>
<rect x="399.8" y="0.9" width="282.2" height="150.5" fill="none" stroke="#000" stroke-width="1.8"/>
<line x1="399.82" y1="151.4" x2="399.82" y2="146.5" stroke="#000" stroke-width="1.0" stroke-linecap="butt"/>
<line x1="399.82" y1="0.9" x2="399.82" y2="5.8" stroke="#000" stroke-width="1.0" stroke-linecap="butt"/>
<line x1="435.04" y1="151.4" x2="435.04" y2="146.5" stroke="#000" stroke-width="1.0" stroke-linecap="butt"/>
<line x1="435.04" y1="0.9" x2="435.04" y2="5.8" stroke="#000" stroke-width="1.0" stroke-linecap="butt"/>
<line x1="470.26" y1="151.4" x2="470.26" y2="146.5" stroke="#000" stroke-width="1.0" stroke-linecap="butt"/>
<line x1="470.26" y1="0.9" x2="470.26" y2="5.8" stroke="#000" stroke-width="1.0" stroke-linecap="butt"/>
<line x1="505.48" y1="151.4" x2="505.48" y2="146.5" stroke="#000" stroke-width="1.0" stroke-linecap="butt"/>
<line x1="505.48" y1="0.9" x2="505.48" y2="5.8" stroke="#000" stroke-width="1.0" stroke-linecap="butt"/>
<line x1="540.7" y1="151.4" x2="540.7" y2="146.5" stroke="#000" stroke-width="1.0" stroke-linecap="butt"/>
<line x1="540.7" y1="0.9" x2="540.7" y2="5.8" stroke="#000" stroke-width="1.0" stroke-linecap="butt"/>
<line x1="575.92" y1="151.4" x2="575.92" y2="146.5" stroke="#000" stroke-width="1.0" stroke-linecap="butt"/>
<line x1="575.92" y1="0.9" x2="575.92" y2="5.8" stroke="#000" stroke-width="1.0" stroke-linecap="butt"/>
<line x1="611.14" y1="151.4" x2="611.14" y2="146.5" stroke="#000" stroke-width="1.0" stroke-linecap="butt"/>
<line x1="611.14" y1="0.9" x2="611.14" y2="5.8" stroke="#000" stroke-width="1.0" stroke-linecap="butt"/>
<line x1="646.36" y1="151.4" x2="646.36" y2="146.5" stroke="#000" stroke-width="1.0" stroke-linecap="butt"/>
<line x1="646.36" y1="0.9" x2="646.36" y2="5.8" stroke="#000" stroke-width="1.0" stroke-linecap="butt"/>
<line x1="681.58" y1="151.4" x2="681.58" y2="146.5" stroke="#000" stroke-width="1.0" stroke-linecap="butt"/>
<line x1="681.58" y1="0.9" x2="681.58" y2="5.8" stroke="#000" stroke-width="1.0" stroke-linecap="butt"/>
<line x1="399.82" y1="151.4" x2="399.82" y2="148.4" stroke="#000" stroke-width="1.0" stroke-linecap="butt"/>
<line x1="399.82" y1="0.9" x2="399.82" y2="3.9" stroke="#000" stroke-width="1.0" stroke-linecap="butt"/>
<line x1="408.63" y1="151.4" x2="408.63" y2="148.4" stroke="#000" stroke-width="1.0" stroke-linecap="butt"/>
<line x1="408.63" y1="0.9" x2="408.63" y2="3.9" stroke="#000" stroke-width="1.0" stroke-linecap="butt"/>
<line x1="417.43" y1="151.4" x2="417.43" y2="148.4" stroke="#000" stroke-width="1.0" stroke-linecap="butt"/>
<line x1="417.43" y1="0.9" x2="417.43" y2="3.9" stroke="#000" stroke-width="1.0" stroke-linecap="butt"/>
<line x1="426.24" y1="151.4" x2="426.24" y2="148.4" stroke="#000" stroke-width="1.0" stroke-linecap="butt"/>
<line x1="426.24" y1="0.9" x2="426.24" y2="3.9" stroke="#000" stroke-width="1.0" stroke-linecap="butt"/>
<line x1="435.04" y1="151.4" x2="435.04" y2="148.4" stroke="#000" stroke-width="1.0" stroke-linecap="butt"/>
<line x1="435.04" y1="0.9" x2="435.04" y2="3.9" stroke="#000" stroke-width="1.0" stroke-linecap="butt"/>
<line x1="443.85" y1="151.4" x2="443.85" y2="148.4" stroke="#000" stroke-width="1.0" stroke-linecap="butt"/>
<line x1="443.85" y1="0.9" x2="443.85" y2="3.9" stroke="#000" stroke-width="1.0" stroke-linecap="butt"/>
<line x1="452.65" y1="151.4" x2="452.65" y2="148.4" stroke="#000" stroke-width="1.0" stroke-linecap="butt"/>
<line x1="452.65" y1="0.9" x2="452.65" y2="3.9" stroke="#000" stroke-width="1.0" stroke-linecap="butt"/>
<line x1="461.46" y1="151.4" x2="461.46" y2="148.4" stroke="#000" stroke-width="1.0" stroke-linecap="butt"/>
<line x1="461.46" y1="0.9" x2="461.46" y2="3.9" stroke="#000" stroke-width="1.0" stroke-linecap="butt"/>
<line x1="470.26" y1="151.4" x2="470.26" y2="148.4" stroke="#000" stroke-width="1.0" stroke-linecap="butt"/>
<line x1="470.26" y1="0.9" x2="470.26" y2="3.9" stroke="#000" stroke-width="1.0" stroke-linecap="butt"/>
<line x1="479.07" y1="151.4" x2="479.07" y2="148.4" stroke="#000" stroke-width="1.0" stroke-linecap="butt"/>
<line x1="479.07" y1="0.9" x2="479.07" y2="3.9" stroke="#000" stroke-width="1.0" stroke-linecap="butt"/>
<line x1="487.87" y1="151.4" x2="487.87" y2="148.4" stroke="#000" stroke-width="1.0" stroke-linecap="butt"/>
<line x1="487.87" y1="0.9" x2="487.87" y2="3.9" stroke="#000" stroke-width="1.0" stroke-linecap="butt"/>
<line x1="496.68" y1="151.4" x2="496.68" y2="148.4" stroke="#000" stroke-width="1.0" stroke-linecap="butt"/>
<line x1="496.68" y1="0.9" x2="496.68" y2="3.9" stroke="#000" stroke-width="1.0" stroke-linecap="butt"/>
<line x1="505.48" y1="151.4" x2="505.48" y2="148.4" stroke="#000" stroke-width="1.0" stroke-linecap="butt"/>
<line x1="505.48" y1="0.9" x2="505.48" y2="3.9" stroke="#000" stroke-width="1.0" stroke-linecap="butt"/>
<line x1="514.29" y1="151.4" x2="514.29" y2="148.4" stroke="#000" stroke-width="1.0" stroke-linecap="butt"/>
<line x1="514.29" y1="0.9" x2="514.29" y2="3.9" stroke="#000" stroke-width="1.0" stroke-linecap="butt"/>
<line x1="523.09" y1="151.4" x2="523.09" y2="148.4" stroke="#000" stroke-width="1.0" stroke-linecap="butt"/>
<line x1="523.09" y1="0.9" x2="523.09" y2="3.9" stroke="#000" stroke-width="1.0" stroke-linecap="butt"/>
<line x1="531.9" y1="151.4" x2="531.9" y2="148.4" stroke="#000" stroke-width="1.0" stroke-linecap="butt"/>
<line x1="531.9" y1="0.9" x2="531.9" y2="3.9" stroke="#000" stroke-width="1.0" stroke-linecap="butt"/>
<line x1="540.7" y1="151.4" x2="540.7" y2="148.4" stroke="#000" stroke-width="1.0" stroke-linecap="butt"/>
<line x1="540.7" y1="0.9" x2="540.7" y2="3.9" stroke="#000" stroke-width="1.0" stroke-linecap="butt"/>
<line x1="549.5" y1="151.4" x2="549.5" y2="148.4" stroke="#000" stroke-width="1.0" stroke-linecap="butt"/>
<line x1="549.5" y1="0.9" x2="549.5" y2="3.9" stroke="#000" stroke-width="1.0" stroke-linecap="butt"/>
<line x1="558.31" y1="151.4" x2="558.31" y2="148.4" stroke="#000" stroke-width="1.0" stroke-linecap="butt"/>
<line x1="558.31" y1="0.9" x2="558.31" y2="3.9" stroke="#000" stroke-width="1.0" stroke-linecap="butt"/>
<line x1="567.12" y1="151.4" x2="567.12" y2="148.4" stroke="#000" stroke-width="1.0" stroke-linecap="butt"/>
<line x1="567.12" y1="0.9" x2="567.12" y2="3.9" stroke="#000" stroke-width="1.0" stroke-linecap="butt"/>
<line x1="575.92" y1="151.4" x2="575.92" y2="148.4" stroke="#000" stroke-width="1.0" stroke-linecap="butt"/>
<line x1="575.92" y1="0.9" x2="575.92" y2="3.9" stroke="#000" stroke-width="1.0" stroke-linecap="butt"/>
<line x1="584.73" y1="151.4" x2="584.73" y2="148.4" stroke="#000" stroke-width="1.0" stroke-linecap="butt"/>
<line x1="584.73" y1="0.9" x2="584.73" y2="3.9" stroke="#000" stroke-width="1.0" stroke-linecap="butt"/>
<line x1="593.53" y1="151.4" x2="593.53" y2="148.4" stroke="#000" stroke-width="1.0" stroke-linecap="butt"/>
<line x1="593.53" y1="0.9" x2="593.53" y2="3.9" stroke="#000" stroke-width="1.0" stroke-linecap="butt"/>
<line x1="602.34" y1="151.4" x2="602.34" y2="148.4" stroke="#000" stroke-width="1.0" stroke-linecap="butt"/>
<line x1="602.34" y1="0.9" x2="602.34" y2="3.9" stroke="#000" stroke-width="1.0" stroke-linecap="butt"/>
<line x1="611.14" y1="151.4" x2="611.14" y2="148.4" stroke="#000" stroke-width="1.0" stroke-linecap="butt"/>
<line x1="611.14" y1="0.9" x2="611.14" y2="3.9" stroke="#000" stroke-width="1.0" stroke-linecap="butt"/>
<line x1="619.95" y1="151.4" x2="619.95" y2="148.4" stroke="#000" stroke-width="1.0" stroke-linecap="butt"/>
<line x1="619.95" y1="0.9" x2="619.95" y2="3.9" stroke="#000" stroke-width="1.0" stroke-linecap="butt"/>
<line x1="628.75" y1="151.4" x2="628.75" y2="148.4" stroke="#000" stroke-width="1.0" stroke-linecap="butt"/>
<line x1="628.75" y1="0.9" x2="628.75" y2="3.9" stroke="#000" stroke-width="1.0" stroke-linecap="butt"/>
<line x1="637.56" y1="151.4" x2="637.56" y2="148.4" stroke="#000" stroke-width="1.0" stroke-linecap="butt"/>
<line x1="637.56" y1="0.9" x2="637.56" y2="3.9" stroke="#000" stroke-width="1.0" stroke-linecap="butt"/>
<line x1="646.36" y1="151.4" x2="646.36" y2="148.4" stroke="#000" stroke-width="1.0" stroke-linecap="butt"/>
<line x1="646.36" y1="0.9" x2="646.36" y2="3.9" stroke="#000" stroke-width="1.0" stroke-linecap="butt"/>
<line x1="655.17" y1="151.4" x2="655.17" y2="148.4" stroke="#000" stroke-width="1.0" stroke-linecap="butt"/>
<line x1="655.17" y1="0.9" x2="655.17" y2="3.9" stroke="#000" stroke-width="1.0" stroke-linecap="butt"/>
<line x1="663.97" y1="151.4" x2="663.97" y2="148.4" stroke="#000" stroke-width="1.0" stroke-linecap="butt"/>
<line x1="663.97" y1="0.9" x2="663.97" y2="3.9" stroke="#000" stroke-width="1.0" stroke-linecap="butt"/>
<line x1="672.78" y1="151.4" x2="672.78" y2="148.4" stroke="#000" stroke-width="1.0" stroke-linecap="butt"/>
<line x1="672.78" y1="0.9" x2="672.78" y2="3.9" stroke="#000" stroke-width="1.0" stroke-linecap="butt"/>
<line x1="681.58" y1="151.4" x2="681.58" y2="148.4" stroke="#000" stroke-width="1.0" stroke-linecap="butt"/>
<line x1="681.58" y1="0.9" x2="681.58" y2="3.9" stroke="#000" stroke-width="1.0" stroke-linecap="butt"/>
<line x1="399.8" y1="143.1" x2="404.7" y2="143.1" stroke="#000" stroke-width="1.0" stroke-linecap="butt"/>
<line x1="682" y1="143.1" x2="677.1" y2="143.1" stroke="#000" stroke-width="1.0" stroke-linecap="butt"/>
<line x1="399.8" y1="109.55" x2="404.7" y2="109.55" stroke="#000" stroke-width="1.0" stroke-linecap="butt"/>
<line x1="682" y1="109.55" x2="677.1" y2="109.55" stroke="#000" stroke-width="1.0" stroke-linecap="butt"/>
<line x1="399.8" y1="76" x2="404.7" y2="76" stroke="#000" stroke-width="1.0" stroke-linecap="butt"/>
<line x1="682" y1="76" x2="677.1" y2="76" stroke="#000" stroke-width="1.0" stroke-linecap="butt"/>
<line x1="399.8" y1="42.45" x2="404.7" y2="42.45" stroke="#000" stroke-width="1.0" stroke-linecap="butt"/>
<line x1="682" y1="42.45" x2="677.1" y2="42.45" stroke="#000" stroke-width="1.0" stroke-linecap="butt"/>
<line x1="399.8" y1="8.9" x2="404.7" y2="8.9" stroke="#000" stroke-width="1.0" stroke-linecap="butt"/>
<line x1="682" y1="8.9" x2="677.1" y2="8.9" stroke="#000" stroke-width="1.0" stroke-linecap="butt"/>
<line x1="399.8" y1="143.1" x2="402.8" y2="143.1" stroke="#000" stroke-width="1.0" stroke-linecap="butt"/>
<line x1="682" y1="143.1" x2="679" y2="143.1" stroke="#000" stroke-width="1.0" stroke-linecap="butt"/>
<line x1="399.8" y1="134.71" x2="402.8" y2="134.71" stroke="#000" stroke-width="1.0" stroke-linecap="butt"/>
<line x1="682" y1="134.71" x2="679" y2="134.71" stroke="#000" stroke-width="1.0" stroke-linecap="butt"/>
<line x1="399.8" y1="126.32" x2="402.8" y2="126.32" stroke="#000" stroke-width="1.0" stroke-linecap="butt"/>
<line x1="682" y1="126.32" x2="679" y2="126.32" stroke="#000" stroke-width="1.0" stroke-linecap="butt"/>
<line x1="399.8" y1="117.94" x2="402.8" y2="117.94" stroke="#000" stroke-width="1.0" stroke-linecap="butt"/>
<line x1="682" y1="117.94" x2="679" y2="117.94" stroke="#000" stroke-width="1.0" stroke-linecap="butt"/>
<line x1="399.8" y1="109.55" x2="402.8" y2="109.55" stroke="#000" stroke-width="1.0" stroke-linecap="butt"/>
<line x1="682" y1="109.55" x2="679" y2="109.55" stroke="#000" stroke-width="1.0" stroke-linecap="butt"/>
<line x1="399.8" y1="101.16" x2="402.8" y2="101.16" stroke="#000" stroke-width="1.0" stroke-linecap="butt"/>
<line x1="682" y1="101.16" x2="679" y2="101.16" stroke="#000" stroke-width="1.0" stroke-linecap="butt"/>
<line x1="399.8" y1="92.78" x2="402.8" y2="92.78" stroke="#000" stroke-width="1.0" stroke-linecap="butt"/>
<line x1="682" y1="92.78" x2="679" y2="92.78" stroke="#000" stroke-width="1.0" stroke-linecap="butt"/>
<line x1="399.8" y1="84.39" x2="402.8" y2="84.39" stroke="#000" stroke-width="1.0" stroke-linecap="butt"/>
<line x1="682" y1="84.39" x2="679" y2="84.39" stroke="#000" stroke-width="1.0" stroke-linecap="butt"/>
<line x1="399.8" y1="76" x2="402.8" y2="76" stroke="#000" stroke-width="1.0" stroke-linecap="butt"/>
<line x1="682" y1="76" x2="679" y2="76" stroke="#000" stroke-width="1.0" stroke-linecap="butt"/>
<line x1="399.8" y1="67.61" x2="402.8" y2="67.61" stroke="#000" stroke-width="1.0" stroke-linecap="butt"/>
<line x1="682" y1="67.61" x2="679" y2="67.61" stroke="#000" stroke-width="1.0" stroke-linecap="butt"/>
<line x1="399.8" y1="59.22" x2="402.8" y2="59.22" stroke="#000" stroke-width="1.0" stroke-linecap="butt"/>
<line x1="682" y1="59.22" x2="679" y2="59.22" stroke="#000" stroke-width="1.0" stroke-linecap="butt"/>
<line x1="399.8" y1="50.84" x2="402.8" y2="50.84" stroke="#000" stroke-width="1.0" stroke-linecap="butt"/>
<line x1="682" y1="50.84" x2="679" y2="50.84" stroke="#000" stroke-width="1.0" stroke-linecap="butt"/>
<line x1="399.8" y1="42.45" x2="402.8" y2="42.45" stroke="#000" stroke-width="1.0" stroke-linecap="butt"/>
<line x1="682" y1="42.45" x2="679" y2="42.45" stroke="#000" stroke-width="1.0" stroke-linecap="butt"/>
<line x1="399.8" y1="34.06" x2="402.8" y2="34.06" stroke="#000" stroke-width="1.0" stroke-linecap="butt"/>
<line x1="682" y1="34.06" x2="679" y2="34.06" stroke="#000" stroke-width="1.0" stroke-linecap="butt"/>
<line x1="399.8" y1="25.68" x2="402.8" y2="25.68" stroke="#000" stroke-width="1.0" stroke-linecap="butt"/>
<line x1="682" y1="25.68" x2="679" y2="25.68" stroke="#000" stroke-width="1.0" stroke-linecap="butt"/>
<line x1="399.8" y1="17.29" x2="402.8" y2="17.29" stroke="#000" stroke-width="1.0" stroke-linecap="butt"/>
<line x1="682" y1="17.29" x2="679" y2="17.29" stroke="#000" stroke-width="1.0" stroke-linecap="butt"/>
<line x1="399.8" y1="8.9" x2="402.8" y2="8.9" stroke="#000" stroke-width="1.0" stroke-linecap="butt"/>
<line x1="682" y1="8.9" x2="679" y2="8.9" stroke="#000" stroke-width="1.0" stroke-linecap="butt"/>
<text x="388.40" y="12.70" font-size="12.43" fill="#000" stroke="#000" stroke-width="0.22" textLength="6.80" lengthAdjust="spacingAndGlyphs" ><tspan font-style="italic">π</tspan></text>
<text x="383.94" y="43.35" font-size="8.58" fill="#000" stroke="#000" stroke-width="0.22" textLength="9.66" lengthAdjust="spacingAndGlyphs" ><tspan>3</tspan><tspan font-style="italic">π</tspan></text>
<line x1="383.94" y1="45.15" x2="393.6" y2="45.15" stroke="#000" stroke-width="0.6" stroke-linecap="butt"/>
<text x="386.29" y="51.95" font-size="8.27" fill="#000" stroke="#000" stroke-width="0.22" textLength="4.96" lengthAdjust="spacingAndGlyphs" ><tspan>4</tspan></text>
<text x="388.50" y="75.90" font-size="8.58" fill="#000" stroke="#000" stroke-width="0.22" textLength="4.70" lengthAdjust="spacingAndGlyphs" ><tspan font-style="italic">π</tspan></text>
<line x1="388.5" y1="77.7" x2="393.2" y2="77.7" stroke="#000" stroke-width="0.6" stroke-linecap="butt"/>
<text x="388.37" y="84.50" font-size="8.27" fill="#000" stroke="#000" stroke-width="0.22" textLength="4.96" lengthAdjust="spacingAndGlyphs" ><tspan>2</tspan></text>
<text x="388.50" y="109.45" font-size="8.58" fill="#000" stroke="#000" stroke-width="0.22" textLength="4.70" lengthAdjust="spacingAndGlyphs" ><tspan font-style="italic">π</tspan></text>
<line x1="388.5" y1="111.25" x2="393.2" y2="111.25" stroke="#000" stroke-width="0.6" stroke-linecap="butt"/>
<text x="388.37" y="118.05" font-size="8.27" fill="#000" stroke="#000" stroke-width="0.22" textLength="4.96" lengthAdjust="spacingAndGlyphs" ><tspan>4</tspan></text>
<text x="386.72" y="146.90" font-size="11.13" fill="#000" stroke="#000" stroke-width="0.22" textLength="6.68" lengthAdjust="spacingAndGlyphs" ><tspan>0</tspan></text>
<g transform="translate(375.4,76) rotate(-90)">
<text x="-3.21" y="0.00" font-size="11.60" fill="#000" stroke="#000" stroke-width="0.22" textLength="6.42" lengthAdjust="spacingAndGlyphs" ><tspan font-style="italic">θ</tspan></text>
</g>
<rect x="400.9" y="1.9" width="49.6" height="49.4" fill="#fff" stroke="#000" stroke-width="1.0"/>
<circle cx="420.5" cy="30.8" r="19.3" fill="none" stroke="#90ee90" stroke-width="1.5"/>
<line x1="409.2" y1="19.7" x2="431.7" y2="19.8" stroke="#800080" stroke-width="1.2" stroke-linecap="butt"/>
<line x1="431.7" y1="19.8" x2="431.7" y2="42.2" stroke="#800080" stroke-width="1.2" stroke-linecap="butt"/>
<line x1="431.7" y1="42.2" x2="409.2" y2="42.2" stroke="#800080" stroke-width="1.2" stroke-linecap="butt"/>
<line x1="409.2" y1="42.2" x2="409.2" y2="19.7" stroke="#800080" stroke-width="1.2" stroke-linecap="butt"/>
<line x1="410.4" y1="21.2" x2="430.5" y2="42.5" stroke="#ffa500" stroke-width="1.2" stroke-linecap="butt"/>
<line x1="430.5" y1="21.3" x2="410.4" y2="42.5" stroke="#ffa500" stroke-width="1.2" stroke-linecap="butt"/>
<line x1="409.5" y1="22.2" x2="429.5" y2="41.4" stroke="#4682b4" stroke-width="1.1" stroke-linecap="butt"/>
<line x1="431.4" y1="22.3" x2="411.4" y2="41.4" stroke="#4682b4" stroke-width="1.1" stroke-linecap="butt"/>
<line x1="420.5" y1="8.6" x2="409.2" y2="19.7" stroke="#0000ff" stroke-width="1.3" stroke-linecap="butt"/>
<line x1="420.5" y1="8.6" x2="431.7" y2="19.8" stroke="#ff0000" stroke-width="1.3" stroke-linecap="butt"/>
<line x1="431.7" y1="19.8" x2="443" y2="31" stroke="#0000ff" stroke-width="1.3" stroke-linecap="butt"/>
<line x1="443" y1="31" x2="431.7" y2="42.2" stroke="#ff0000" stroke-width="1.3" stroke-linecap="butt"/>
<line x1="431.7" y1="42.2" x2="425.5" y2="49.5" stroke="#0000ff" stroke-width="1.3" stroke-linecap="butt"/>
<line x1="409.2" y1="42.2" x2="415.5" y2="49.5" stroke="#ff0000" stroke-width="1.3" stroke-linecap="butt"/>
<line x1="409.2" y1="19.7" x2="402.5" y2="27" stroke="#ff0000" stroke-width="1.3" stroke-linecap="butt"/>
<line x1="409.2" y1="42.2" x2="402.5" y2="35" stroke="#0000ff" stroke-width="1.3" stroke-linecap="butt"/>
<polygon points="420.5,3.8 424.66,6.2 424.66,11 420.5,13.4 416.34,11 416.34,6.2" fill="#f03c10"/>
<circle cx="409.2" cy="19.7" r="4.9" fill="#0a7dfa"/>
<rect x="427.2" y="15.3" width="9" height="9" fill="#0a2fa6"/>
<polygon points="420.5,26.7 425.07,30.02 423.32,35.38 417.68,35.38 415.93,30.02" fill="#bcd400"/>
<polygon points="440.6,26.2 443,28 445.4,26.2 447.8,28.6 446,31 447.8,33.4 445.4,35.8 443,34 440.6,35.8 438.2,33.4 440,31 438.2,28.6" fill="#ff8a00"/>
<polygon points="409.2,37.3 413.85,45.88 404.55,45.88" fill="#c6def9"/>
<polygon points="429.73,37.5 433.67,37.5 433.67,40.23 436.4,40.23 436.4,44.17 433.67,44.17 433.67,46.9 429.73,46.9 429.73,44.17 427,44.17 427,40.23 429.73,40.23" fill="#7f989c"/>
<rect x="399.8" y="0.9" width="282.2" height="150.5" fill="none" stroke="#000" stroke-width="1.8"/>
<text x="363.40" y="11.00" font-size="13.20" font-weight="bold" fill="#000" stroke="#000" stroke-width="0.22" textLength="8.59" lengthAdjust="spacingAndGlyphs" ><tspan>b</tspan></text>
<circle cx="459" cy="13.2" r="3.7" fill="#0a7dfa"/>
<text x="466.60" y="16.10" font-size="9.68" fill="#000" stroke="#000" stroke-width="0.08" textLength="51.28" lengthAdjust="spacingAndGlyphs" ><tspan>site 1 Cu(1)</tspan></text>
<rect x="455.6" y="23.7" width="6.8" height="6.8" fill="#0a2fa6"/>
<text x="466.60" y="30.00" font-size="9.68" fill="#000" stroke="#000" stroke-width="0.08" textLength="51.28" lengthAdjust="spacingAndGlyphs" ><tspan>site 2 Cu(1)</tspan></text>
<polygon points="459,37.2 462.61,43.85 455.39,43.85" fill="#c6def9"/>
<text x="466.60" y="43.90" font-size="9.68" fill="#000" stroke="#000" stroke-width="0.08" textLength="51.28" lengthAdjust="spacingAndGlyphs" ><tspan>site 3 Cu(1)</tspan></text>
<polygon points="534.85,9.5 537.95,9.5 537.95,11.65 540.1,11.65 540.1,14.75 537.95,14.75 537.95,16.9 534.85,16.9 534.85,14.75 532.7,14.75 532.7,11.65 534.85,11.65" fill="#7f989c"/>
<text x="543.60" y="16.10" font-size="9.68" fill="#000" stroke="#000" stroke-width="0.08" textLength="51.28" lengthAdjust="spacingAndGlyphs" ><tspan>site 4 Cu(1)</tspan></text>
<polygon points="536.4,23.8 540.01,26.43 538.63,30.67 534.17,30.67 532.79,26.43" fill="#bcd400"/>
<text x="543.60" y="30.00" font-size="9.68" fill="#000" stroke="#000" stroke-width="0.08" textLength="51.28" lengthAdjust="spacingAndGlyphs" ><tspan>site 5 Cu(2)</tspan></text>
<polygon points="614,9.5 617.2,11.35 617.2,15.05 614,16.9 610.8,15.05 610.8,11.35" fill="#f03c10"/>
<text x="621.40" y="16.10" font-size="9.68" fill="#000" stroke="#000" stroke-width="0.08" textLength="51.28" lengthAdjust="spacingAndGlyphs" ><tspan>site 6 Cu(3)</tspan></text>
<polygon points="611.95,23 614,24.54 616.05,23 618.1,25.05 616.56,27.1 618.1,29.15 616.05,31.2 614,29.66 611.95,31.2 609.9,29.15 611.44,27.1 609.9,25.05" fill="#ff8a00"/>
<text x="621.40" y="30.00" font-size="9.68" fill="#000" stroke="#000" stroke-width="0.08" textLength="51.28" lengthAdjust="spacingAndGlyphs" ><tspan>site 7 Cu(3)</tspan></text>
<clipPath id="clipd"><rect x="399.8" y="159.6" width="282.2" height="150.1"/></clipPath>
<line x1="399.8" y1="234.3" x2="682" y2="234.3" stroke="#000" stroke-width="1.4" stroke-linecap="butt" stroke-dasharray="5.1,2.2"/>
<g clip-path="url(#clipd)">
<circle cx="480.42" cy="219.79" r="3.25" fill="#0a7dfa"/>
<circle cx="505.64" cy="251.28" r="3.25" fill="#0a7dfa"/>
<circle cx="509.73" cy="197.8" r="3.25" fill="#0a7dfa"/>
<circle cx="451.77" cy="188.8" r="3.25" fill="#0a7dfa"/>
<circle cx="477.47" cy="212.36" r="3.25" fill="#0a7dfa"/>
<circle cx="499.03" cy="227.19" r="3.25" fill="#0a7dfa"/>
<circle cx="505.95" cy="253.38" r="3.25" fill="#0a7dfa"/>
<circle cx="454.15" cy="259.06" r="3.25" fill="#0a7dfa"/>
<circle cx="483.93" cy="251.21" r="3.25" fill="#0a7dfa"/>
<circle cx="457.33" cy="231.1" r="3.25" fill="#0a7dfa"/>
<circle cx="454.61" cy="242.27" r="3.25" fill="#0a7dfa"/>
<circle cx="495.92" cy="191.92" r="3.25" fill="#0a7dfa"/>
<circle cx="460.73" cy="212.07" r="3.25" fill="#0a7dfa"/>
<circle cx="498.31" cy="207.91" r="3.25" fill="#0a7dfa"/>
<circle cx="496.03" cy="244.56" r="3.25" fill="#0a7dfa"/>
<circle cx="497.19" cy="240.03" r="3.25" fill="#0a7dfa"/>
<circle cx="618.5" cy="198.69" r="3.25" fill="#0a7dfa"/>
<circle cx="637.89" cy="234.37" r="3.25" fill="#0a7dfa"/>
<circle cx="598.12" cy="268.18" r="3.25" fill="#0a7dfa"/>
<circle cx="598.44" cy="189.61" r="3.25" fill="#0a7dfa"/>
<circle cx="641.25" cy="210.2" r="3.25" fill="#0a7dfa"/>
<circle cx="620.7" cy="186.82" r="3.25" fill="#0a7dfa"/>
<circle cx="606.17" cy="232.94" r="3.25" fill="#0a7dfa"/>
<circle cx="603.58" cy="188.7" r="3.25" fill="#0a7dfa"/>
<circle cx="614.74" cy="192.63" r="3.25" fill="#0a7dfa"/>
<circle cx="613.04" cy="190.28" r="3.25" fill="#0a7dfa"/>
<circle cx="610.72" cy="209.68" r="3.25" fill="#0a7dfa"/>
<circle cx="625.12" cy="256.06" r="3.25" fill="#0a7dfa"/>
<circle cx="602.52" cy="236.81" r="3.25" fill="#0a7dfa"/>
<circle cx="594.13" cy="171.07" r="3.25" fill="#0a7dfa"/>
<circle cx="618.47" cy="259.46" r="3.25" fill="#0a7dfa"/>
<circle cx="628.38" cy="210.06" r="3.25" fill="#0a7dfa"/>
<rect x="455.22" y="184.75" width="5.9" height="5.9" fill="#0a2fa6"/>
<rect x="492.07" y="227.42" width="5.9" height="5.9" fill="#0a2fa6"/>
<rect x="474.75" y="232.38" width="5.9" height="5.9" fill="#0a2fa6"/>
<rect x="467.07" y="235.97" width="5.9" height="5.9" fill="#0a2fa6"/>
<rect x="452.88" y="253.29" width="5.9" height="5.9" fill="#0a2fa6"/>
<rect x="454.76" y="201.36" width="5.9" height="5.9" fill="#0a2fa6"/>
<rect x="470.77" y="213.17" width="5.9" height="5.9" fill="#0a2fa6"/>
<rect x="461.54" y="213.29" width="5.9" height="5.9" fill="#0a2fa6"/>
<rect x="494.89" y="228.27" width="5.9" height="5.9" fill="#0a2fa6"/>
<rect x="450.89" y="230.34" width="5.9" height="5.9" fill="#0a2fa6"/>
<rect x="481.08" y="218.26" width="5.9" height="5.9" fill="#0a2fa6"/>
<rect x="452.91" y="194.49" width="5.9" height="5.9" fill="#0a2fa6"/>
<rect x="475.84" y="188.66" width="5.9" height="5.9" fill="#0a2fa6"/>
<rect x="488.1" y="198.88" width="5.9" height="5.9" fill="#0a2fa6"/>
<rect x="469.35" y="217.56" width="5.9" height="5.9" fill="#0a2fa6"/>
<rect x="447.36" y="185.96" width="5.9" height="5.9" fill="#0a2fa6"/>
<rect x="504.71" y="190.28" width="5.9" height="5.9" fill="#0a2fa6"/>
<rect x="453.9" y="196.05" width="5.9" height="5.9" fill="#0a2fa6"/>
<rect x="473.91" y="232.19" width="5.9" height="5.9" fill="#0a2fa6"/>
<rect x="497.58" y="252.27" width="5.9" height="5.9" fill="#0a2fa6"/>
<rect x="501.35" y="236.24" width="5.9" height="5.9" fill="#0a2fa6"/>
<rect x="496.15" y="182" width="5.9" height="5.9" fill="#0a2fa6"/>
<rect x="490.89" y="228.59" width="5.9" height="5.9" fill="#0a2fa6"/>
<rect x="487.84" y="247.1" width="5.9" height="5.9" fill="#0a2fa6"/>
<rect x="499.19" y="229.47" width="5.9" height="5.9" fill="#0a2fa6"/>
<rect x="456.72" y="253.06" width="5.9" height="5.9" fill="#0a2fa6"/>
<rect x="503" y="251.15" width="5.9" height="5.9" fill="#0a2fa6"/>
<rect x="492.75" y="222.47" width="5.9" height="5.9" fill="#0a2fa6"/>
<rect x="614.28" y="204.04" width="5.9" height="5.9" fill="#0a2fa6"/>
<rect x="601.45" y="174.86" width="5.9" height="5.9" fill="#0a2fa6"/>
<rect x="626.64" y="194.29" width="5.9" height="5.9" fill="#0a2fa6"/>
<rect x="636.69" y="188.79" width="5.9" height="5.9" fill="#0a2fa6"/>
<rect x="619.06" y="187.96" width="5.9" height="5.9" fill="#0a2fa6"/>
<rect x="610.16" y="165.61" width="5.9" height="5.9" fill="#0a2fa6"/>
<rect x="628.78" y="197.44" width="5.9" height="5.9" fill="#0a2fa6"/>
<rect x="600.12" y="193.61" width="5.9" height="5.9" fill="#0a2fa6"/>
<rect x="635.17" y="234.79" width="5.9" height="5.9" fill="#0a2fa6"/>
<rect x="624.19" y="269.34" width="5.9" height="5.9" fill="#0a2fa6"/>
<rect x="638.34" y="200.96" width="5.9" height="5.9" fill="#0a2fa6"/>
<rect x="619.94" y="169.32" width="5.9" height="5.9" fill="#0a2fa6"/>
<rect x="630.76" y="217.73" width="5.9" height="5.9" fill="#0a2fa6"/>
<rect x="614.52" y="209.61" width="5.9" height="5.9" fill="#0a2fa6"/>
<rect x="637.34" y="277.08" width="5.9" height="5.9" fill="#0a2fa6"/>
<rect x="607.52" y="180.24" width="5.9" height="5.9" fill="#0a2fa6"/>
<rect x="638.78" y="176.55" width="5.9" height="5.9" fill="#0a2fa6"/>
<rect x="596.43" y="267.96" width="5.9" height="5.9" fill="#0a2fa6"/>
<rect x="626.02" y="272.74" width="5.9" height="5.9" fill="#0a2fa6"/>
<rect x="629.51" y="235.21" width="5.9" height="5.9" fill="#0a2fa6"/>
<rect x="639.1" y="209.1" width="5.9" height="5.9" fill="#0a2fa6"/>
<rect x="617.79" y="214.02" width="5.9" height="5.9" fill="#0a2fa6"/>
<rect x="641.1" y="195.8" width="5.9" height="5.9" fill="#0a2fa6"/>
<rect x="600.98" y="268.73" width="5.9" height="5.9" fill="#0a2fa6"/>
<rect x="601.48" y="205.71" width="5.9" height="5.9" fill="#0a2fa6"/>
<rect x="600.62" y="257.98" width="5.9" height="5.9" fill="#0a2fa6"/>
<rect x="611.29" y="236.3" width="5.9" height="5.9" fill="#0a2fa6"/>
<rect x="603.16" y="250.93" width="5.9" height="5.9" fill="#0a2fa6"/>
<rect x="627.31" y="187.39" width="5.9" height="5.9" fill="#0a2fa6"/>
<rect x="601.77" y="269.12" width="5.9" height="5.9" fill="#0a2fa6"/>
<polygon points="497.45,194.5 500.77,200.63 494.12,200.63" fill="#c6def9"/>
<polygon points="460.66,214.78 463.98,220.91 457.33,220.91" fill="#c6def9"/>
<polygon points="474.39,226.54 477.72,232.66 471.07,232.66" fill="#c6def9"/>
<polygon points="498.49,214.3 501.82,220.43 495.17,220.43" fill="#c6def9"/>
<polygon points="454.61,220.02 457.93,226.14 451.28,226.14" fill="#c6def9"/>
<polygon points="463.17,233.38 466.5,239.51 459.85,239.51" fill="#c6def9"/>
<polygon points="486.25,192.02 489.58,198.14 482.93,198.14" fill="#c6def9"/>
<polygon points="506.81,195.03 510.13,201.16 503.48,201.16" fill="#c6def9"/>
<polygon points="501.86,212.74 505.19,218.87 498.54,218.87" fill="#c6def9"/>
<polygon points="459.83,256.7 463.15,262.82 456.5,262.82" fill="#c6def9"/>
<polygon points="456.73,238.67 460.06,244.79 453.41,244.79" fill="#c6def9"/>
<polygon points="462.46,188.63 465.79,194.76 459.14,194.76" fill="#c6def9"/>
<polygon points="482.23,216.05 485.55,222.17 478.9,222.17" fill="#c6def9"/>
<polygon points="459.09,244.43 462.42,250.55 455.77,250.55" fill="#c6def9"/>
<polygon points="464.56,201.24 467.89,207.36 461.24,207.36" fill="#c6def9"/>
<polygon points="452.98,188.61 456.3,194.73 449.65,194.73" fill="#c6def9"/>
<polygon points="463.76,233.57 467.09,239.7 460.44,239.7" fill="#c6def9"/>
<polygon points="495.04,197.39 498.37,203.52 491.72,203.52" fill="#c6def9"/>
<polygon points="488.24,222.95 491.57,229.08 484.92,229.08" fill="#c6def9"/>
<polygon points="503.99,242.44 507.31,248.57 500.66,248.57" fill="#c6def9"/>
<polygon points="457.47,207.03 460.79,213.16 454.14,213.16" fill="#c6def9"/>
<polygon points="598.69,213.4 602.01,219.52 595.36,219.52" fill="#c6def9"/>
<polygon points="629.54,223.58 632.86,229.7 626.21,229.7" fill="#c6def9"/>
<polygon points="636.9,228.2 640.22,234.33 633.57,234.33" fill="#c6def9"/>
<polygon points="622.09,237.33 625.42,243.46 618.77,243.46" fill="#c6def9"/>
<polygon points="622.96,275.01 626.29,281.14 619.64,281.14" fill="#c6def9"/>
<polygon points="635.42,269.47 638.74,275.59 632.09,275.59" fill="#c6def9"/>
<polygon points="640.24,203.22 643.57,209.35 636.92,209.35" fill="#c6def9"/>
<polygon points="602.21,224.35 605.54,230.47 598.89,230.47" fill="#c6def9"/>
<polygon points="604.73,186.63 608.05,192.75 601.4,192.75" fill="#c6def9"/>
<polygon points="638.46,225.85 641.79,231.98 635.14,231.98" fill="#c6def9"/>
<polygon points="622.42,237.29 625.75,243.41 619.1,243.41" fill="#c6def9"/>
<polygon points="605.4,179.77 608.73,185.89 602.08,185.89" fill="#c6def9"/>
<polygon points="603.05,254.55 606.37,260.68 599.72,260.68" fill="#c6def9"/>
<polygon points="595.47,175.36 598.79,181.48 592.14,181.48" fill="#c6def9"/>
<polygon points="617.42,185.16 620.75,191.29 614.1,191.29" fill="#c6def9"/>
<polygon points="640.62,264.32 643.94,270.45 637.29,270.45" fill="#c6def9"/>
<polygon points="636.1,253.19 639.43,259.32 632.78,259.32" fill="#c6def9"/>
<polygon points="615.7,225.27 619.03,231.4 612.38,231.4" fill="#c6def9"/>
<polygon points="605.12,218.28 608.44,224.41 601.79,224.41" fill="#c6def9"/>
<polygon points="621.31,192.28 624.63,198.41 617.98,198.41" fill="#c6def9"/>
<polygon points="629.06,214.99 632.38,221.11 625.73,221.11" fill="#c6def9"/>
<polygon points="634.34,212.33 637.67,218.45 631.02,218.45" fill="#c6def9"/>
<polygon points="611.81,221.84 615.14,227.96 608.49,227.96" fill="#c6def9"/>
<polygon points="614.91,236.45 618.24,242.57 611.59,242.57" fill="#c6def9"/>
<polygon points="613.24,204.87 616.56,210.99 609.91,210.99" fill="#c6def9"/>
<polygon points="633.91,260.03 637.23,266.16 630.58,266.16" fill="#c6def9"/>
<polygon points="641.2,249.56 644.52,255.68 637.87,255.68" fill="#c6def9"/>
<polygon points="624.87,239.03 628.19,245.16 621.54,245.16" fill="#c6def9"/>
<polygon points="462.35,224.48 465.08,224.48 465.08,226.37 466.97,226.37 466.97,229.1 465.08,229.1 465.08,230.98 462.35,230.98 462.35,229.1 460.47,229.1 460.47,226.37 462.35,226.37" fill="#7f989c"/>
<polygon points="461.11,202.93 463.84,202.93 463.84,204.82 465.72,204.82 465.72,207.55 463.84,207.55 463.84,209.43 461.11,209.43 461.11,207.55 459.22,207.55 459.22,204.82 461.11,204.82" fill="#7f989c"/>
<polygon points="491.44,250.87 494.17,250.87 494.17,252.75 496.05,252.75 496.05,255.48 494.17,255.48 494.17,257.37 491.44,257.37 491.44,255.48 489.55,255.48 489.55,252.75 491.44,252.75" fill="#7f989c"/>
<polygon points="472.61,237.28 475.34,237.28 475.34,239.16 477.23,239.16 477.23,241.89 475.34,241.89 475.34,243.78 472.61,243.78 472.61,241.89 470.73,241.89 470.73,239.16 472.61,239.16" fill="#7f989c"/>
<polygon points="446.06,186.68 448.79,186.68 448.79,188.57 450.68,188.57 450.68,191.3 448.79,191.3 448.79,193.18 446.06,193.18 446.06,191.3 444.18,191.3 444.18,188.57 446.06,188.57" fill="#7f989c"/>
<polygon points="479.71,209.97 482.44,209.97 482.44,211.86 484.33,211.86 484.33,214.59 482.44,214.59 482.44,216.47 479.71,216.47 479.71,214.59 477.83,214.59 477.83,211.86 479.71,211.86" fill="#7f989c"/>
<polygon points="484.44,201.72 487.17,201.72 487.17,203.61 489.06,203.61 489.06,206.34 487.17,206.34 487.17,208.22 484.44,208.22 484.44,206.34 482.56,206.34 482.56,203.61 484.44,203.61" fill="#7f989c"/>
<polygon points="504.32,186.64 507.05,186.64 507.05,188.52 508.94,188.52 508.94,191.25 507.05,191.25 507.05,193.14 504.32,193.14 504.32,191.25 502.44,191.25 502.44,188.52 504.32,188.52" fill="#7f989c"/>
<polygon points="643.63,218.39 646.36,218.39 646.36,220.28 648.24,220.28 648.24,223.01 646.36,223.01 646.36,224.89 643.63,224.89 643.63,223.01 641.74,223.01 641.74,220.28 643.63,220.28" fill="#7f989c"/>
<polygon points="619.28,272.57 622.01,272.57 622.01,274.45 623.89,274.45 623.89,277.18 622.01,277.18 622.01,279.07 619.28,279.07 619.28,277.18 617.39,277.18 617.39,274.45 619.28,274.45" fill="#7f989c"/>
<polygon points="600.67,235.4 603.4,235.4 603.4,237.29 605.28,237.29 605.28,240.02 603.4,240.02 603.4,241.9 600.67,241.9 600.67,240.02 598.78,240.02 598.78,237.29 600.67,237.29" fill="#7f989c"/>
<polygon points="612.36,174.8 615.09,174.8 615.09,176.68 616.97,176.68 616.97,179.41 615.09,179.41 615.09,181.3 612.36,181.3 612.36,179.41 610.47,179.41 610.47,176.68 612.36,176.68" fill="#7f989c"/>
<polygon points="628.85,187.66 631.58,187.66 631.58,189.54 633.46,189.54 633.46,192.27 631.58,192.27 631.58,194.16 628.85,194.16 628.85,192.27 626.96,192.27 626.96,189.54 628.85,189.54" fill="#7f989c"/>
<polygon points="643.17,260.53 645.9,260.53 645.9,262.42 647.78,262.42 647.78,265.15 645.9,265.15 645.9,267.03 643.17,267.03 643.17,265.15 641.28,265.15 641.28,262.42 643.17,262.42" fill="#7f989c"/>
<polygon points="599.71,201.65 602.44,201.65 602.44,203.54 604.32,203.54 604.32,206.27 602.44,206.27 602.44,208.15 599.71,208.15 599.71,206.27 597.82,206.27 597.82,203.54 599.71,203.54" fill="#7f989c"/>
<polygon points="609.77,172.79 612.5,172.79 612.5,174.68 614.39,174.68 614.39,177.41 612.5,177.41 612.5,179.29 609.77,179.29 609.77,177.41 607.89,177.41 607.89,174.68 609.77,174.68" fill="#7f989c"/>
<polygon points="606.07,194.23 608.8,194.23 608.8,196.11 610.69,196.11 610.69,198.84 608.8,198.84 608.8,200.73 606.07,200.73 606.07,198.84 604.19,198.84 604.19,196.11 606.07,196.11" fill="#7f989c"/>
<polygon points="632.9,182.6 635.63,182.6 635.63,184.49 637.51,184.49 637.51,187.22 635.63,187.22 635.63,189.1 632.9,189.1 632.9,187.22 631.01,187.22 631.01,184.49 632.9,184.49" fill="#7f989c"/>
<polygon points="608.28,170.77 611.01,170.77 611.01,172.65 612.9,172.65 612.9,175.38 611.01,175.38 611.01,177.27 608.28,177.27 608.28,175.38 606.4,175.38 606.4,172.65 608.28,172.65" fill="#7f989c"/>
<polygon points="646.01,170.47 648.74,170.47 648.74,172.35 650.62,172.35 650.62,175.08 648.74,175.08 648.74,176.97 646.01,176.97 646.01,175.08 644.12,175.08 644.12,172.35 646.01,172.35" fill="#7f989c"/>
<polygon points="641.35,173.13 644.08,173.13 644.08,175.01 645.96,175.01 645.96,177.74 644.08,177.74 644.08,179.63 641.35,179.63 641.35,177.74 639.46,177.74 639.46,175.01 641.35,175.01" fill="#7f989c"/>
<polygon points="626.34,233.27 629.07,233.27 629.07,235.15 630.95,235.15 630.95,237.88 629.07,237.88 629.07,239.77 626.34,239.77 626.34,237.88 624.45,237.88 624.45,235.15 626.34,235.15" fill="#7f989c"/>
<polygon points="630.44,234.27 633.17,234.27 633.17,236.15 635.05,236.15 635.05,238.88 633.17,238.88 633.17,240.77 630.44,240.77 630.44,238.88 628.55,238.88 628.55,236.15 630.44,236.15" fill="#7f989c"/>
<polygon points="605.81,171.68 608.54,171.68 608.54,173.56 610.42,173.56 610.42,176.29 608.54,176.29 608.54,178.18 605.81,178.18 605.81,176.29 603.92,176.29 603.92,173.56 605.81,173.56" fill="#7f989c"/>
<polygon points="483.23,215.39 486.13,217.06 486.13,220.41 483.23,222.09 480.33,220.41 480.33,217.06" fill="#f03c10"/>
<polygon points="462.53,196.5 465.43,198.17 465.43,201.52 462.53,203.2 459.63,201.52 459.63,198.17" fill="#f03c10"/>
<polygon points="496.4,229.75 499.3,231.42 499.3,234.77 496.4,236.45 493.5,234.77 493.5,231.42" fill="#f03c10"/>
<polygon points="491.57,199.88 494.47,201.55 494.47,204.9 491.57,206.58 488.67,204.9 488.67,201.55" fill="#f03c10"/>
<polygon points="620.32,177.81 623.22,179.48 623.22,182.83 620.32,184.51 617.42,182.83 617.42,179.48" fill="#f03c10"/>
<polygon points="598.51,196.51 601.41,198.19 601.41,201.54 598.51,203.21 595.61,201.54 595.61,198.19" fill="#f03c10"/>
<polygon points="633.83,243.86 636.73,245.53 636.73,248.88 633.83,250.56 630.93,248.88 630.93,245.53" fill="#f03c10"/>
<polygon points="630.66,237.87 633.56,239.54 633.56,242.89 630.66,244.57 627.76,242.89 627.76,239.54" fill="#f03c10"/>
<polygon points="621.23,215.23 624.13,216.9 624.13,220.25 621.23,221.93 618.33,220.25 618.33,216.9" fill="#f03c10"/>
<polygon points="609.04,246.63 611.95,248.31 611.95,251.66 609.04,253.33 606.14,251.66 606.14,248.31" fill="#f03c10"/>
<polygon points="494.27,229.66 495.82,230.82 497.37,229.66 498.92,231.21 497.76,232.76 498.92,234.31 497.37,235.86 495.82,234.7 494.27,235.86 492.72,234.31 493.88,232.76 492.72,231.21" fill="#ff8a00"/>
<polygon points="488.9,243.86 490.45,245.02 492,243.86 493.55,245.41 492.38,246.96 493.55,248.51 492,250.06 490.45,248.9 488.9,250.06 487.35,248.51 488.51,246.96 487.35,245.41" fill="#ff8a00"/>
<polygon points="484.69,231.56 486.24,232.72 487.79,231.56 489.34,233.11 488.18,234.66 489.34,236.21 487.79,237.76 486.24,236.6 484.69,237.76 483.14,236.21 484.3,234.66 483.14,233.11" fill="#ff8a00"/>
<polygon points="496.36,229.13 497.91,230.29 499.46,229.13 501.01,230.68 499.85,232.23 501.01,233.78 499.46,235.33 497.91,234.16 496.36,235.33 494.81,233.78 495.97,232.23 494.81,230.68" fill="#ff8a00"/>
<polygon points="467.33,198.36 468.88,199.52 470.43,198.36 471.98,199.91 470.82,201.46 471.98,203.01 470.43,204.56 468.88,203.4 467.33,204.56 465.78,203.01 466.95,201.46 465.78,199.91" fill="#ff8a00"/>
<polygon points="481.22,212.04 482.77,213.2 484.32,212.04 485.87,213.59 484.71,215.14 485.87,216.69 484.32,218.24 482.77,217.07 481.22,218.24 479.67,216.69 480.83,215.14 479.67,213.59" fill="#ff8a00"/>
<polygon points="472.32,246.78 473.87,247.94 475.42,246.78 476.97,248.33 475.81,249.88 476.97,251.43 475.42,252.98 473.87,251.82 472.32,252.98 470.77,251.43 471.93,249.88 470.77,248.33" fill="#ff8a00"/>
<polygon points="451.48,246.84 453.03,248 454.58,246.84 456.13,248.39 454.97,249.94 456.13,251.49 454.58,253.04 453.03,251.87 451.48,253.04 449.93,251.49 451.09,249.94 449.93,248.39" fill="#ff8a00"/>
<polygon points="472.91,257.35 474.46,258.51 476.01,257.35 477.56,258.9 476.4,260.45 477.56,262 476.01,263.55 474.46,262.39 472.91,263.55 471.36,262 472.52,260.45 471.36,258.9" fill="#ff8a00"/>
<polygon points="470.69,181.1 472.24,182.26 473.79,181.1 475.34,182.65 474.18,184.2 475.34,185.75 473.79,187.3 472.24,186.13 470.69,187.3 469.14,185.75 470.31,184.2 469.14,182.65" fill="#ff8a00"/>
<polygon points="489.7,190.53 491.25,191.7 492.8,190.53 494.35,192.08 493.19,193.63 494.35,195.18 492.8,196.73 491.25,195.57 489.7,196.73 488.15,195.18 489.31,193.63 488.15,192.08" fill="#ff8a00"/>
<polygon points="495.46,184.63 497.01,185.79 498.56,184.63 500.11,186.18 498.95,187.73 500.11,189.28 498.56,190.83 497.01,189.67 495.46,190.83 493.91,189.28 495.07,187.73 493.91,186.18" fill="#ff8a00"/>
<polygon points="491.29,194.96 492.84,196.13 494.39,194.96 495.94,196.51 494.78,198.06 495.94,199.61 494.39,201.16 492.84,200 491.29,201.16 489.74,199.61 490.9,198.06 489.74,196.51" fill="#ff8a00"/>
<polygon points="499.23,203.93 500.78,205.09 502.33,203.93 503.88,205.48 502.72,207.03 503.88,208.58 502.33,210.13 500.78,208.96 499.23,210.13 497.68,208.58 498.85,207.03 497.68,205.48" fill="#ff8a00"/>
<polygon points="456.87,230.61 458.42,231.77 459.97,230.61 461.52,232.16 460.36,233.71 461.52,235.26 459.97,236.81 458.42,235.64 456.87,236.81 455.32,235.26 456.48,233.71 455.32,232.16" fill="#ff8a00"/>
<polygon points="464.92,244.51 466.47,245.67 468.02,244.51 469.57,246.06 468.41,247.61 469.57,249.16 468.02,250.71 466.47,249.54 464.92,250.71 463.37,249.16 464.54,247.61 463.37,246.06" fill="#ff8a00"/>
<polygon points="474.21,227.58 475.76,228.74 477.31,227.58 478.86,229.13 477.7,230.68 478.86,232.23 477.31,233.78 475.76,232.62 474.21,233.78 472.66,232.23 473.82,230.68 472.66,229.13" fill="#ff8a00"/>
<polygon points="458.04,185.76 459.59,186.92 461.14,185.76 462.69,187.31 461.53,188.86 462.69,190.41 461.14,191.96 459.59,190.79 458.04,191.96 456.49,190.41 457.66,188.86 456.49,187.31" fill="#ff8a00"/>
<polygon points="454.71,215.11 456.26,216.27 457.81,215.11 459.36,216.66 458.2,218.21 459.36,219.76 457.81,221.31 456.26,220.15 454.71,221.31 453.16,219.76 454.33,218.21 453.16,216.66" fill="#ff8a00"/>
<polygon points="456.43,256.77 457.98,257.93 459.53,256.77 461.08,258.32 459.92,259.87 461.08,261.42 459.53,262.97 457.98,261.81 456.43,262.97 454.88,261.42 456.04,259.87 454.88,258.32" fill="#ff8a00"/>
<polygon points="483.3,254.7 484.85,255.86 486.4,254.7 487.95,256.25 486.79,257.8 487.95,259.35 486.4,260.9 484.85,259.74 483.3,260.9 481.75,259.35 482.92,257.8 481.75,256.25" fill="#ff8a00"/>
<polygon points="505.42,205.09 506.97,206.26 508.52,205.09 510.07,206.64 508.9,208.19 510.07,209.74 508.52,211.29 506.97,210.13 505.42,211.29 503.87,209.74 505.03,208.19 503.87,206.64" fill="#ff8a00"/>
<polygon points="471.31,215.69 472.86,216.86 474.41,215.69 475.96,217.24 474.8,218.79 475.96,220.34 474.41,221.89 472.86,220.73 471.31,221.89 469.76,220.34 470.92,218.79 469.76,217.24" fill="#ff8a00"/>
<polygon points="488.45,207.69 490,208.86 491.55,207.69 493.1,209.24 491.94,210.79 493.1,212.34 491.55,213.89 490,212.73 488.45,213.89 486.9,212.34 488.06,210.79 486.9,209.24" fill="#ff8a00"/>
<polygon points="473.98,248.72 475.53,249.88 477.08,248.72 478.63,250.27 477.46,251.82 478.63,253.37 477.08,254.92 475.53,253.75 473.98,254.92 472.43,253.37 473.59,251.82 472.43,250.27" fill="#ff8a00"/>
<polygon points="471.93,232.22 473.48,233.38 475.03,232.22 476.58,233.77 475.41,235.32 476.58,236.87 475.03,238.42 473.48,237.26 471.93,238.42 470.38,236.87 471.54,235.32 470.38,233.77" fill="#ff8a00"/>
<polygon points="465.26,252.62 466.81,253.78 468.36,252.62 469.91,254.17 468.75,255.72 469.91,257.27 468.36,258.82 466.81,257.65 465.26,258.82 463.71,257.27 464.88,255.72 463.71,254.17" fill="#ff8a00"/>
<polygon points="487.41,205.73 488.96,206.89 490.51,205.73 492.06,207.28 490.9,208.83 492.06,210.38 490.51,211.93 488.96,210.77 487.41,211.93 485.86,210.38 487.02,208.83 485.86,207.28" fill="#ff8a00"/>
<polygon points="501.17,197.25 502.72,198.41 504.27,197.25 505.82,198.8 504.66,200.35 505.82,201.9 504.27,203.45 502.72,202.28 501.17,203.45 499.62,201.9 500.79,200.35 499.62,198.8" fill="#ff8a00"/>
<polygon points="476.22,190.66 477.77,191.82 479.32,190.66 480.87,192.21 479.71,193.76 480.87,195.31 479.32,196.86 477.77,195.7 476.22,196.86 474.67,195.31 475.84,193.76 474.67,192.21" fill="#ff8a00"/>
<polygon points="455.48,215.65 457.03,216.81 458.58,215.65 460.13,217.2 458.97,218.75 460.13,220.3 458.58,221.85 457.03,220.68 455.48,221.85 453.93,220.3 455.1,218.75 453.93,217.2" fill="#ff8a00"/>
<polygon points="494.19,204.31 495.74,205.48 497.29,204.31 498.84,205.86 497.68,207.41 498.84,208.96 497.29,210.51 495.74,209.35 494.19,210.51 492.64,208.96 493.8,207.41 492.64,205.86" fill="#ff8a00"/>
<polygon points="473.33,230.54 474.88,231.7 476.43,230.54 477.98,232.09 476.82,233.64 477.98,235.19 476.43,236.74 474.88,235.58 473.33,236.74 471.78,235.19 472.94,233.64 471.78,232.09" fill="#ff8a00"/>
<polygon points="495.05,231.65 496.6,232.81 498.15,231.65 499.7,233.2 498.54,234.75 499.7,236.3 498.15,237.85 496.6,236.69 495.05,237.85 493.5,236.3 494.66,234.75 493.5,233.2" fill="#ff8a00"/>
<polygon points="490.02,217.2 491.57,218.37 493.12,217.2 494.67,218.75 493.5,220.3 494.67,221.85 493.12,223.4 491.57,222.24 490.02,223.4 488.47,221.85 489.63,220.3 488.47,218.75" fill="#ff8a00"/>
<polygon points="475.78,210.55 477.33,211.71 478.88,210.55 480.43,212.1 479.26,213.65 480.43,215.2 478.88,216.75 477.33,215.59 475.78,216.75 474.23,215.2 475.39,213.65 474.23,212.1" fill="#ff8a00"/>
<polygon points="504.5,205.69 506.05,206.85 507.6,205.69 509.15,207.24 507.98,208.79 509.15,210.34 507.6,211.89 506.05,210.73 504.5,211.89 502.95,210.34 504.11,208.79 502.95,207.24" fill="#ff8a00"/>
<polygon points="490.24,200.59 491.79,201.75 493.34,200.59 494.89,202.14 493.72,203.69 494.89,205.24 493.34,206.79 491.79,205.63 490.24,206.79 488.69,205.24 489.85,203.69 488.69,202.14" fill="#ff8a00"/>
<polygon points="596.81,220.47 598.36,221.63 599.91,220.47 601.46,222.02 600.3,223.57 601.46,225.12 599.91,226.67 598.36,225.51 596.81,226.67 595.26,225.12 596.43,223.57 595.26,222.02" fill="#ff8a00"/>
<polygon points="633.27,203.09 634.82,204.25 636.37,203.09 637.92,204.64 636.76,206.19 637.92,207.74 636.37,209.29 634.82,208.13 633.27,209.29 631.72,207.74 632.88,206.19 631.72,204.64" fill="#ff8a00"/>
<polygon points="642.94,226.92 644.49,228.08 646.04,226.92 647.59,228.47 646.43,230.02 647.59,231.57 646.04,233.12 644.49,231.95 642.94,233.12 641.39,231.57 642.55,230.02 641.39,228.47" fill="#ff8a00"/>
<polygon points="628.62,220.88 630.17,222.04 631.72,220.88 633.27,222.43 632.1,223.98 633.27,225.53 631.72,227.08 630.17,225.92 628.62,227.08 627.07,225.53 628.23,223.98 627.07,222.43" fill="#ff8a00"/>
<polygon points="639.86,235.34 641.41,236.5 642.96,235.34 644.51,236.89 643.35,238.44 644.51,239.99 642.96,241.54 641.41,240.38 639.86,241.54 638.31,239.99 639.48,238.44 638.31,236.89" fill="#ff8a00"/>
<polygon points="642.36,244.94 643.91,246.1 645.46,244.94 647.01,246.49 645.85,248.04 647.01,249.59 645.46,251.14 643.91,249.98 642.36,251.14 640.81,249.59 641.97,248.04 640.81,246.49" fill="#ff8a00"/>
<polygon points="620.86,212.03 622.41,213.19 623.96,212.03 625.51,213.58 624.35,215.13 625.51,216.68 623.96,218.23 622.41,217.07 620.86,218.23 619.31,216.68 620.47,215.13 619.31,213.58" fill="#ff8a00"/>
<polygon points="604.79,253.63 606.34,254.79 607.89,253.63 609.44,255.18 608.28,256.73 609.44,258.28 607.89,259.83 606.34,258.67 604.79,259.83 603.24,258.28 604.4,256.73 603.24,255.18" fill="#ff8a00"/>
<polygon points="633.8,236.49 635.35,237.65 636.9,236.49 638.45,238.04 637.28,239.59 638.45,241.14 636.9,242.69 635.35,241.53 633.8,242.69 632.25,241.14 633.41,239.59 632.25,238.04" fill="#ff8a00"/>
<polygon points="643.38,204.06 644.93,205.22 646.48,204.06 648.03,205.61 646.87,207.16 648.03,208.71 646.48,210.26 644.93,209.1 643.38,210.26 641.83,208.71 642.99,207.16 641.83,205.61" fill="#ff8a00"/>
<polygon points="618.59,256.42 620.14,257.59 621.69,256.42 623.24,257.97 622.08,259.52 623.24,261.07 621.69,262.62 620.14,261.46 618.59,262.62 617.04,261.07 618.2,259.52 617.04,257.97" fill="#ff8a00"/>
<polygon points="624.29,213.93 625.84,215.09 627.39,213.93 628.94,215.48 627.78,217.03 628.94,218.58 627.39,220.13 625.84,218.97 624.29,220.13 622.74,218.58 623.91,217.03 622.74,215.48" fill="#ff8a00"/>
<polygon points="597.41,237.18 598.96,238.34 600.51,237.18 602.06,238.73 600.9,240.28 602.06,241.83 600.51,243.38 598.96,242.21 597.41,243.38 595.86,241.83 597.02,240.28 595.86,238.73" fill="#ff8a00"/>
<polygon points="623.05,209.97 624.6,211.14 626.15,209.97 627.7,211.52 626.53,213.07 627.7,214.62 626.15,216.17 624.6,215.01 623.05,216.17 621.5,214.62 622.66,213.07 621.5,211.52" fill="#ff8a00"/>
<polygon points="624.53,275.15 626.08,276.32 627.63,275.15 629.18,276.7 628.02,278.25 629.18,279.8 627.63,281.35 626.08,280.19 624.53,281.35 622.98,279.8 624.14,278.25 622.98,276.7" fill="#ff8a00"/>
<polygon points="634.31,237.63 635.86,238.8 637.41,237.63 638.96,239.18 637.79,240.73 638.96,242.28 637.41,243.83 635.86,242.67 634.31,243.83 632.76,242.28 633.92,240.73 632.76,239.18" fill="#ff8a00"/>
<polygon points="627.53,227.53 629.08,228.7 630.63,227.53 632.18,229.08 631.02,230.63 632.18,232.18 630.63,233.73 629.08,232.57 627.53,233.73 625.98,232.18 627.15,230.63 625.98,229.08" fill="#ff8a00"/>
<polygon points="609.66,246.59 611.21,247.76 612.76,246.59 614.31,248.14 613.15,249.69 614.31,251.24 612.76,252.79 611.21,251.63 609.66,252.79 608.11,251.24 609.27,249.69 608.11,248.14" fill="#ff8a00"/>
<polygon points="601.11,212.46 602.66,213.62 604.21,212.46 605.76,214.01 604.6,215.56 605.76,217.11 604.21,218.66 602.66,217.49 601.11,218.66 599.56,217.11 600.72,215.56 599.56,214.01" fill="#ff8a00"/>
<polygon points="606.89,248.61 608.44,249.77 609.99,248.61 611.54,250.16 610.38,251.71 611.54,253.26 609.99,254.81 608.44,253.65 606.89,254.81 605.34,253.26 606.51,251.71 605.34,250.16" fill="#ff8a00"/>
<polygon points="598.93,226.65 600.48,227.81 602.03,226.65 603.58,228.2 602.42,229.75 603.58,231.3 602.03,232.85 600.48,231.69 598.93,232.85 597.38,231.3 598.54,229.75 597.38,228.2" fill="#ff8a00"/>
<polygon points="635.7,249.81 637.25,250.97 638.8,249.81 640.35,251.36 639.19,252.91 640.35,254.46 638.8,256.01 637.25,254.85 635.7,256.01 634.15,254.46 635.31,252.91 634.15,251.36" fill="#ff8a00"/>
<polygon points="607.84,213.28 609.39,214.44 610.94,213.28 612.49,214.83 611.32,216.38 612.49,217.93 610.94,219.48 609.39,218.31 607.84,219.48 606.29,217.93 607.45,216.38 606.29,214.83" fill="#ff8a00"/>
<polygon points="599.22,264.67 600.77,265.83 602.32,264.67 603.87,266.22 602.71,267.77 603.87,269.32 602.32,270.87 600.77,269.71 599.22,270.87 597.67,269.32 598.83,267.77 597.67,266.22" fill="#ff8a00"/>
<circle cx="416.5" cy="171.9" r="3.25" fill="#0a7dfa"/>
<circle cx="411" cy="192.5" r="3.25" fill="#0a7dfa"/>
<circle cx="439.2" cy="184.8" r="3.25" fill="#0a7dfa"/>
<circle cx="442.3" cy="183.3" r="3.25" fill="#0a7dfa"/>
<circle cx="445.4" cy="184.8" r="3.25" fill="#0a7dfa"/>
<circle cx="437" cy="187" r="3.25" fill="#0a7dfa"/>
<circle cx="455" cy="189" r="3.25" fill="#0a7dfa"/>
<circle cx="484.5" cy="168.3" r="3.25" fill="#0a7dfa"/>
<circle cx="498.9" cy="179.7" r="3.25" fill="#0a7dfa"/>
<circle cx="504" cy="180.2" r="3.25" fill="#0a7dfa"/>
<circle cx="509.2" cy="181.7" r="3.25" fill="#0a7dfa"/>
<circle cx="513.3" cy="181.7" r="3.25" fill="#0a7dfa"/>
<circle cx="506.1" cy="184.3" r="3.25" fill="#0a7dfa"/>
<circle cx="510.2" cy="184.8" r="3.25" fill="#0a7dfa"/>
<circle cx="486" cy="206.4" r="3.25" fill="#0a7dfa"/>
<circle cx="469" cy="203.3" r="3.25" fill="#0a7dfa"/>
<circle cx="602.4" cy="171.4" r="3.25" fill="#0a7dfa"/>
<circle cx="608" cy="170.4" r="3.25" fill="#0a7dfa"/>
<circle cx="556.5" cy="181.7" r="3.25" fill="#0a7dfa"/>
<circle cx="582.3" cy="185.8" r="3.25" fill="#0a7dfa"/>
<circle cx="606" cy="204.4" r="3.25" fill="#0a7dfa"/>
<circle cx="607" cy="207" r="3.25" fill="#0a7dfa"/>
<circle cx="610.2" cy="170.5" r="3.25" fill="#0a7dfa"/>
<circle cx="609.7" cy="178.3" r="3.25" fill="#0a7dfa"/>
<circle cx="613.6" cy="182.8" r="3.25" fill="#0a7dfa"/>
<circle cx="621.5" cy="180.6" r="3.25" fill="#0a7dfa"/>
<circle cx="630.5" cy="178.3" r="3.25" fill="#0a7dfa"/>
<circle cx="635" cy="182.8" r="3.25" fill="#0a7dfa"/>
<circle cx="624.9" cy="184" r="3.25" fill="#0a7dfa"/>
<circle cx="628.2" cy="189.6" r="3.25" fill="#0a7dfa"/>
<circle cx="621.5" cy="189.6" r="3.25" fill="#0a7dfa"/>
<circle cx="641.7" cy="177.8" r="3.25" fill="#0a7dfa"/>
<circle cx="658.6" cy="170.5" r="3.25" fill="#0a7dfa"/>
<circle cx="663" cy="168.2" r="3.25" fill="#0a7dfa"/>
<circle cx="678.2" cy="194.6" r="3.25" fill="#0a7dfa"/>
<circle cx="633.8" cy="204.2" r="3.25" fill="#0a7dfa"/>
<circle cx="637.2" cy="206.4" r="3.25" fill="#0a7dfa"/>
<circle cx="610.2" cy="204.2" r="3.25" fill="#0a7dfa"/>
<circle cx="458.8" cy="220.4" r="3.25" fill="#0a7dfa"/>
<circle cx="463.9" cy="235.9" r="3.25" fill="#0a7dfa"/>
<circle cx="464.9" cy="240" r="3.25" fill="#0a7dfa"/>
<circle cx="466" cy="254.4" r="3.25" fill="#0a7dfa"/>
<circle cx="485.5" cy="207.1" r="3.25" fill="#0a7dfa"/>
<circle cx="496.8" cy="220.4" r="3.25" fill="#0a7dfa"/>
<circle cx="481.4" cy="224.6" r="3.25" fill="#0a7dfa"/>
<circle cx="469" cy="215.3" r="3.25" fill="#0a7dfa"/>
<circle cx="492.7" cy="250.3" r="3.25" fill="#0a7dfa"/>
<circle cx="469" cy="250.3" r="3.25" fill="#0a7dfa"/>
<circle cx="604.9" cy="207" r="3.25" fill="#0a7dfa"/>
<circle cx="600.8" cy="243.1" r="3.25" fill="#0a7dfa"/>
<circle cx="614.7" cy="216.2" r="3.25" fill="#0a7dfa"/>
<circle cx="631.6" cy="227.5" r="3.25" fill="#0a7dfa"/>
<circle cx="637.2" cy="207.2" r="3.25" fill="#0a7dfa"/>
<circle cx="614.7" cy="247.7" r="3.25" fill="#0a7dfa"/>
<circle cx="630.5" cy="253.3" r="3.25" fill="#0a7dfa"/>
<circle cx="638.3" cy="208.4" r="3.25" fill="#0a7dfa"/>
<circle cx="435.7" cy="277.2" r="3.25" fill="#0a7dfa"/>
<circle cx="433.5" cy="276.1" r="3.25" fill="#0a7dfa"/>
<circle cx="462.3" cy="260.5" r="3.25" fill="#0a7dfa"/>
<circle cx="465.6" cy="266.1" r="3.25" fill="#0a7dfa"/>
<circle cx="499" cy="258.3" r="3.25" fill="#0a7dfa"/>
<circle cx="494.6" cy="265" r="3.25" fill="#0a7dfa"/>
<circle cx="500.2" cy="262.8" r="3.25" fill="#0a7dfa"/>
<circle cx="488" cy="287.2" r="3.25" fill="#0a7dfa"/>
<circle cx="495.7" cy="290.5" r="3.25" fill="#0a7dfa"/>
<circle cx="502.4" cy="283.8" r="3.25" fill="#0a7dfa"/>
<circle cx="507.9" cy="287.2" r="3.25" fill="#0a7dfa"/>
<circle cx="514.6" cy="294.9" r="3.25" fill="#0a7dfa"/>
<circle cx="521.2" cy="297.1" r="3.25" fill="#0a7dfa"/>
<circle cx="529" cy="291.6" r="3.25" fill="#0a7dfa"/>
<circle cx="521.2" cy="273.8" r="3.25" fill="#0a7dfa"/>
<circle cx="526.8" cy="272.7" r="3.25" fill="#0a7dfa"/>
<circle cx="530.1" cy="276.1" r="3.25" fill="#0a7dfa"/>
<circle cx="541.3" cy="280" r="3.25" fill="#0a7dfa"/>
<circle cx="541.3" cy="293.2" r="3.25" fill="#0a7dfa"/>
<circle cx="580.1" cy="278.3" r="3.25" fill="#0a7dfa"/>
<circle cx="576.8" cy="283.8" r="3.25" fill="#0a7dfa"/>
<circle cx="582.3" cy="287.2" r="3.25" fill="#0a7dfa"/>
<circle cx="597.9" cy="271.6" r="3.25" fill="#0a7dfa"/>
<circle cx="600.1" cy="257.2" r="3.25" fill="#0a7dfa"/>
<circle cx="597.9" cy="261.7" r="3.25" fill="#0a7dfa"/>
<circle cx="636.1" cy="258.4" r="3.25" fill="#0a7dfa"/>
<circle cx="631.6" cy="256.1" r="3.25" fill="#0a7dfa"/>
<circle cx="647.3" cy="269.6" r="3.25" fill="#0a7dfa"/>
<circle cx="646.2" cy="284.2" r="3.25" fill="#0a7dfa"/>
<circle cx="648.4" cy="287.6" r="3.25" fill="#0a7dfa"/>
<circle cx="654.1" cy="287.6" r="3.25" fill="#0a7dfa"/>
<circle cx="646.2" cy="289.8" r="3.25" fill="#0a7dfa"/>
<circle cx="655.2" cy="287" r="3.25" fill="#0a7dfa"/>
<circle cx="468" cy="250.2" r="3.25" fill="#0a7dfa"/>
<circle cx="462.2" cy="261.3" r="3.25" fill="#0a7dfa"/>
<circle cx="466.9" cy="265.4" r="3.25" fill="#0a7dfa"/>
<circle cx="492.6" cy="250.2" r="3.25" fill="#0a7dfa"/>
<circle cx="498.4" cy="258.4" r="3.25" fill="#0a7dfa"/>
<circle cx="494.9" cy="264.2" r="3.25" fill="#0a7dfa"/>
<circle cx="499.6" cy="263" r="3.25" fill="#0a7dfa"/>
<circle cx="606.08" cy="274.17" r="3.25" fill="#0a7dfa"/>
<rect x="430.05" y="169.05" width="5.9" height="5.9" fill="#0a2fa6"/>
<rect x="438.35" y="168.45" width="5.9" height="5.9" fill="#0a2fa6"/>
<rect x="441.35" y="170.55" width="5.9" height="5.9" fill="#0a2fa6"/>
<rect x="444.45" y="172.05" width="5.9" height="5.9" fill="#0a2fa6"/>
<rect x="450.65" y="168.45" width="5.9" height="5.9" fill="#0a2fa6"/>
<rect x="456.85" y="168.45" width="5.9" height="5.9" fill="#0a2fa6"/>
<rect x="465.05" y="167.45" width="5.9" height="5.9" fill="#0a2fa6"/>
<rect x="401.25" y="190.65" width="5.9" height="5.9" fill="#0a2fa6"/>
<rect x="440.35" y="200.95" width="5.9" height="5.9" fill="#0a2fa6"/>
<rect x="458.85" y="199.35" width="5.9" height="5.9" fill="#0a2fa6"/>
<rect x="463.05" y="201.05" width="5.9" height="5.9" fill="#0a2fa6"/>
<rect x="467.05" y="166.95" width="5.9" height="5.9" fill="#0a2fa6"/>
<rect x="474.75" y="170.05" width="5.9" height="5.9" fill="#0a2fa6"/>
<rect x="482.55" y="185.95" width="5.9" height="5.9" fill="#0a2fa6"/>
<rect x="483.55" y="191.15" width="5.9" height="5.9" fill="#0a2fa6"/>
<rect x="488.75" y="196.25" width="5.9" height="5.9" fill="#0a2fa6"/>
<rect x="503.15" y="193.65" width="5.9" height="5.9" fill="#0a2fa6"/>
<rect x="465.05" y="193.05" width="5.9" height="5.9" fill="#0a2fa6"/>
<rect x="559.75" y="180.35" width="5.9" height="5.9" fill="#0a2fa6"/>
<rect x="588.65" y="192.15" width="5.9" height="5.9" fill="#0a2fa6"/>
<rect x="610.65" y="168.65" width="5.9" height="5.9" fill="#0a2fa6"/>
<rect x="614.05" y="169.75" width="5.9" height="5.9" fill="#0a2fa6"/>
<rect x="620.75" y="170.95" width="5.9" height="5.9" fill="#0a2fa6"/>
<rect x="625.25" y="166.45" width="5.9" height="5.9" fill="#0a2fa6"/>
<rect x="633.05" y="166.95" width="5.9" height="5.9" fill="#0a2fa6"/>
<rect x="616.25" y="165.25" width="5.9" height="5.9" fill="#0a2fa6"/>
<rect x="615.15" y="190.05" width="5.9" height="5.9" fill="#0a2fa6"/>
<rect x="614.05" y="195.65" width="5.9" height="5.9" fill="#0a2fa6"/>
<rect x="611.75" y="184.35" width="5.9" height="5.9" fill="#0a2fa6"/>
<rect x="620.75" y="185.55" width="5.9" height="5.9" fill="#0a2fa6"/>
<rect x="658.95" y="200.05" width="5.9" height="5.9" fill="#0a2fa6"/>
<rect x="440.35" y="202.55" width="5.9" height="5.9" fill="#0a2fa6"/>
<rect x="450.65" y="217.45" width="5.9" height="5.9" fill="#0a2fa6"/>
<rect x="460.95" y="222.65" width="5.9" height="5.9" fill="#0a2fa6"/>
<rect x="462.05" y="228.85" width="5.9" height="5.9" fill="#0a2fa6"/>
<rect x="460.95" y="243.25" width="5.9" height="5.9" fill="#0a2fa6"/>
<rect x="464.05" y="245.35" width="5.9" height="5.9" fill="#0a2fa6"/>
<rect x="477.45" y="207.15" width="5.9" height="5.9" fill="#0a2fa6"/>
<rect x="485.65" y="208.25" width="5.9" height="5.9" fill="#0a2fa6"/>
<rect x="495.95" y="212.35" width="5.9" height="5.9" fill="#0a2fa6"/>
<rect x="480.45" y="225.75" width="5.9" height="5.9" fill="#0a2fa6"/>
<rect x="475.35" y="229.85" width="5.9" height="5.9" fill="#0a2fa6"/>
<rect x="490.75" y="225.75" width="5.9" height="5.9" fill="#0a2fa6"/>
<rect x="485.65" y="220.55" width="5.9" height="5.9" fill="#0a2fa6"/>
<rect x="486.65" y="231.95" width="5.9" height="5.9" fill="#0a2fa6"/>
<rect x="490.75" y="237.05" width="5.9" height="5.9" fill="#0a2fa6"/>
<rect x="475.35" y="249.45" width="5.9" height="5.9" fill="#0a2fa6"/>
<rect x="484.65" y="246.35" width="5.9" height="5.9" fill="#0a2fa6"/>
<rect x="466.05" y="221.65" width="5.9" height="5.9" fill="#0a2fa6"/>
<rect x="596.85" y="246.35" width="5.9" height="5.9" fill="#0a2fa6"/>
<rect x="601.95" y="249.45" width="5.9" height="5.9" fill="#0a2fa6"/>
<rect x="638.75" y="221.15" width="5.9" height="5.9" fill="#0a2fa6"/>
<rect x="643.25" y="222.25" width="5.9" height="5.9" fill="#0a2fa6"/>
<rect x="624.15" y="224.55" width="5.9" height="5.9" fill="#0a2fa6"/>
<rect x="623.05" y="231.25" width="5.9" height="5.9" fill="#0a2fa6"/>
<rect x="638.75" y="238.05" width="5.9" height="5.9" fill="#0a2fa6"/>
<rect x="642.05" y="238.55" width="5.9" height="5.9" fill="#0a2fa6"/>
<rect x="609.55" y="229.05" width="5.9" height="5.9" fill="#0a2fa6"/>
<rect x="628.65" y="241.35" width="5.9" height="5.9" fill="#0a2fa6"/>
<rect x="611.75" y="250.35" width="5.9" height="5.9" fill="#0a2fa6"/>
<rect x="649.95" y="205.45" width="5.9" height="5.9" fill="#0a2fa6"/>
<rect x="398.35" y="277.55" width="5.9" height="5.9" fill="#0a2fa6"/>
<rect x="401.75" y="276.45" width="5.9" height="5.9" fill="#0a2fa6"/>
<rect x="408.35" y="275.85" width="5.9" height="5.9" fill="#0a2fa6"/>
<rect x="418.35" y="275.85" width="5.9" height="5.9" fill="#0a2fa6"/>
<rect x="449.35" y="262.05" width="5.9" height="5.9" fill="#0a2fa6"/>
<rect x="441.65" y="262.05" width="5.9" height="5.9" fill="#0a2fa6"/>
<rect x="485.05" y="267.55" width="5.9" height="5.9" fill="#0a2fa6"/>
<rect x="489.45" y="275.35" width="5.9" height="5.9" fill="#0a2fa6"/>
<rect x="509.35" y="288.65" width="5.9" height="5.9" fill="#0a2fa6"/>
<rect x="514.95" y="289.75" width="5.9" height="5.9" fill="#0a2fa6"/>
<rect x="530.45" y="294.15" width="5.9" height="5.9" fill="#0a2fa6"/>
<rect x="504.95" y="260.95" width="5.9" height="5.9" fill="#0a2fa6"/>
<rect x="512.75" y="269.75" width="5.9" height="5.9" fill="#0a2fa6"/>
<rect x="533.75" y="275.35" width="5.9" height="5.9" fill="#0a2fa6"/>
<rect x="556.15" y="275.35" width="5.9" height="5.9" fill="#0a2fa6"/>
<rect x="561.65" y="275.35" width="5.9" height="5.9" fill="#0a2fa6"/>
<rect x="588.25" y="264.25" width="5.9" height="5.9" fill="#0a2fa6"/>
<rect x="599.35" y="263.15" width="5.9" height="5.9" fill="#0a2fa6"/>
<rect x="590.45" y="269.75" width="5.9" height="5.9" fill="#0a2fa6"/>
<rect x="602.65" y="263.15" width="5.9" height="5.9" fill="#0a2fa6"/>
<rect x="611.75" y="253.15" width="5.9" height="5.9" fill="#0a2fa6"/>
<rect x="625.25" y="266.05" width="5.9" height="5.9" fill="#0a2fa6"/>
<rect x="616.25" y="275.05" width="5.9" height="5.9" fill="#0a2fa6"/>
<rect x="636.55" y="266.65" width="5.9" height="5.9" fill="#0a2fa6"/>
<rect x="638.75" y="272.25" width="5.9" height="5.9" fill="#0a2fa6"/>
<rect x="606.15" y="272.25" width="5.9" height="5.9" fill="#0a2fa6"/>
<rect x="671.35" y="279.55" width="5.9" height="5.9" fill="#0a2fa6"/>
<rect x="674.75" y="279.55" width="5.9" height="5.9" fill="#0a2fa6"/>
<rect x="463.95" y="243.75" width="5.9" height="5.9" fill="#0a2fa6"/>
<rect x="476.75" y="249.55" width="5.9" height="5.9" fill="#0a2fa6"/>
<rect x="483.75" y="247.25" width="5.9" height="5.9" fill="#0a2fa6"/>
<rect x="490.75" y="236.75" width="5.9" height="5.9" fill="#0a2fa6"/>
<rect x="448.75" y="262.45" width="5.9" height="5.9" fill="#0a2fa6"/>
<rect x="484.95" y="268.25" width="5.9" height="5.9" fill="#0a2fa6"/>
<rect x="604.88" y="260.71" width="5.9" height="5.9" fill="#0a2fa6"/>
<polygon points="432,172 435.32,178.12 428.68,178.12" fill="#c6def9"/>
<polygon points="438.7,168.9 442.02,175.03 435.38,175.03" fill="#c6def9"/>
<polygon points="451.6,172 454.93,178.12 448.28,178.12" fill="#c6def9"/>
<polygon points="463,171.5 466.32,177.62 459.68,177.62" fill="#c6def9"/>
<polygon points="402,193.1 405.32,199.22 398.68,199.22" fill="#c6def9"/>
<polygon points="408.3,193.7 411.62,199.82 404.98,199.82" fill="#c6def9"/>
<polygon points="412,192.5 415.32,198.62 408.68,198.62" fill="#c6def9"/>
<polygon points="459.8,186.5 463.12,192.62 456.48,192.62" fill="#c6def9"/>
<polygon points="457,184.5 460.32,190.62 453.68,190.62" fill="#c6def9"/>
<polygon points="447.4,201.9 450.72,208.03 444.07,208.03" fill="#c6def9"/>
<polygon points="462,203.5 465.32,209.62 458.68,209.62" fill="#c6def9"/>
<polygon points="471,171 474.32,177.12 467.68,177.12" fill="#c6def9"/>
<polygon points="484.5,166.4 487.82,172.53 481.18,172.53" fill="#c6def9"/>
<polygon points="491.2,166.9 494.52,173.03 487.88,173.03" fill="#c6def9"/>
<polygon points="495.3,166.9 498.62,173.03 491.98,173.03" fill="#c6def9"/>
<polygon points="489.6,189.5 492.93,195.62 486.28,195.62" fill="#c6def9"/>
<polygon points="478.3,191.6 481.62,197.72 474.98,197.72" fill="#c6def9"/>
<polygon points="490.7,191.6 494.02,197.72 487.38,197.72" fill="#c6def9"/>
<polygon points="579.2,166.9 582.53,173.03 575.88,173.03" fill="#c6def9"/>
<polygon points="597.7,167.4 601.03,173.53 594.38,173.53" fill="#c6def9"/>
<polygon points="607.5,173.1 610.83,179.22 604.17,179.22" fill="#c6def9"/>
<polygon points="558.6,180.8 561.93,186.93 555.27,186.93" fill="#c6def9"/>
<polygon points="595.2,198.8 598.53,204.93 591.88,204.93" fill="#c6def9"/>
<polygon points="644,167.5 647.33,173.62 640.67,173.62" fill="#c6def9"/>
<polygon points="635,171.5 638.33,177.62 631.67,177.62" fill="#c6def9"/>
<polygon points="622.6,193.9 625.93,200.03 619.27,200.03" fill="#c6def9"/>
<polygon points="613.6,191.7 616.93,197.82 610.27,197.82" fill="#c6def9"/>
<polygon points="610.2,170.4 613.53,176.53 606.88,176.53" fill="#c6def9"/>
<polygon points="675.4,165.9 678.73,172.03 672.07,172.03" fill="#c6def9"/>
<polygon points="663,200.7 666.33,206.82 659.67,206.82" fill="#c6def9"/>
<polygon points="446.4,202.5 449.72,208.62 443.07,208.62" fill="#c6def9"/>
<polygon points="456.7,226.2 460.02,232.32 453.38,232.32" fill="#c6def9"/>
<polygon points="460.8,226.2 464.12,232.32 457.48,232.32" fill="#c6def9"/>
<polygon points="456.7,242.7 460.02,248.82 453.38,248.82" fill="#c6def9"/>
<polygon points="459.8,243.7 463.12,249.82 456.48,249.82" fill="#c6def9"/>
<polygon points="466,225.2 469.32,231.32 462.68,231.32" fill="#c6def9"/>
<polygon points="478.3,210.8 481.62,216.93 474.98,216.93" fill="#c6def9"/>
<polygon points="490.7,204.6 494.02,210.72 487.38,210.72" fill="#c6def9"/>
<polygon points="476.2,233.4 479.52,239.53 472.88,239.53" fill="#c6def9"/>
<polygon points="494.8,241.7 498.12,247.82 491.48,247.82" fill="#c6def9"/>
<polygon points="484.5,222.1 487.82,228.22 481.18,228.22" fill="#c6def9"/>
<polygon points="603.9,229.3 607.23,235.43 600.57,235.43" fill="#c6def9"/>
<polygon points="595.7,247.8 599.03,253.93 592.38,253.93" fill="#c6def9"/>
<polygon points="606,241.7 609.33,247.82 602.67,247.82" fill="#c6def9"/>
<polygon points="645,222.8 648.33,228.93 641.67,228.93" fill="#c6def9"/>
<polygon points="640.6,222.3 643.93,228.43 637.27,228.43" fill="#c6def9"/>
<polygon points="630.5,234.1 633.83,240.22 627.17,240.22" fill="#c6def9"/>
<polygon points="632.7,241.9 636.03,248.03 629.38,248.03" fill="#c6def9"/>
<polygon points="637.2,240.8 640.53,246.93 633.88,246.93" fill="#c6def9"/>
<polygon points="611.4,235.2 614.73,241.32 608.07,241.32" fill="#c6def9"/>
<polygon points="618.1,235.2 621.43,241.32 614.77,241.32" fill="#c6def9"/>
<polygon points="641.7,247.6 645.03,253.72 638.38,253.72" fill="#c6def9"/>
<polygon points="626,217.2 629.33,223.32 622.67,223.32" fill="#c6def9"/>
<polygon points="655.2,206.5 658.53,212.62 651.88,212.62" fill="#c6def9"/>
<polygon points="663,202.1 666.33,208.22 659.67,208.22" fill="#c6def9"/>
<polygon points="416.8,275.3 420.12,281.43 413.48,281.43" fill="#c6def9"/>
<polygon points="441.2,262.6 444.52,268.73 437.88,268.73" fill="#c6def9"/>
<polygon points="445.7,262 449.02,268.12 442.38,268.12" fill="#c6def9"/>
<polygon points="440.1,267 443.43,273.12 436.78,273.12" fill="#c6def9"/>
<polygon points="436.8,269.2 440.12,275.32 433.48,275.32" fill="#c6def9"/>
<polygon points="442.3,269.8 445.62,275.93 438.98,275.93" fill="#c6def9"/>
<polygon points="505.7,289.2 509.02,295.32 502.38,295.32" fill="#c6def9"/>
<polygon points="522.3,287 525.62,293.12 518.97,293.12" fill="#c6def9"/>
<polygon points="509,261.5 512.33,267.62 505.68,267.62" fill="#c6def9"/>
<polygon points="519,263.7 522.33,269.82 515.67,269.82" fill="#c6def9"/>
<polygon points="555.7,273.1 559.03,279.23 552.38,279.23" fill="#c6def9"/>
<polygon points="561.8,275.9 565.12,282.02 558.47,282.02" fill="#c6def9"/>
<polygon points="586.8,264.2 590.12,270.32 583.47,270.32" fill="#c6def9"/>
<polygon points="595.6,264.2 598.93,270.32 592.27,270.32" fill="#c6def9"/>
<polygon points="596.8,271.5 600.12,277.62 593.47,277.62" fill="#c6def9"/>
<polygon points="605.6,268.1 608.93,274.23 602.27,274.23" fill="#c6def9"/>
<polygon points="638.3,265.5 641.62,271.62 634.97,271.62" fill="#c6def9"/>
<polygon points="638.3,271.7 641.62,277.82 634.97,277.82" fill="#c6def9"/>
<polygon points="649.6,265.5 652.93,271.62 646.27,271.62" fill="#c6def9"/>
<polygon points="623.7,270.6 627.03,276.73 620.38,276.73" fill="#c6def9"/>
<polygon points="631.6,271.7 634.93,277.82 628.27,277.82" fill="#c6def9"/>
<polygon points="609.1,270.6 612.43,276.73 605.77,276.73" fill="#c6def9"/>
<polygon points="678.2,277.9 681.53,284.02 674.88,284.02" fill="#c6def9"/>
<polygon points="675.4,277.3 678.73,283.43 672.07,283.43" fill="#c6def9"/>
<polygon points="457.5,243.2 460.82,249.32 454.18,249.32" fill="#c6def9"/>
<polygon points="443.5,261.9 446.82,268.02 440.18,268.02" fill="#c6def9"/>
<polygon points="508.9,261.9 512.23,268.02 505.57,268.02" fill="#c6def9"/>
<polygon points="626.97,271.6 630.3,277.73 623.65,277.73" fill="#c6def9"/>
<polygon points="630.13,262.4 633.46,268.52 626.81,268.52" fill="#c6def9"/>
<polygon points="404.33,167.65 407.06,167.65 407.06,169.53 408.95,169.53 408.95,172.27 407.06,172.27 407.06,174.15 404.33,174.15 404.33,172.27 402.45,172.27 402.45,169.53 404.33,169.53" fill="#7f989c"/>
<polygon points="424.44,166.75 427.17,166.75 427.17,168.63 429.05,168.63 429.05,171.37 427.17,171.37 427.17,173.25 424.44,173.25 424.44,171.37 422.55,171.37 422.55,168.63 424.44,168.63" fill="#7f989c"/>
<polygon points="427.13,166.25 429.87,166.25 429.87,168.13 431.75,168.13 431.75,170.87 429.87,170.87 429.87,172.75 427.13,172.75 427.13,170.87 425.25,170.87 425.25,168.13 427.13,168.13" fill="#7f989c"/>
<polygon points="435.24,165.05 437.97,165.05 437.97,166.94 439.85,166.94 439.85,169.67 437.97,169.67 437.97,171.55 435.24,171.55 435.24,169.67 433.35,169.67 433.35,166.94 435.24,166.94" fill="#7f989c"/>
<polygon points="406.94,188.75 409.67,188.75 409.67,190.63 411.55,190.63 411.55,193.37 409.67,193.37 409.67,195.25 406.94,195.25 406.94,193.37 405.05,193.37 405.05,190.63 406.94,190.63" fill="#7f989c"/>
<polygon points="442.94,187.75 445.67,187.75 445.67,189.63 447.55,189.63 447.55,192.37 445.67,192.37 445.67,194.25 442.94,194.25 442.94,192.37 441.05,192.37 441.05,189.63 442.94,189.63" fill="#7f989c"/>
<polygon points="452.24,186.75 454.97,186.75 454.97,188.63 456.85,188.63 456.85,191.37 454.97,191.37 454.97,193.25 452.24,193.25 452.24,191.37 450.35,191.37 450.35,188.63 452.24,188.63" fill="#7f989c"/>
<polygon points="458.44,183.65 461.17,183.65 461.17,185.53 463.05,185.53 463.05,188.27 461.17,188.27 461.17,190.15 458.44,190.15 458.44,188.27 456.55,188.27 456.55,185.53 458.44,185.53" fill="#7f989c"/>
<polygon points="490.33,184.65 493.06,184.65 493.06,186.53 494.95,186.53 494.95,189.27 493.06,189.27 493.06,191.15 490.33,191.15 490.33,189.27 488.45,189.27 488.45,186.53 490.33,186.53" fill="#7f989c"/>
<polygon points="497.53,184.65 500.26,184.65 500.26,186.53 502.15,186.53 502.15,189.27 500.26,189.27 500.26,191.15 497.53,191.15 497.53,189.27 495.65,189.27 495.65,186.53 497.53,186.53" fill="#7f989c"/>
<polygon points="505.74,184.65 508.47,184.65 508.47,186.53 510.35,186.53 510.35,189.27 508.47,189.27 508.47,191.15 505.74,191.15 505.74,189.27 503.85,189.27 503.85,186.53 505.74,186.53" fill="#7f989c"/>
<polygon points="490.83,200.05 493.56,200.05 493.56,201.94 495.45,201.94 495.45,204.67 493.56,204.67 493.56,206.55 490.83,206.55 490.83,204.67 488.95,204.67 488.95,201.94 490.83,201.94" fill="#7f989c"/>
<polygon points="490.33,203.15 493.06,203.15 493.06,205.03 494.95,205.03 494.95,207.77 493.06,207.77 493.06,209.65 490.33,209.65 490.33,207.77 488.45,207.77 488.45,205.03 490.33,205.03" fill="#7f989c"/>
<polygon points="604.63,170.25 607.37,170.25 607.37,172.13 609.25,172.13 609.25,174.87 607.37,174.87 607.37,176.75 604.63,176.75 604.63,174.87 602.75,174.87 602.75,172.13 604.63,172.13" fill="#7f989c"/>
<polygon points="550.03,178.95 552.76,178.95 552.76,180.83 554.65,180.83 554.65,183.56 552.76,183.56 552.76,185.45 550.03,185.45 550.03,183.56 548.15,183.56 548.15,180.83 550.03,180.83" fill="#7f989c"/>
<polygon points="558.74,177.45 561.47,177.45 561.47,179.33 563.35,179.33 563.35,182.06 561.47,182.06 561.47,183.95 558.74,183.95 558.74,182.06 556.85,182.06 556.85,179.33 558.74,179.33" fill="#7f989c"/>
<polygon points="576.84,181.05 579.57,181.05 579.57,182.94 581.45,182.94 581.45,185.67 579.57,185.67 579.57,187.55 576.84,187.55 576.84,185.67 574.95,185.67 574.95,182.94 576.84,182.94" fill="#7f989c"/>
<polygon points="585.03,184.15 587.76,184.15 587.76,186.03 589.65,186.03 589.65,188.77 587.76,188.77 587.76,190.65 585.03,190.65 585.03,188.77 583.15,188.77 583.15,186.03 585.03,186.03" fill="#7f989c"/>
<polygon points="624.03,165.55 626.76,165.55 626.76,167.44 628.65,167.44 628.65,170.17 626.76,170.17 626.76,172.05 624.03,172.05 624.03,170.17 622.15,170.17 622.15,167.44 624.03,167.44" fill="#7f989c"/>
<polygon points="629.13,168.35 631.87,168.35 631.87,170.23 633.75,170.23 633.75,172.97 631.87,172.97 631.87,174.85 629.13,174.85 629.13,172.97 627.25,172.97 627.25,170.23 629.13,170.23" fill="#7f989c"/>
<polygon points="636.43,168.35 639.16,168.35 639.16,170.23 641.05,170.23 641.05,172.97 639.16,172.97 639.16,174.85 636.43,174.85 636.43,172.97 634.55,172.97 634.55,170.23 636.43,170.23" fill="#7f989c"/>
<polygon points="613.34,176.25 616.07,176.25 616.07,178.13 617.95,178.13 617.95,180.87 616.07,180.87 616.07,182.75 613.34,182.75 613.34,180.87 611.45,180.87 611.45,178.13 613.34,178.13" fill="#7f989c"/>
<polygon points="626.84,178.45 629.57,178.45 629.57,180.33 631.45,180.33 631.45,183.06 629.57,183.06 629.57,184.95 626.84,184.95 626.84,183.06 624.95,183.06 624.95,180.33 626.84,180.33" fill="#7f989c"/>
<polygon points="616.74,181.85 619.47,181.85 619.47,183.73 621.35,183.73 621.35,186.47 619.47,186.47 619.47,188.35 616.74,188.35 616.74,186.47 614.85,186.47 614.85,183.73 616.74,183.73" fill="#7f989c"/>
<polygon points="669.53,193.05 672.26,193.05 672.26,194.94 674.15,194.94 674.15,197.67 672.26,197.67 672.26,199.55 669.53,199.55 669.53,197.67 667.65,197.67 667.65,194.94 669.53,194.94" fill="#7f989c"/>
<polygon points="674.03,192.55 676.76,192.55 676.76,194.44 678.65,194.44 678.65,197.17 676.76,197.17 676.76,199.05 674.03,199.05 674.03,197.17 672.15,197.17 672.15,194.44 674.03,194.44" fill="#7f989c"/>
<polygon points="460.44,209.95 463.17,209.95 463.17,211.83 465.05,211.83 465.05,214.56 463.17,214.56 463.17,216.45 460.44,216.45 460.44,214.56 458.55,214.56 458.55,211.83 460.44,211.83" fill="#7f989c"/>
<polygon points="463.53,215.15 466.26,215.15 466.26,217.03 468.15,217.03 468.15,219.77 466.26,219.77 466.26,221.65 463.53,221.65 463.53,219.77 461.65,219.77 461.65,217.03 463.53,217.03" fill="#7f989c"/>
<polygon points="462.53,249.15 465.26,249.15 465.26,251.03 467.15,251.03 467.15,253.77 465.26,253.77 465.26,255.65 462.53,255.65 462.53,253.77 460.65,253.77 460.65,251.03 462.53,251.03" fill="#7f989c"/>
<polygon points="479.03,216.15 481.76,216.15 481.76,218.03 483.65,218.03 483.65,220.77 481.76,220.77 481.76,222.65 479.03,222.65 479.03,220.77 477.15,220.77 477.15,218.03 479.03,218.03" fill="#7f989c"/>
<polygon points="491.33,202.75 494.06,202.75 494.06,204.63 495.95,204.63 495.95,207.37 494.06,207.37 494.06,209.25 491.33,209.25 491.33,207.37 489.45,207.37 489.45,204.63 491.33,204.63" fill="#7f989c"/>
<polygon points="495.44,248.05 498.17,248.05 498.17,249.94 500.05,249.94 500.05,252.67 498.17,252.67 498.17,254.55 495.44,254.55 495.44,252.67 493.55,252.67 493.55,249.94 495.44,249.94" fill="#7f989c"/>
<polygon points="493.44,243.95 496.17,243.95 496.17,245.83 498.05,245.83 498.05,248.56 496.17,248.56 496.17,250.45 493.44,250.45 493.44,248.56 491.55,248.56 491.55,245.83 493.44,245.83" fill="#7f989c"/>
<polygon points="600.53,251.15 603.26,251.15 603.26,253.03 605.15,253.03 605.15,255.77 603.26,255.77 603.26,257.65 600.53,257.65 600.53,255.77 598.65,255.77 598.65,253.03 600.53,253.03" fill="#7f989c"/>
<polygon points="607.74,207.35 610.47,207.35 610.47,209.23 612.35,209.23 612.35,211.97 610.47,211.97 610.47,213.85 607.74,213.85 607.74,211.97 605.85,211.97 605.85,209.23 607.74,209.23" fill="#7f989c"/>
<polygon points="629.13,208.45 631.87,208.45 631.87,210.33 633.75,210.33 633.75,213.06 631.87,213.06 631.87,214.95 629.13,214.95 629.13,213.06 627.25,213.06 627.25,210.33 629.13,210.33" fill="#7f989c"/>
<polygon points="616.74,220.85 619.47,220.85 619.47,222.73 621.35,222.73 621.35,225.47 619.47,225.47 619.47,227.35 616.74,227.35 616.74,225.47 614.85,225.47 614.85,222.73 616.74,222.73" fill="#7f989c"/>
<polygon points="631.34,221.95 634.07,221.95 634.07,223.83 635.95,223.83 635.95,226.56 634.07,226.56 634.07,228.45 631.34,228.45 631.34,226.56 629.45,226.56 629.45,223.83 631.34,223.83" fill="#7f989c"/>
<polygon points="613.34,239.95 616.07,239.95 616.07,241.83 617.95,241.83 617.95,244.56 616.07,244.56 616.07,246.45 613.34,246.45 613.34,244.56 611.45,244.56 611.45,241.83 613.34,241.83" fill="#7f989c"/>
<polygon points="617.84,244.45 620.57,244.45 620.57,246.33 622.45,246.33 622.45,249.06 620.57,249.06 620.57,250.95 617.84,250.95 617.84,249.06 615.95,249.06 615.95,246.33 617.84,246.33" fill="#7f989c"/>
<polygon points="635.84,248.95 638.57,248.95 638.57,250.83 640.45,250.83 640.45,253.56 638.57,253.56 638.57,255.45 635.84,255.45 635.84,253.56 633.95,253.56 633.95,250.83 635.84,250.83" fill="#7f989c"/>
<polygon points="402.13,279.45 404.87,279.45 404.87,281.33 406.75,281.33 406.75,284.06 404.87,284.06 404.87,285.95 402.13,285.95 402.13,284.06 400.25,284.06 400.25,281.33 402.13,281.33" fill="#7f989c"/>
<polygon points="429.94,272.85 432.67,272.85 432.67,274.74 434.55,274.74 434.55,277.47 432.67,277.47 432.67,279.35 429.94,279.35 429.94,277.47 428.05,277.47 428.05,274.74 429.94,274.74" fill="#7f989c"/>
<polygon points="425.44,273.95 428.17,273.95 428.17,275.83 430.05,275.83 430.05,278.56 428.17,278.56 428.17,280.45 425.44,280.45 425.44,278.56 423.55,278.56 423.55,275.83 425.44,275.83" fill="#7f989c"/>
<polygon points="447.63,268.35 450.37,268.35 450.37,270.24 452.25,270.24 452.25,272.97 450.37,272.97 450.37,274.85 447.63,274.85 447.63,272.97 445.75,272.97 445.75,270.24 447.63,270.24" fill="#7f989c"/>
<polygon points="445.44,266.15 448.17,266.15 448.17,268.03 450.05,268.03 450.05,270.76 448.17,270.76 448.17,272.65 445.44,272.65 445.44,270.76 443.55,270.76 443.55,268.03 445.44,268.03" fill="#7f989c"/>
<polygon points="463.13,253.95 465.87,253.95 465.87,255.83 467.75,255.83 467.75,258.56 465.87,258.56 465.87,260.45 463.13,260.45 463.13,258.56 461.25,258.56 461.25,255.83 463.13,255.83" fill="#7f989c"/>
<polygon points="469.94,253.95 472.67,253.95 472.67,255.83 474.55,255.83 474.55,258.56 472.67,258.56 472.67,260.45 469.94,260.45 469.94,258.56 468.05,258.56 468.05,255.83 469.94,255.83" fill="#7f989c"/>
<polygon points="485.44,253.95 488.17,253.95 488.17,255.83 490.05,255.83 490.05,258.56 488.17,258.56 488.17,260.45 485.44,260.45 485.44,258.56 483.55,258.56 483.55,255.83 485.44,255.83" fill="#7f989c"/>
<polygon points="495.44,282.75 498.17,282.75 498.17,284.63 500.05,284.63 500.05,287.37 498.17,287.37 498.17,289.25 495.44,289.25 495.44,287.37 493.55,287.37 493.55,284.63 495.44,284.63" fill="#7f989c"/>
<polygon points="503.24,283.95 505.97,283.95 505.97,285.83 507.85,285.83 507.85,288.56 505.97,288.56 505.97,290.45 503.24,290.45 503.24,288.56 501.35,288.56 501.35,285.83 503.24,285.83" fill="#7f989c"/>
<polygon points="523.13,291.65 525.87,291.65 525.87,293.53 527.75,293.53 527.75,296.26 525.87,296.26 525.87,298.15 523.13,298.15 523.13,296.26 521.25,296.26 521.25,293.53 523.13,293.53" fill="#7f989c"/>
<polygon points="533.13,291.65 535.87,291.65 535.87,293.53 537.75,293.53 537.75,296.26 535.87,296.26 535.87,298.15 533.13,298.15 533.13,296.26 531.25,296.26 531.25,293.53 533.13,293.53" fill="#7f989c"/>
<polygon points="513.24,265.05 515.97,265.05 515.97,266.94 517.85,266.94 517.85,269.67 515.97,269.67 515.97,271.55 513.24,271.55 513.24,269.67 511.35,269.67 511.35,266.94 513.24,266.94" fill="#7f989c"/>
<polygon points="522.03,271.75 524.76,271.75 524.76,273.63 526.65,273.63 526.65,276.37 524.76,276.37 524.76,278.25 522.03,278.25 522.03,276.37 520.15,276.37 520.15,273.63 522.03,273.63" fill="#7f989c"/>
<polygon points="526.53,275.05 529.26,275.05 529.26,276.94 531.15,276.94 531.15,279.67 529.26,279.67 529.26,281.55 526.53,281.55 526.53,279.67 524.65,279.67 524.65,276.94 526.53,276.94" fill="#7f989c"/>
<polygon points="533.13,273.95 535.87,273.95 535.87,275.83 537.75,275.83 537.75,278.56 535.87,278.56 535.87,280.45 533.13,280.45 533.13,278.56 531.25,278.56 531.25,275.83 533.13,275.83" fill="#7f989c"/>
<polygon points="543.34,276.75 546.07,276.75 546.07,278.63 547.95,278.63 547.95,281.37 546.07,281.37 546.07,283.25 543.34,283.25 543.34,281.37 541.45,281.37 541.45,278.63 543.34,278.63" fill="#7f989c"/>
<polygon points="586.53,272.25 589.26,272.25 589.26,274.13 591.15,274.13 591.15,276.87 589.26,276.87 589.26,278.75 586.53,278.75 586.53,276.87 584.65,276.87 584.65,274.13 586.53,274.13" fill="#7f989c"/>
<polygon points="596.53,276.75 599.26,276.75 599.26,278.63 601.15,278.63 601.15,281.37 599.26,281.37 599.26,283.25 596.53,283.25 596.53,281.37 594.65,281.37 594.65,278.63 596.53,278.63" fill="#7f989c"/>
<polygon points="600.93,278.35 603.66,278.35 603.66,280.24 605.55,280.24 605.55,282.97 603.66,282.97 603.66,284.85 600.93,284.85 600.93,282.97 599.05,282.97 599.05,280.24 600.93,280.24" fill="#7f989c"/>
<polygon points="612.24,274.25 614.97,274.25 614.97,276.13 616.85,276.13 616.85,278.87 614.97,278.87 614.97,280.75 612.24,280.75 612.24,278.87 610.35,278.87 610.35,276.13 612.24,276.13" fill="#7f989c"/>
<polygon points="630.24,278.15 632.97,278.15 632.97,280.03 634.85,280.03 634.85,282.76 632.97,282.76 632.97,284.65 630.24,284.65 630.24,282.76 628.35,282.76 628.35,280.03 630.24,280.03" fill="#7f989c"/>
<polygon points="635.84,276.45 638.57,276.45 638.57,278.33 640.45,278.33 640.45,281.06 638.57,281.06 638.57,282.95 635.84,282.95 635.84,281.06 633.95,281.06 633.95,278.33 635.84,278.33" fill="#7f989c"/>
<polygon points="639.24,280.45 641.97,280.45 641.97,282.33 643.85,282.33 643.85,285.06 641.97,285.06 641.97,286.95 639.24,286.95 639.24,285.06 637.35,285.06 637.35,282.33 639.24,282.33" fill="#7f989c"/>
<polygon points="638.13,282.05 640.87,282.05 640.87,283.94 642.75,283.94 642.75,286.67 640.87,286.67 640.87,288.55 638.13,288.55 638.13,286.67 636.25,286.67 636.25,283.94 638.13,283.94" fill="#7f989c"/>
<polygon points="649.34,279.25 652.07,279.25 652.07,281.13 653.95,281.13 653.95,283.87 652.07,283.87 652.07,285.75 649.34,285.75 649.34,283.87 647.45,283.87 647.45,281.13 649.34,281.13" fill="#7f989c"/>
<polygon points="642.63,273.65 645.37,273.65 645.37,275.53 647.25,275.53 647.25,278.26 645.37,278.26 645.37,280.15 642.63,280.15 642.63,278.26 640.75,278.26 640.75,275.53 642.63,275.53" fill="#7f989c"/>
<polygon points="462.03,249.25 464.76,249.25 464.76,251.13 466.65,251.13 466.65,253.87 464.76,253.87 464.76,255.75 462.03,255.75 462.03,253.87 460.15,253.87 460.15,251.13 462.03,251.13" fill="#7f989c"/>
<polygon points="466.63,253.95 469.37,253.95 469.37,255.83 471.25,255.83 471.25,258.56 469.37,258.56 469.37,260.45 466.63,260.45 466.63,258.56 464.75,258.56 464.75,255.83 466.63,255.83" fill="#7f989c"/>
<polygon points="465.53,257.45 468.26,257.45 468.26,259.33 470.15,259.33 470.15,262.06 468.26,262.06 468.26,263.95 465.53,263.95 465.53,262.06 463.65,262.06 463.65,259.33 465.53,259.33" fill="#7f989c"/>
<polygon points="487.74,252.75 490.47,252.75 490.47,254.63 492.35,254.63 492.35,257.37 490.47,257.37 490.47,259.25 487.74,259.25 487.74,257.37 485.85,257.37 485.85,254.63 487.74,254.63" fill="#7f989c"/>
<polygon points="494.74,251.65 497.47,251.65 497.47,253.53 499.35,253.53 499.35,256.26 497.47,256.26 497.47,258.15 494.74,258.15 494.74,256.26 492.85,256.26 492.85,253.53 494.74,253.53" fill="#7f989c"/>
<polygon points="446.83,267.95 449.56,267.95 449.56,269.83 451.45,269.83 451.45,272.56 449.56,272.56 449.56,274.45 446.83,274.45 446.83,272.56 444.95,272.56 444.95,269.83 446.83,269.83" fill="#7f989c"/>
<polygon points="513.43,265.65 516.16,265.65 516.16,267.53 518.05,267.53 518.05,270.26 516.16,270.26 516.16,272.15 513.43,272.15 513.43,270.26 511.55,270.26 511.55,267.53 513.43,267.53" fill="#7f989c"/>
<polygon points="620.73,255.52 623.46,255.52 623.46,257.41 625.34,257.41 625.34,260.14 623.46,260.14 623.46,262.02 620.73,262.02 620.73,260.14 618.84,260.14 618.84,257.41 620.73,257.41" fill="#7f989c"/>
<polygon points="421.2,174.7 424.43,177.05 423.2,180.85 419.2,180.85 417.97,177.05" fill="#bcd400"/>
<polygon points="424.8,171.6 428.03,173.95 426.8,177.75 422.8,177.75 421.57,173.95" fill="#bcd400"/>
<polygon points="428.9,173.7 432.13,176.05 430.9,179.85 426.9,179.85 425.67,176.05" fill="#bcd400"/>
<polygon points="419.5,176.1 422.73,178.45 421.5,182.25 417.5,182.25 416.27,178.45" fill="#bcd400"/>
<polygon points="416.5,184 419.73,186.35 418.5,190.15 414.5,190.15 413.27,186.35" fill="#bcd400"/>
<polygon points="417.6,188.1 420.83,190.45 419.6,194.25 415.6,194.25 414.37,190.45" fill="#bcd400"/>
<polygon points="415,192.2 418.23,194.55 417,198.35 413,198.35 411.77,194.55" fill="#bcd400"/>
<polygon points="418,186.1 421.23,188.45 420,192.25 416,192.25 414.77,188.45" fill="#bcd400"/>
<polygon points="522,171.1 525.23,173.45 524,177.25 520,177.25 518.77,173.45" fill="#bcd400"/>
<polygon points="528.8,174.7 532.03,177.05 530.8,180.85 526.8,180.85 525.57,177.05" fill="#bcd400"/>
<polygon points="534,175.7 537.23,178.05 536,181.85 532,181.85 530.77,178.05" fill="#bcd400"/>
<polygon points="531.9,178.8 535.13,181.15 533.9,184.95 529.9,184.95 528.67,181.15" fill="#bcd400"/>
<polygon points="526,173.1 529.23,175.45 528,179.25 524,179.25 522.77,175.45" fill="#bcd400"/>
<polygon points="538,174.7 541.23,177.05 540,180.85 536,180.85 534.77,177.05" fill="#bcd400"/>
<polygon points="540,178.8 543.23,181.15 542,184.95 538,184.95 536.77,181.15" fill="#bcd400"/>
<polygon points="599.8,195.3 603.03,197.65 601.8,201.45 597.8,201.45 596.57,197.65" fill="#bcd400"/>
<polygon points="605,194.3 608.23,196.65 607,200.45 603,200.45 601.77,196.65" fill="#bcd400"/>
<polygon points="596,196.3 599.23,198.65 598,202.45 594,202.45 592.77,198.65" fill="#bcd400"/>
<polygon points="609.1,194.5 612.33,196.85 611.1,200.65 607.1,200.65 605.87,196.85" fill="#bcd400"/>
<polygon points="628.2,194 631.43,196.35 630.2,200.15 626.2,200.15 624.97,196.35" fill="#bcd400"/>
<polygon points="635,194 638.23,196.35 637,200.15 633,200.15 631.77,196.35" fill="#bcd400"/>
<polygon points="639.5,196.8 642.73,199.15 641.5,202.95 637.5,202.95 636.27,199.15" fill="#bcd400"/>
<polygon points="647.3,199.1 650.53,201.45 649.3,205.25 645.3,205.25 644.07,201.45" fill="#bcd400"/>
<polygon points="655.2,202.4 658.43,204.75 657.2,208.55 653.2,208.55 651.97,204.75" fill="#bcd400"/>
<polygon points="633.8,202.4 637.03,204.75 635.8,208.55 631.8,208.55 630.57,204.75" fill="#bcd400"/>
<polygon points="651,200.1 654.23,202.45 653,206.25 649,206.25 647.77,202.45" fill="#bcd400"/>
<polygon points="410,225.1 413.23,227.45 412,231.25 408,231.25 406.77,227.45" fill="#bcd400"/>
<polygon points="406,228.1 409.23,230.45 408,234.25 404,234.25 402.77,230.45" fill="#bcd400"/>
<polygon points="412,229.1 415.23,231.45 414,235.25 410,235.25 408.77,231.45" fill="#bcd400"/>
<polygon points="405,233.1 408.23,235.45 407,239.25 403,239.25 401.77,235.45" fill="#bcd400"/>
<polygon points="410,235.1 413.23,237.45 412,241.25 408,241.25 406.77,237.45" fill="#bcd400"/>
<polygon points="408,239.1 411.23,241.45 410,245.25 406,245.25 404.77,241.45" fill="#bcd400"/>
<polygon points="414,238.1 417.23,240.45 416,244.25 412,244.25 410.77,240.45" fill="#bcd400"/>
<polygon points="404,242.1 407.23,244.45 406,248.25 402,248.25 400.77,244.45" fill="#bcd400"/>
<polygon points="410,243.1 413.23,245.45 412,249.25 408,249.25 406.77,245.45" fill="#bcd400"/>
<polygon points="415,244.1 418.23,246.45 417,250.25 413,250.25 411.77,246.45" fill="#bcd400"/>
<polygon points="412,247.1 415.23,249.45 414,253.25 410,253.25 408.77,249.45" fill="#bcd400"/>
<polygon points="407,246.1 410.23,248.45 409,252.25 405,252.25 403.77,248.45" fill="#bcd400"/>
<polygon points="549,215.1 552.23,217.45 551,221.25 547,221.25 545.77,217.45" fill="#bcd400"/>
<polygon points="553,216.1 556.23,218.45 555,222.25 551,222.25 549.77,218.45" fill="#bcd400"/>
<polygon points="557,216.6 560.23,218.95 559,222.75 555,222.75 553.77,218.95" fill="#bcd400"/>
<polygon points="561,217.1 564.23,219.45 563,223.25 559,223.25 557.77,219.45" fill="#bcd400"/>
<polygon points="563,219.1 566.23,221.45 565,225.25 561,225.25 559.77,221.45" fill="#bcd400"/>
<polygon points="550,226.1 553.23,228.45 552,232.25 548,232.25 546.77,228.45" fill="#bcd400"/>
<polygon points="549,230.1 552.23,232.45 551,236.25 547,236.25 545.77,232.45" fill="#bcd400"/>
<polygon points="548,234.1 551.23,236.45 550,240.25 546,240.25 544.77,236.45" fill="#bcd400"/>
<polygon points="546,237.1 549.23,239.45 548,243.25 544,243.25 542.77,239.45" fill="#bcd400"/>
<polygon points="541,239.1 544.23,241.45 543,245.25 539,245.25 537.77,241.45" fill="#bcd400"/>
<polygon points="544,241.1 547.23,243.45 546,247.25 542,247.25 540.77,243.45" fill="#bcd400"/>
<polygon points="549,242.1 552.23,244.45 551,248.25 547,248.25 545.77,244.45" fill="#bcd400"/>
<polygon points="552,240.1 555.23,242.45 554,246.25 550,246.25 548.77,242.45" fill="#bcd400"/>
<polygon points="550,237.1 553.23,239.45 552,243.25 548,243.25 546.77,239.45" fill="#bcd400"/>
<polygon points="655.2,203.2 658.43,205.55 657.2,209.35 653.2,209.35 651.97,205.55" fill="#bcd400"/>
<polygon points="461,269.6 464.23,271.95 463,275.75 459,275.75 457.77,271.95" fill="#bcd400"/>
<polygon points="465,269.1 468.23,271.45 467,275.25 463,275.25 461.77,271.45" fill="#bcd400"/>
<polygon points="467,271.1 470.23,273.45 469,277.25 465,277.25 463.77,273.45" fill="#bcd400"/>
<polygon points="469.1,268.7 472.33,271.05 471.1,274.85 467.1,274.85 465.87,271.05" fill="#bcd400"/>
<polygon points="491.8,270.9 495.03,273.25 493.8,277.05 489.8,277.05 488.57,273.25" fill="#bcd400"/>
<polygon points="495.7,269.3 498.93,271.65 497.7,275.45 493.7,275.45 492.47,271.65" fill="#bcd400"/>
<polygon points="500.2,268.2 503.43,270.55 502.2,274.35 498.2,274.35 496.97,270.55" fill="#bcd400"/>
<polygon points="504,266.5 507.23,268.85 506,272.65 502,272.65 500.77,268.85" fill="#bcd400"/>
<polygon points="558,281.1 561.23,283.45 560,287.25 556,287.25 554.77,283.45" fill="#bcd400"/>
<polygon points="561,283.1 564.23,285.45 563,289.25 559,289.25 557.77,285.45" fill="#bcd400"/>
<polygon points="562,286.1 565.23,288.45 564,292.25 560,292.25 558.77,288.45" fill="#bcd400"/>
<polygon points="563,289.1 566.23,291.45 565,295.25 561,295.25 559.77,291.45" fill="#bcd400"/>
<polygon points="565,292.1 568.23,294.45 567,298.25 563,298.25 561.77,294.45" fill="#bcd400"/>
<polygon points="560,288.1 563.23,290.45 562,294.25 558,294.25 556.77,290.45" fill="#bcd400"/>
<polygon points="659.9,291.4 663.13,293.75 661.9,297.55 657.9,297.55 656.67,293.75" fill="#bcd400"/>
<polygon points="664.2,290.3 667.43,292.65 666.2,296.45 662.2,296.45 660.97,292.65" fill="#bcd400"/>
<polygon points="668.7,289.7 671.93,292.05 670.7,295.85 666.7,295.85 665.47,292.05" fill="#bcd400"/>
<polygon points="673.2,288.6 676.43,290.95 675.2,294.75 671.2,294.75 669.97,290.95" fill="#bcd400"/>
<polygon points="677.1,288 680.33,290.35 679.1,294.15 675.1,294.15 673.87,290.35" fill="#bcd400"/>
<polygon points="464.5,269.5 467.73,271.85 466.5,275.65 462.5,275.65 461.27,271.85" fill="#bcd400"/>
<polygon points="496.1,268.3 499.33,270.65 498.1,274.45 494.1,274.45 492.87,270.65" fill="#bcd400"/>
<polygon points="503.1,266 506.33,268.35 505.1,272.15 501.1,272.15 499.87,268.35" fill="#bcd400"/>
<polygon points="401,184.55 403.9,186.22 403.9,189.58 401,191.25 398.1,189.58 398.1,186.22" fill="#f03c10"/>
<polygon points="405,184.15 407.9,185.82 407.9,189.18 405,190.85 402.1,189.18 402.1,185.82" fill="#f03c10"/>
<polygon points="409,184.65 411.9,186.32 411.9,189.68 409,191.35 406.1,189.68 406.1,186.32" fill="#f03c10"/>
<polygon points="413,185.15 415.9,186.82 415.9,190.18 413,191.85 410.1,190.18 410.1,186.82" fill="#f03c10"/>
<polygon points="421.7,185.55 424.6,187.22 424.6,190.58 421.7,192.25 418.8,190.58 418.8,187.22" fill="#f03c10"/>
<polygon points="423,182.65 425.9,184.32 425.9,187.68 423,189.35 420.1,187.68 420.1,184.32" fill="#f03c10"/>
<polygon points="449.5,181.95 452.4,183.62 452.4,186.98 449.5,188.65 446.6,186.98 446.6,183.62" fill="#f03c10"/>
<polygon points="451.6,180.45 454.5,182.12 454.5,185.48 451.6,187.15 448.7,185.48 448.7,182.12" fill="#f03c10"/>
<polygon points="439.2,187.15 442.1,188.82 442.1,192.18 439.2,193.85 436.3,192.18 436.3,188.82" fill="#f03c10"/>
<polygon points="448,184.65 450.9,186.32 450.9,189.68 448,191.35 445.1,189.68 445.1,186.32" fill="#f03c10"/>
<polygon points="464.9,196.35 467.8,198.02 467.8,201.38 464.9,203.05 462,201.38 462,198.02" fill="#f03c10"/>
<polygon points="533.9,183.05 536.8,184.72 536.8,188.08 533.9,189.75 531,188.08 531,184.72" fill="#f03c10"/>
<polygon points="531.9,183.55 534.8,185.22 534.8,188.58 531.9,190.25 529,188.58 529,185.22" fill="#f03c10"/>
<polygon points="493.7,179.95 496.6,181.62 496.6,184.98 493.7,186.65 490.8,184.98 490.8,181.62" fill="#f03c10"/>
<polygon points="498.9,180.45 501.8,182.12 501.8,185.48 498.9,187.15 496,185.48 496,182.12" fill="#f03c10"/>
<polygon points="505.6,183.05 508.5,184.72 508.5,188.08 505.6,189.75 502.7,188.08 502.7,184.72" fill="#f03c10"/>
<polygon points="484.5,194.85 487.4,196.52 487.4,199.88 484.5,201.55 481.6,199.88 481.6,196.52" fill="#f03c10"/>
<polygon points="496.8,199.95 499.7,201.62 499.7,204.98 496.8,206.65 493.9,204.98 493.9,201.62" fill="#f03c10"/>
<polygon points="540,184.55 542.9,186.22 542.9,189.58 540,191.25 537.1,189.58 537.1,186.22" fill="#f03c10"/>
<polygon points="545.2,181.45 548.1,183.12 548.1,186.48 545.2,188.15 542.3,186.48 542.3,183.12" fill="#f03c10"/>
<polygon points="548.3,184.55 551.2,186.22 551.2,189.58 548.3,191.25 545.4,189.58 545.4,186.22" fill="#f03c10"/>
<polygon points="553.4,185.55 556.3,187.22 556.3,190.58 553.4,192.25 550.5,190.58 550.5,187.22" fill="#f03c10"/>
<polygon points="558.6,185.05 561.5,186.72 561.5,190.08 558.6,191.75 555.7,190.08 555.7,186.72" fill="#f03c10"/>
<polygon points="561.7,184.55 564.6,186.22 564.6,189.58 561.7,191.25 558.8,189.58 558.8,186.22" fill="#f03c10"/>
<polygon points="567.9,185.55 570.8,187.22 570.8,190.58 567.9,192.25 565,190.58 565,187.22" fill="#f03c10"/>
<polygon points="572,187.65 574.9,189.32 574.9,192.68 572,194.35 569.1,192.68 569.1,189.32" fill="#f03c10"/>
<polygon points="577.1,185.55 580,187.22 580,190.58 577.1,192.25 574.2,190.58 574.2,187.22" fill="#f03c10"/>
<polygon points="579.2,189.65 582.1,191.32 582.1,194.68 579.2,196.35 576.3,194.68 576.3,191.32" fill="#f03c10"/>
<polygon points="583.3,192.75 586.2,194.42 586.2,197.78 583.3,199.45 580.4,197.78 580.4,194.42" fill="#f03c10"/>
<polygon points="586.4,196.95 589.3,198.62 589.3,201.98 586.4,203.65 583.5,201.98 583.5,198.62" fill="#f03c10"/>
<polygon points="589.5,198.95 592.4,200.62 592.4,203.98 589.5,205.65 586.6,203.98 586.6,200.62" fill="#f03c10"/>
<polygon points="591.6,192.75 594.5,194.42 594.5,197.78 591.6,199.45 588.7,197.78 588.7,194.42" fill="#f03c10"/>
<polygon points="641.7,178.35 644.6,180.02 644.6,183.38 641.7,185.05 638.8,183.38 638.8,180.02" fill="#f03c10"/>
<polygon points="645,179.45 647.9,181.12 647.9,184.48 645,186.15 642.1,184.48 642.1,181.12" fill="#f03c10"/>
<polygon points="638.3,181.75 641.2,183.42 641.2,186.78 638.3,188.45 635.4,186.78 635.4,183.42" fill="#f03c10"/>
<polygon points="635,187.35 637.9,189.02 637.9,192.38 635,194.05 632.1,192.38 632.1,189.02" fill="#f03c10"/>
<polygon points="630.5,191.85 633.4,193.52 633.4,196.88 630.5,198.55 627.6,196.88 627.6,193.52" fill="#f03c10"/>
<polygon points="629.3,195.25 632.2,196.92 632.2,200.28 629.3,201.95 626.4,200.28 626.4,196.92" fill="#f03c10"/>
<polygon points="651.8,171.65 654.7,173.32 654.7,176.68 651.8,178.35 648.9,176.68 648.9,173.32" fill="#f03c10"/>
<polygon points="658.6,173.85 661.5,175.52 661.5,178.88 658.6,180.55 655.7,178.88 655.7,175.52" fill="#f03c10"/>
<polygon points="665.3,172.15 668.2,173.82 668.2,177.18 665.3,178.85 662.4,177.18 662.4,173.82" fill="#f03c10"/>
<polygon points="669.8,173.35 672.7,175.02 672.7,178.38 669.8,180.05 666.9,178.38 666.9,175.02" fill="#f03c10"/>
<polygon points="674.3,169.35 677.2,171.02 677.2,174.38 674.3,176.05 671.4,174.38 671.4,171.02" fill="#f03c10"/>
<polygon points="677.7,171.65 680.6,173.32 680.6,176.68 677.7,178.35 674.8,176.68 674.8,173.32" fill="#f03c10"/>
<polygon points="679.9,185.15 682.8,186.82 682.8,190.18 679.9,191.85 677,190.18 677,186.82" fill="#f03c10"/>
<polygon points="660.8,188.45 663.7,190.12 663.7,193.48 660.8,195.15 657.9,193.48 657.9,190.12" fill="#f03c10"/>
<polygon points="666.4,187.35 669.3,189.02 669.3,192.38 666.4,194.05 663.5,192.38 663.5,189.02" fill="#f03c10"/>
<polygon points="670.9,187.35 673.8,189.02 673.8,192.38 670.9,194.05 668,192.38 668,189.02" fill="#f03c10"/>
<polygon points="674.3,188.45 677.2,190.12 677.2,193.48 674.3,195.15 671.4,193.48 671.4,190.12" fill="#f03c10"/>
<polygon points="655.2,192.95 658.1,194.62 658.1,197.98 655.2,199.65 652.3,197.98 652.3,194.62" fill="#f03c10"/>
<polygon points="659.7,195.25 662.6,196.92 662.6,200.28 659.7,201.95 656.8,200.28 656.8,196.92" fill="#f03c10"/>
<polygon points="652.9,198.65 655.8,200.32 655.8,203.68 652.9,205.35 650,203.68 650,200.32" fill="#f03c10"/>
<polygon points="630.5,203.05 633.4,204.72 633.4,208.08 630.5,209.75 627.6,208.08 627.6,204.72" fill="#f03c10"/>
<polygon points="496.8,206.75 499.7,208.42 499.7,211.78 496.8,213.45 493.9,211.78 493.9,208.42" fill="#f03c10"/>
<polygon points="472.1,225.35 475,227.02 475,230.38 472.1,232.05 469.2,230.38 469.2,227.02" fill="#f03c10"/>
<polygon points="485.5,240.75 488.4,242.42 488.4,245.78 485.5,247.45 482.6,245.78 482.6,242.42" fill="#f03c10"/>
<polygon points="472.1,242.85 475,244.52 475,247.88 472.1,249.55 469.2,247.88 469.2,244.52" fill="#f03c10"/>
<polygon points="607,222.25 609.9,223.92 609.9,227.28 607,228.95 604.1,227.28 604.1,223.92" fill="#f03c10"/>
<polygon points="590,201.15 592.9,202.82 592.9,206.18 590,207.85 587.1,206.18 587.1,202.82" fill="#f03c10"/>
<polygon points="595,201.15 597.9,202.82 597.9,206.18 595,207.85 592.1,206.18 592.1,202.82" fill="#f03c10"/>
<polygon points="609.1,203.85 612,205.52 612,208.88 609.1,210.55 606.2,208.88 606.2,205.52" fill="#f03c10"/>
<polygon points="632.7,228.65 635.6,230.32 635.6,233.68 632.7,235.35 629.8,233.68 629.8,230.32" fill="#f03c10"/>
<polygon points="609.1,222.95 612,224.62 612,227.98 609.1,229.65 606.2,227.98 606.2,224.62" fill="#f03c10"/>
<polygon points="615.9,221.85 618.8,223.52 618.8,226.88 615.9,228.55 613,226.88 613,223.52" fill="#f03c10"/>
<polygon points="626,251.05 628.9,252.72 628.9,256.07 626,257.75 623.1,256.07 623.1,252.72" fill="#f03c10"/>
<polygon points="648.4,202.75 651.3,204.42 651.3,207.78 648.4,209.45 645.5,207.78 645.5,204.42" fill="#f03c10"/>
<polygon points="641.7,206.15 644.6,207.82 644.6,211.18 641.7,212.85 638.8,211.18 638.8,207.82" fill="#f03c10"/>
<polygon points="456.8,264.35 459.7,266.02 459.7,269.38 456.8,271.05 453.9,269.38 453.9,266.02" fill="#f03c10"/>
<polygon points="451.2,270.45 454.1,272.12 454.1,275.48 451.2,277.15 448.3,275.48 448.3,272.12" fill="#f03c10"/>
<polygon points="442.3,280.45 445.2,282.12 445.2,285.48 442.3,287.15 439.4,285.48 439.4,282.12" fill="#f03c10"/>
<polygon points="446,280.15 448.9,281.82 448.9,285.18 446,286.85 443.1,285.18 443.1,281.82" fill="#f03c10"/>
<polygon points="412.4,284.95 415.3,286.62 415.3,289.98 412.4,291.65 409.5,289.98 409.5,286.62" fill="#f03c10"/>
<polygon points="419.1,287.15 422,288.82 422,292.18 419.1,293.85 416.2,292.18 416.2,288.82" fill="#f03c10"/>
<polygon points="450.1,295.95 453,297.62 453,300.98 450.1,302.65 447.2,300.98 447.2,297.62" fill="#f03c10"/>
<polygon points="471.3,258.35 474.2,260.02 474.2,263.38 471.3,265.05 468.4,263.38 468.4,260.02" fill="#f03c10"/>
<polygon points="489.1,257.15 492,258.82 492,262.18 489.1,263.85 486.2,262.18 486.2,258.82" fill="#f03c10"/>
<polygon points="494.1,258.35 497,260.02 497,263.38 494.1,265.05 491.2,263.38 491.2,260.02" fill="#f03c10"/>
<polygon points="479.1,268.25 482,269.93 482,273.28 479.1,274.95 476.2,273.28 476.2,269.93" fill="#f03c10"/>
<polygon points="475.8,272.75 478.7,274.43 478.7,277.78 475.8,279.45 472.9,277.78 472.9,274.43" fill="#f03c10"/>
<polygon points="481.3,272.75 484.2,274.43 484.2,277.78 481.3,279.45 478.4,277.78 478.4,274.43" fill="#f03c10"/>
<polygon points="485.7,276.05 488.6,277.72 488.6,281.07 485.7,282.75 482.8,281.07 482.8,277.72" fill="#f03c10"/>
<polygon points="489.1,280.45 492,282.12 492,285.48 489.1,287.15 486.2,285.48 486.2,282.12" fill="#f03c10"/>
<polygon points="491.3,283.85 494.2,285.52 494.2,288.88 491.3,290.55 488.4,288.88 488.4,285.52" fill="#f03c10"/>
<polygon points="486.8,289.35 489.7,291.02 489.7,294.38 486.8,296.05 483.9,294.38 483.9,291.02" fill="#f03c10"/>
<polygon points="488,294.85 490.9,296.52 490.9,299.88 488,301.55 485.1,299.88 485.1,296.52" fill="#f03c10"/>
<polygon points="482,280.65 484.9,282.32 484.9,285.68 482,287.35 479.1,285.68 479.1,282.32" fill="#f03c10"/>
<polygon points="480,286.65 482.9,288.32 482.9,291.68 480,293.35 477.1,291.68 477.1,288.32" fill="#f03c10"/>
<polygon points="492.4,283.85 495.3,285.52 495.3,288.88 492.4,290.55 489.5,288.88 489.5,285.52" fill="#f03c10"/>
<polygon points="499,288.25 501.9,289.93 501.9,293.28 499,294.95 496.1,293.28 496.1,289.93" fill="#f03c10"/>
<polygon points="501.3,294.85 504.2,296.52 504.2,299.88 501.3,301.55 498.4,299.88 498.4,296.52" fill="#f03c10"/>
<polygon points="517.9,297.15 520.8,298.82 520.8,302.18 517.9,303.85 515,302.18 515,298.82" fill="#f03c10"/>
<polygon points="512.3,257.15 515.2,258.82 515.2,262.18 512.3,263.85 509.4,262.18 509.4,258.82" fill="#f03c10"/>
<polygon points="522.3,261.65 525.2,263.32 525.2,266.68 522.3,268.35 519.4,266.68 519.4,263.32" fill="#f03c10"/>
<polygon points="532.3,269.35 535.2,271.02 535.2,274.38 532.3,276.05 529.4,274.38 529.4,271.02" fill="#f03c10"/>
<polygon points="543.5,270.45 546.4,272.12 546.4,275.48 543.5,277.15 540.6,275.48 540.6,272.12" fill="#f03c10"/>
<polygon points="546.9,271.05 549.8,272.72 549.8,276.07 546.9,277.75 544,276.07 544,272.72" fill="#f03c10"/>
<polygon points="550.2,274.95 553.1,276.62 553.1,279.98 550.2,281.65 547.3,279.98 547.3,276.62" fill="#f03c10"/>
<polygon points="554,295.45 556.9,297.12 556.9,300.48 554,302.15 551.1,300.48 551.1,297.12" fill="#f03c10"/>
<polygon points="552.4,295.95 555.3,297.62 555.3,300.98 552.4,302.65 549.5,300.98 549.5,297.62" fill="#f03c10"/>
<polygon points="555.7,296.55 558.6,298.22 558.6,301.57 555.7,303.25 552.8,301.57 552.8,298.22" fill="#f03c10"/>
<polygon points="567.4,297.15 570.3,298.82 570.3,302.18 567.4,303.85 564.5,302.18 564.5,298.82" fill="#f03c10"/>
<polygon points="571.3,292.15 574.2,293.82 574.2,297.18 571.3,298.85 568.4,297.18 568.4,293.82" fill="#f03c10"/>
<polygon points="576.8,293.25 579.7,294.93 579.7,298.28 576.8,299.95 573.9,298.28 573.9,294.93" fill="#f03c10"/>
<polygon points="584.6,293.25 587.5,294.93 587.5,298.28 584.6,299.95 581.7,298.28 581.7,294.93" fill="#f03c10"/>
<polygon points="587.9,294.85 590.8,296.52 590.8,299.88 587.9,301.55 585,299.88 585,296.52" fill="#f03c10"/>
<polygon points="593.4,293.25 596.3,294.93 596.3,298.28 593.4,299.95 590.5,298.28 590.5,294.93" fill="#f03c10"/>
<polygon points="597.9,293.25 600.8,294.93 600.8,298.28 597.9,299.95 595,298.28 595,294.93" fill="#f03c10"/>
<polygon points="603.4,293.75 606.3,295.43 606.3,298.78 603.4,300.45 600.5,298.78 600.5,295.43" fill="#f03c10"/>
<polygon points="606.7,293.25 609.6,294.93 609.6,298.28 606.7,299.95 603.8,298.28 603.8,294.93" fill="#f03c10"/>
<polygon points="584.6,278.25 587.5,279.93 587.5,283.28 584.6,284.95 581.7,283.28 581.7,279.93" fill="#f03c10"/>
<polygon points="590.1,279.35 593,281.02 593,284.38 590.1,286.05 587.2,284.38 587.2,281.02" fill="#f03c10"/>
<polygon points="594.5,280.45 597.4,282.12 597.4,285.48 594.5,287.15 591.6,285.48 591.6,282.12" fill="#f03c10"/>
<polygon points="592.3,282.65 595.2,284.32 595.2,287.68 592.3,289.35 589.4,287.68 589.4,284.32" fill="#f03c10"/>
<polygon points="586.8,280.45 589.7,282.12 589.7,285.48 586.8,287.15 583.9,285.48 583.9,282.12" fill="#f03c10"/>
<polygon points="629.3,256.75 632.2,258.43 632.2,261.78 629.3,263.45 626.4,261.78 626.4,258.43" fill="#f03c10"/>
<polygon points="630.5,281.45 633.4,283.12 633.4,286.48 630.5,288.15 627.6,286.48 627.6,283.12" fill="#f03c10"/>
<polygon points="636.1,281.45 639,283.12 639,286.48 636.1,288.15 633.2,286.48 633.2,283.12" fill="#f03c10"/>
<polygon points="640.6,283.15 643.5,284.82 643.5,288.18 640.6,289.85 637.7,288.18 637.7,284.82" fill="#f03c10"/>
<polygon points="642.8,280.35 645.7,282.02 645.7,285.38 642.8,287.05 639.9,285.38 639.9,282.02" fill="#f03c10"/>
<polygon points="609.1,292.05 612,293.72 612,297.07 609.1,298.75 606.2,297.07 606.2,293.72" fill="#f03c10"/>
<polygon points="615.9,295.45 618.8,297.12 618.8,300.48 615.9,302.15 613,300.48 613,297.12" fill="#f03c10"/>
<polygon points="620.4,295.45 623.3,297.12 623.3,300.48 620.4,302.15 617.5,300.48 617.5,297.12" fill="#f03c10"/>
<polygon points="626,294.95 628.9,296.62 628.9,299.98 626,301.65 623.1,299.98 623.1,296.62" fill="#f03c10"/>
<polygon points="472.7,243.35 475.6,245.02 475.6,248.38 472.7,250.05 469.8,248.38 469.8,245.02" fill="#f03c10"/>
<polygon points="485.6,240.95 488.5,242.62 488.5,245.98 485.6,247.65 482.7,245.98 482.7,242.62" fill="#f03c10"/>
<polygon points="471.5,258.55 474.4,260.22 474.4,263.57 471.5,265.25 468.6,263.57 468.6,260.22" fill="#f03c10"/>
<polygon points="489.1,257.35 492,259.02 492,262.38 489.1,264.05 486.2,262.38 486.2,259.02" fill="#f03c10"/>
<polygon points="493.7,258.55 496.6,260.22 496.6,263.57 493.7,265.25 490.8,263.57 490.8,260.22" fill="#f03c10"/>
<polygon points="457.5,264.35 460.4,266.02 460.4,269.38 457.5,271.05 454.6,269.38 454.6,266.02" fill="#f03c10"/>
<polygon points="512.4,257.35 515.3,259.02 515.3,262.38 512.4,264.05 509.5,262.38 509.5,259.02" fill="#f03c10"/>
<polygon points="478.6,267.85 481.5,269.52 481.5,272.88 478.6,274.55 475.7,272.88 475.7,269.52" fill="#f03c10"/>
<polygon points="472,266.65 474.9,268.32 474.9,271.68 472,273.35 469.1,271.68 469.1,268.32" fill="#f03c10"/>
<polygon points="476,268.65 478.9,270.32 478.9,273.68 476,275.35 473.1,273.68 473.1,270.32" fill="#f03c10"/>
<polygon points="483,269.65 485.9,271.32 485.9,274.68 483,276.35 480.1,274.68 480.1,271.32" fill="#f03c10"/>
<polygon points="478,275.65 480.9,277.32 480.9,280.68 478,282.35 475.1,280.68 475.1,277.32" fill="#f03c10"/>
<polygon points="484,278.65 486.9,280.32 486.9,283.68 484,285.35 481.1,283.68 481.1,280.32" fill="#f03c10"/>
<polygon points="488,275.65 490.9,277.32 490.9,280.68 488,282.35 485.1,280.68 485.1,277.32" fill="#f03c10"/>
<polygon points="474,280.65 476.9,282.32 476.9,285.68 474,287.35 471.1,285.68 471.1,282.32" fill="#f03c10"/>
<polygon points="479,284.65 481.9,286.32 481.9,289.68 479,291.35 476.1,289.68 476.1,286.32" fill="#f03c10"/>
<polygon points="485,286.65 487.9,288.32 487.9,291.68 485,293.35 482.1,291.68 482.1,288.32" fill="#f03c10"/>
<polygon points="477,291.65 479.9,293.32 479.9,296.68 477,298.35 474.1,296.68 474.1,293.32" fill="#f03c10"/>
<polygon points="483,293.65 485.9,295.32 485.9,298.68 483,300.35 480.1,298.68 480.1,295.32" fill="#f03c10"/>
<polygon points="489,290.65 491.9,292.32 491.9,295.68 489,297.35 486.1,295.68 486.1,292.32" fill="#f03c10"/>
<polygon points="470,286.65 472.9,288.32 472.9,291.68 470,293.35 467.1,291.68 467.1,288.32" fill="#f03c10"/>
<polygon points="444.85,196.1 446.4,197.26 447.95,196.1 449.5,197.65 448.34,199.2 449.5,200.75 447.95,202.3 446.4,201.14 444.85,202.3 443.3,200.75 444.46,199.2 443.3,197.65" fill="#ff8a00"/>
<polygon points="452.05,197.2 453.6,198.36 455.15,197.2 456.7,198.75 455.54,200.3 456.7,201.85 455.15,203.4 453.6,202.24 452.05,203.4 450.5,201.85 451.66,200.3 450.5,198.75" fill="#ff8a00"/>
<polygon points="455.15,193 456.7,194.16 458.25,193 459.8,194.55 458.64,196.1 459.8,197.65 458.25,199.2 456.7,198.04 455.15,199.2 453.6,197.65 454.76,196.1 453.6,194.55" fill="#ff8a00"/>
<polygon points="456.45,202.3 458,203.46 459.55,202.3 461.1,203.85 459.94,205.4 461.1,206.95 459.55,208.5 458,207.34 456.45,208.5 454.9,206.95 456.06,205.4 454.9,203.85" fill="#ff8a00"/>
<polygon points="463.45,192.9 465,194.06 466.55,192.9 468.1,194.45 466.94,196 468.1,197.55 466.55,199.1 465,197.94 463.45,199.1 461.9,197.55 463.06,196 461.9,194.45" fill="#ff8a00"/>
<polygon points="470.55,187.9 472.1,189.06 473.65,187.9 475.2,189.45 474.04,191 475.2,192.55 473.65,194.1 472.1,192.94 470.55,194.1 469,192.55 470.16,191 469,189.45" fill="#ff8a00"/>
<polygon points="474.65,187.9 476.2,189.06 477.75,187.9 479.3,189.45 478.14,191 479.3,192.55 477.75,194.1 476.2,192.94 474.65,194.1 473.1,192.55 474.26,191 473.1,189.45" fill="#ff8a00"/>
<polygon points="478.85,186.9 480.4,188.06 481.95,186.9 483.5,188.45 482.34,190 483.5,191.55 481.95,193.1 480.4,191.94 478.85,193.1 477.3,191.55 478.46,190 477.3,188.45" fill="#ff8a00"/>
<polygon points="472.65,189.9 474.2,191.06 475.75,189.9 477.3,191.45 476.14,193 477.3,194.55 475.75,196.1 474.2,194.94 472.65,196.1 471.1,194.55 472.26,193 471.1,191.45" fill="#ff8a00"/>
<polygon points="496.35,188.9 497.9,190.06 499.45,188.9 501,190.45 499.84,192 501,193.55 499.45,195.1 497.9,193.94 496.35,195.1 494.8,193.55 495.96,192 494.8,190.45" fill="#ff8a00"/>
<polygon points="498.35,188.9 499.9,190.06 501.45,188.9 503,190.45 501.84,192 503,193.55 501.45,195.1 499.9,193.94 498.35,195.1 496.8,193.55 497.96,192 496.8,190.45" fill="#ff8a00"/>
<polygon points="497.35,195.1 498.9,196.26 500.45,195.1 502,196.65 500.84,198.2 502,199.75 500.45,201.3 498.9,200.14 497.35,201.3 495.8,199.75 496.96,198.2 495.8,196.65" fill="#ff8a00"/>
<polygon points="502.45,196.1 504,197.26 505.55,196.1 507.1,197.65 505.94,199.2 507.1,200.75 505.55,202.3 504,201.14 502.45,202.3 500.9,200.75 502.06,199.2 500.9,197.65" fill="#ff8a00"/>
<polygon points="506.65,196.1 508.2,197.26 509.75,196.1 511.3,197.65 510.14,199.2 511.3,200.75 509.75,202.3 508.2,201.14 506.65,202.3 505.1,200.75 506.26,199.2 505.1,197.65" fill="#ff8a00"/>
<polygon points="455.15,203.9 456.7,205.06 458.25,203.9 459.8,205.45 458.64,207 459.8,208.55 458.25,210.1 456.7,208.94 455.15,210.1 453.6,208.55 454.76,207 453.6,205.45" fill="#ff8a00"/>
<polygon points="453.65,213.2 455.2,214.36 456.75,213.2 458.3,214.75 457.14,216.3 458.3,217.85 456.75,219.4 455.2,218.24 453.65,219.4 452.1,217.85 453.26,216.3 452.1,214.75" fill="#ff8a00"/>
<polygon points="460.25,217.3 461.8,218.46 463.35,217.3 464.9,218.85 463.74,220.4 464.9,221.95 463.35,223.5 461.8,222.34 460.25,223.5 458.7,221.95 459.86,220.4 458.7,218.85" fill="#ff8a00"/>
<polygon points="460.85,220.9 462.4,222.06 463.95,220.9 465.5,222.45 464.34,224 465.5,225.55 463.95,227.1 462.4,225.94 460.85,227.1 459.3,225.55 460.46,224 459.3,222.45" fill="#ff8a00"/>
<polygon points="471.05,209.1 472.6,210.26 474.15,209.1 475.7,210.65 474.54,212.2 475.7,213.75 474.15,215.3 472.6,214.14 471.05,215.3 469.5,213.75 470.66,212.2 469.5,210.65" fill="#ff8a00"/>
<polygon points="471.55,219.4 473.1,220.56 474.65,219.4 476.2,220.95 475.04,222.5 476.2,224.05 474.65,225.6 473.1,224.44 471.55,225.6 470,224.05 471.16,222.5 470,220.95" fill="#ff8a00"/>
<polygon points="476.75,220.4 478.3,221.56 479.85,220.4 481.4,221.95 480.24,223.5 481.4,225.05 479.85,226.6 478.3,225.44 476.75,226.6 475.2,225.05 476.36,223.5 475.2,221.95" fill="#ff8a00"/>
<polygon points="490.15,213.2 491.7,214.36 493.25,213.2 494.8,214.75 493.64,216.3 494.8,217.85 493.25,219.4 491.7,218.24 490.15,219.4 488.6,217.85 489.76,216.3 488.6,214.75" fill="#ff8a00"/>
<polygon points="490.15,220.4 491.7,221.56 493.25,220.4 494.8,221.95 493.64,223.5 494.8,225.05 493.25,226.6 491.7,225.44 490.15,226.6 488.6,225.05 489.76,223.5 488.6,221.95" fill="#ff8a00"/>
<polygon points="499.45,213.2 501,214.36 502.55,213.2 504.1,214.75 502.94,216.3 504.1,217.85 502.55,219.4 501,218.24 499.45,219.4 497.9,217.85 499.06,216.3 497.9,214.75" fill="#ff8a00"/>
<polygon points="499.45,224.6 501,225.76 502.55,224.6 504.1,226.15 502.94,227.7 504.1,229.25 502.55,230.8 501,229.64 499.45,230.8 497.9,229.25 499.06,227.7 497.9,226.15" fill="#ff8a00"/>
<polygon points="487.05,227.6 488.6,228.76 490.15,227.6 491.7,229.15 490.54,230.7 491.7,232.25 490.15,233.8 488.6,232.64 487.05,233.8 485.5,232.25 486.66,230.7 485.5,229.15" fill="#ff8a00"/>
<polygon points="469.55,230.7 471.1,231.86 472.65,230.7 474.2,232.25 473.04,233.8 474.2,235.35 472.65,236.9 471.1,235.74 469.55,236.9 468,235.35 469.16,233.8 468,232.25" fill="#ff8a00"/>
<polygon points="469.55,236.9 471.1,238.06 472.65,236.9 474.2,238.45 473.04,240 474.2,241.55 472.65,243.1 471.1,241.94 469.55,243.1 468,241.55 469.16,240 468,238.45" fill="#ff8a00"/>
<polygon points="482.95,232.8 484.5,233.96 486.05,232.8 487.6,234.35 486.44,235.9 487.6,237.45 486.05,239 484.5,237.84 482.95,239 481.4,237.45 482.56,235.9 481.4,234.35" fill="#ff8a00"/>
<polygon points="488.05,241 489.6,242.16 491.15,241 492.7,242.55 491.54,244.1 492.7,245.65 491.15,247.2 489.6,246.04 488.05,247.2 486.5,245.65 487.66,244.1 486.5,242.55" fill="#ff8a00"/>
<polygon points="502.45,241.5 504,242.66 505.55,241.5 507.1,243.05 505.94,244.6 507.1,246.15 505.55,247.7 504,246.54 502.45,247.7 500.9,246.15 502.06,244.6 500.9,243.05" fill="#ff8a00"/>
<polygon points="471.05,248.2 472.6,249.36 474.15,248.2 475.7,249.75 474.54,251.3 475.7,252.85 474.15,254.4 472.6,253.24 471.05,254.4 469.5,252.85 470.66,251.3 469.5,249.75" fill="#ff8a00"/>
<polygon points="478.85,247.2 480.4,248.36 481.95,247.2 483.5,248.75 482.34,250.3 483.5,251.85 481.95,253.4 480.4,252.24 478.85,253.4 477.3,251.85 478.46,250.3 477.3,248.75" fill="#ff8a00"/>
<polygon points="598.25,217.3 599.8,218.46 601.35,217.3 602.9,218.85 601.74,220.4 602.9,221.95 601.35,223.5 599.8,222.34 598.25,223.5 596.7,221.95 597.86,220.4 596.7,218.85" fill="#ff8a00"/>
<polygon points="602.35,212.2 603.9,213.36 605.45,212.2 607,213.75 605.84,215.3 607,216.85 605.45,218.4 603.9,217.24 602.35,218.4 600.8,216.85 601.96,215.3 600.8,213.75" fill="#ff8a00"/>
<polygon points="604.45,222.5 606,223.66 607.55,222.5 609.1,224.05 607.94,225.6 609.1,227.15 607.55,228.7 606,227.54 604.45,228.7 602.9,227.15 604.06,225.6 602.9,224.05" fill="#ff8a00"/>
<polygon points="598.25,234.9 599.8,236.06 601.35,234.9 602.9,236.45 601.74,238 602.9,239.55 601.35,241.1 599.8,239.94 598.25,241.1 596.7,239.55 597.86,238 596.7,236.45" fill="#ff8a00"/>
<polygon points="604.45,235.9 606,237.06 607.55,235.9 609.1,237.45 607.94,239 609.1,240.55 607.55,242.1 606,240.94 604.45,242.1 602.9,240.55 604.06,239 602.9,237.45" fill="#ff8a00"/>
<polygon points="617.65,213.1 619.2,214.26 620.75,213.1 622.3,214.65 621.14,216.2 622.3,217.75 620.75,219.3 619.2,218.14 617.65,219.3 616.1,217.75 617.26,216.2 616.1,214.65" fill="#ff8a00"/>
<polygon points="623.35,215.4 624.9,216.56 626.45,215.4 628,216.95 626.84,218.5 628,220.05 626.45,221.6 624.9,220.44 623.35,221.6 621.8,220.05 622.96,218.5 621.8,216.95" fill="#ff8a00"/>
<polygon points="628.95,214.3 630.5,215.46 632.05,214.3 633.6,215.85 632.44,217.4 633.6,218.95 632.05,220.5 630.5,219.34 628.95,220.5 627.4,218.95 628.56,217.4 627.4,215.85" fill="#ff8a00"/>
<polygon points="633.45,216.5 635,217.66 636.55,216.5 638.1,218.05 636.94,219.6 638.1,221.15 636.55,222.7 635,221.54 633.45,222.7 631.9,221.15 633.06,219.6 631.9,218.05" fill="#ff8a00"/>
<polygon points="634.55,219.9 636.1,221.06 637.65,219.9 639.2,221.45 638.04,223 639.2,224.55 637.65,226.1 636.1,224.94 634.55,226.1 633,224.55 634.16,223 633,221.45" fill="#ff8a00"/>
<polygon points="608.65,214.3 610.2,215.46 611.75,214.3 613.3,215.85 612.14,217.4 613.3,218.95 611.75,220.5 610.2,219.34 608.65,220.5 607.1,218.95 608.26,217.4 607.1,215.85" fill="#ff8a00"/>
<polygon points="617.65,231.1 619.2,232.26 620.75,231.1 622.3,232.65 621.14,234.2 622.3,235.75 620.75,237.3 619.2,236.14 617.65,237.3 616.1,235.75 617.26,234.2 616.1,232.65" fill="#ff8a00"/>
<polygon points="624.45,234.5 626,235.66 627.55,234.5 629.1,236.05 627.94,237.6 629.1,239.15 627.55,240.7 626,239.54 624.45,240.7 622.9,239.15 624.06,237.6 622.9,236.05" fill="#ff8a00"/>
<polygon points="633.45,234.5 635,235.66 636.55,234.5 638.1,236.05 636.94,237.6 638.1,239.15 636.55,240.7 635,239.54 633.45,240.7 631.9,239.15 633.06,237.6 631.9,236.05" fill="#ff8a00"/>
<polygon points="608.65,240.1 610.2,241.26 611.75,240.1 613.3,241.65 612.14,243.2 613.3,244.75 611.75,246.3 610.2,245.14 608.65,246.3 607.1,244.75 608.26,243.2 607.1,241.65" fill="#ff8a00"/>
<polygon points="621.05,244.6 622.6,245.76 624.15,244.6 625.7,246.15 624.54,247.7 625.7,249.25 624.15,250.8 622.6,249.64 621.05,250.8 619.5,249.25 620.66,247.7 619.5,246.15" fill="#ff8a00"/>
<polygon points="607.55,249.1 609.1,250.26 610.65,249.1 612.2,250.65 611.04,252.2 612.2,253.75 610.65,255.3 609.1,254.14 607.55,255.3 606,253.75 607.16,252.2 606,250.65" fill="#ff8a00"/>
<polygon points="635.65,248 637.2,249.16 638.75,248 640.3,249.55 639.14,251.1 640.3,252.65 638.75,254.2 637.2,253.04 635.65,254.2 634.1,252.65 635.26,251.1 634.1,249.55" fill="#ff8a00"/>
<polygon points="585.25,260.8 586.8,261.96 588.35,260.8 589.9,262.35 588.74,263.9 589.9,265.45 588.35,267 586.8,265.84 585.25,267 583.7,265.45 584.86,263.9 583.7,262.35" fill="#ff8a00"/>
<polygon points="601.85,256.3 603.4,257.46 604.95,256.3 606.5,257.85 605.34,259.4 606.5,260.95 604.95,262.5 603.4,261.34 601.85,262.5 600.3,260.95 601.46,259.4 600.3,257.85" fill="#ff8a00"/>
<polygon points="602.95,274.1 604.5,275.26 606.05,274.1 607.6,275.65 606.44,277.2 607.6,278.75 606.05,280.3 604.5,279.14 602.95,280.3 601.4,278.75 602.56,277.2 601.4,275.65" fill="#ff8a00"/>
<polygon points="607.55,255.3 609.1,256.46 610.65,255.3 612.2,256.85 611.04,258.4 612.2,259.95 610.65,261.5 609.1,260.34 607.55,261.5 606,259.95 607.16,258.4 606,256.85" fill="#ff8a00"/>
<polygon points="617.65,256.4 619.2,257.56 620.75,256.4 622.3,257.95 621.14,259.5 622.3,261.05 620.75,262.6 619.2,261.44 617.65,262.6 616.1,261.05 617.26,259.5 616.1,257.95" fill="#ff8a00"/>
<polygon points="623.35,257.5 624.9,258.66 626.45,257.5 628,259.05 626.84,260.6 628,262.15 626.45,263.7 624.9,262.54 623.35,263.7 621.8,262.15 622.96,260.6 621.8,259.05" fill="#ff8a00"/>
<polygon points="607.55,263.1 609.1,264.26 610.65,263.1 612.2,264.65 611.04,266.2 612.2,267.75 610.65,269.3 609.1,268.14 607.55,269.3 606,267.75 607.16,266.2 606,264.65" fill="#ff8a00"/>
<polygon points="632.25,263.1 633.8,264.26 635.35,263.1 636.9,264.65 635.74,266.2 636.9,267.75 635.35,269.3 633.8,268.14 632.25,269.3 630.7,267.75 631.86,266.2 630.7,264.65" fill="#ff8a00"/>
<polygon points="624.45,275.5 626,276.66 627.55,275.5 629.1,277.05 627.94,278.6 629.1,280.15 627.55,281.7 626,280.54 624.45,281.7 622.9,280.15 624.06,278.6 622.9,277.05" fill="#ff8a00"/>
<polygon points="469.95,235.4 471.5,236.56 473.05,235.4 474.6,236.95 473.44,238.5 474.6,240.05 473.05,241.6 471.5,240.44 469.95,241.6 468.4,240.05 469.56,238.5 468.4,236.95" fill="#ff8a00"/>
<polygon points="471.15,248.3 472.7,249.46 474.25,248.3 475.8,249.85 474.64,251.4 475.8,252.95 474.25,254.5 472.7,253.34 471.15,254.5 469.6,252.95 470.76,251.4 469.6,249.85" fill="#ff8a00"/>
<polygon points="485.15,235.4 486.7,236.56 488.25,235.4 489.8,236.95 488.64,238.5 489.8,240.05 488.25,241.6 486.7,240.44 485.15,241.6 483.6,240.05 484.76,238.5 483.6,236.95" fill="#ff8a00"/>
<polygon points="487.55,241.2 489.1,242.36 490.65,241.2 492.2,242.75 491.04,244.3 492.2,245.85 490.65,247.4 489.1,246.24 487.55,247.4 486,245.85 487.16,244.3 486,242.75" fill="#ff8a00"/>
<polygon points="501.55,241.8 503.1,242.96 504.65,241.8 506.2,243.35 505.04,244.9 506.2,246.45 504.65,248 503.1,246.84 501.55,248 500,246.45 501.16,244.9 500,243.35" fill="#ff8a00"/>
<polygon points="473.45,255.3 475,256.46 476.55,255.3 478.1,256.85 476.94,258.4 478.1,259.95 476.55,261.5 475,260.34 473.45,261.5 471.9,259.95 473.06,258.4 471.9,256.85" fill="#ff8a00"/>
<polygon points="630,269.11 631.55,270.28 633.1,269.11 634.65,270.66 633.49,272.21 634.65,273.76 633.1,275.31 631.55,274.15 630,275.31 628.45,273.76 629.62,272.21 628.45,270.66" fill="#ff8a00"/>
<polygon points="618.29,276.42 619.84,277.58 621.39,276.42 622.94,277.97 621.78,279.52 622.94,281.07 621.39,282.62 619.84,281.46 618.29,282.62 616.74,281.07 617.91,279.52 616.74,277.97" fill="#ff8a00"/>
<polygon points="610.69,273.36 612.24,274.52 613.79,273.36 615.34,274.91 614.18,276.46 615.34,278.01 613.79,279.56 612.24,278.4 610.69,279.56 609.14,278.01 610.31,276.46 609.14,274.91" fill="#ff8a00"/>
<polygon points="603.38,263.88 604.93,265.04 606.48,263.88 608.03,265.43 606.86,266.98 608.03,268.53 606.48,270.08 604.93,268.91 603.38,270.08 601.83,268.53 602.99,266.98 601.83,265.43" fill="#ff8a00"/>
<polygon points="612.84,255.61 614.39,256.78 615.94,255.61 617.49,257.16 616.33,258.71 617.49,260.26 615.94,261.81 614.39,260.65 612.84,261.81 611.29,260.26 612.45,258.71 611.29,257.16" fill="#ff8a00"/>
<polygon points="625.22,257.15 626.77,258.31 628.32,257.15 629.87,258.7 628.71,260.25 629.87,261.8 628.32,263.35 626.77,262.19 625.22,263.35 623.67,261.8 624.84,260.25 623.67,258.7" fill="#ff8a00"/>
</g>
<rect x="406.4" y="280.6" width="79" height="25.8" fill="#fff" fill-opacity="0.8" stroke="#505050" stroke-width="0.8"/>
<text x="409.00" y="288.20" font-size="9.79" fill="#000" stroke="#000" stroke-width="0.22" textLength="22.52" lengthAdjust="spacingAndGlyphs" ><tspan font-style="italic">T</tspan><tspan> = 0</tspan></text>
<text x="409.00" y="300.80" font-size="9.79" fill="#000" stroke="#000" stroke-width="0.22" textLength="73.67" lengthAdjust="spacingAndGlyphs" ><tspan font-style="italic">h</tspan><tspan> = 0.001 </tspan><tspan font-style="italic">J</tspan><tspan font-size="6.85" dy="1.96">4</tspan><tspan dy="-1.96"> (3D)</tspan></text>
<rect x="399.8" y="159.6" width="282.2" height="150.1" fill="none" stroke="#000" stroke-width="1.8"/>
<line x1="399.82" y1="309.7" x2="399.82" y2="304.8" stroke="#000" stroke-width="1.0" stroke-linecap="butt"/>
<line x1="399.82" y1="159.6" x2="399.82" y2="164.5" stroke="#000" stroke-width="1.0" stroke-linecap="butt"/>
<line x1="435.04" y1="309.7" x2="435.04" y2="304.8" stroke="#000" stroke-width="1.0" stroke-linecap="butt"/>
<line x1="435.04" y1="159.6" x2="435.04" y2="164.5" stroke="#000" stroke-width="1.0" stroke-linecap="butt"/>
<line x1="470.26" y1="309.7" x2="470.26" y2="304.8" stroke="#000" stroke-width="1.0" stroke-linecap="butt"/>
<line x1="470.26" y1="159.6" x2="470.26" y2="164.5" stroke="#000" stroke-width="1.0" stroke-linecap="butt"/>
<line x1="505.48" y1="309.7" x2="505.48" y2="304.8" stroke="#000" stroke-width="1.0" stroke-linecap="butt"/>
<line x1="505.48" y1="159.6" x2="505.48" y2="164.5" stroke="#000" stroke-width="1.0" stroke-linecap="butt"/>
<line x1="540.7" y1="309.7" x2="540.7" y2="304.8" stroke="#000" stroke-width="1.0" stroke-linecap="butt"/>
<line x1="540.7" y1="159.6" x2="540.7" y2="164.5" stroke="#000" stroke-width="1.0" stroke-linecap="butt"/>
<line x1="575.92" y1="309.7" x2="575.92" y2="304.8" stroke="#000" stroke-width="1.0" stroke-linecap="butt"/>
<line x1="575.92" y1="159.6" x2="575.92" y2="164.5" stroke="#000" stroke-width="1.0" stroke-linecap="butt"/>
<line x1="611.14" y1="309.7" x2="611.14" y2="304.8" stroke="#000" stroke-width="1.0" stroke-linecap="butt"/>
<line x1="611.14" y1="159.6" x2="611.14" y2="164.5" stroke="#000" stroke-width="1.0" stroke-linecap="butt"/>
<line x1="646.36" y1="309.7" x2="646.36" y2="304.8" stroke="#000" stroke-width="1.0" stroke-linecap="butt"/>
<line x1="646.36" y1="159.6" x2="646.36" y2="164.5" stroke="#000" stroke-width="1.0" stroke-linecap="butt"/>
<line x1="681.58" y1="309.7" x2="681.58" y2="304.8" stroke="#000" stroke-width="1.0" stroke-linecap="butt"/>
<line x1="681.58" y1="159.6" x2="681.58" y2="164.5" stroke="#000" stroke-width="1.0" stroke-linecap="butt"/>
<line x1="399.82" y1="309.7" x2="399.82" y2="306.7" stroke="#000" stroke-width="1.0" stroke-linecap="butt"/>
<line x1="399.82" y1="159.6" x2="399.82" y2="162.6" stroke="#000" stroke-width="1.0" stroke-linecap="butt"/>
<line x1="408.63" y1="309.7" x2="408.63" y2="306.7" stroke="#000" stroke-width="1.0" stroke-linecap="butt"/>
<line x1="408.63" y1="159.6" x2="408.63" y2="162.6" stroke="#000" stroke-width="1.0" stroke-linecap="butt"/>
<line x1="417.43" y1="309.7" x2="417.43" y2="306.7" stroke="#000" stroke-width="1.0" stroke-linecap="butt"/>
<line x1="417.43" y1="159.6" x2="417.43" y2="162.6" stroke="#000" stroke-width="1.0" stroke-linecap="butt"/>
<line x1="426.24" y1="309.7" x2="426.24" y2="306.7" stroke="#000" stroke-width="1.0" stroke-linecap="butt"/>
<line x1="426.24" y1="159.6" x2="426.24" y2="162.6" stroke="#000" stroke-width="1.0" stroke-linecap="butt"/>
<line x1="435.04" y1="309.7" x2="435.04" y2="306.7" stroke="#000" stroke-width="1.0" stroke-linecap="butt"/>
<line x1="435.04" y1="159.6" x2="435.04" y2="162.6" stroke="#000" stroke-width="1.0" stroke-linecap="butt"/>
<line x1="443.85" y1="309.7" x2="443.85" y2="306.7" stroke="#000" stroke-width="1.0" stroke-linecap="butt"/>
<line x1="443.85" y1="159.6" x2="443.85" y2="162.6" stroke="#000" stroke-width="1.0" stroke-linecap="butt"/>
<line x1="452.65" y1="309.7" x2="452.65" y2="306.7" stroke="#000" stroke-width="1.0" stroke-linecap="butt"/>
<line x1="452.65" y1="159.6" x2="452.65" y2="162.6" stroke="#000" stroke-width="1.0" stroke-linecap="butt"/>
<line x1="461.46" y1="309.7" x2="461.46" y2="306.7" stroke="#000" stroke-width="1.0" stroke-linecap="butt"/>
<line x1="461.46" y1="159.6" x2="461.46" y2="162.6" stroke="#000" stroke-width="1.0" stroke-linecap="butt"/>
<line x1="470.26" y1="309.7" x2="470.26" y2="306.7" stroke="#000" stroke-width="1.0" stroke-linecap="butt"/>
<line x1="470.26" y1="159.6" x2="470.26" y2="162.6" stroke="#000" stroke-width="1.0" stroke-linecap="butt"/>
<line x1="479.07" y1="309.7" x2="479.07" y2="306.7" stroke="#000" stroke-width="1.0" stroke-linecap="butt"/>
<line x1="479.07" y1="159.6" x2="479.07" y2="162.6" stroke="#000" stroke-width="1.0" stroke-linecap="butt"/>
<line x1="487.87" y1="309.7" x2="487.87" y2="306.7" stroke="#000" stroke-width="1.0" stroke-linecap="butt"/>
<line x1="487.87" y1="159.6" x2="487.87" y2="162.6" stroke="#000" stroke-width="1.0" stroke-linecap="butt"/>
<line x1="496.68" y1="309.7" x2="496.68" y2="306.7" stroke="#000" stroke-width="1.0" stroke-linecap="butt"/>
<line x1="496.68" y1="159.6" x2="496.68" y2="162.6" stroke="#000" stroke-width="1.0" stroke-linecap="butt"/>
<line x1="505.48" y1="309.7" x2="505.48" y2="306.7" stroke="#000" stroke-width="1.0" stroke-linecap="butt"/>
<line x1="505.48" y1="159.6" x2="505.48" y2="162.6" stroke="#000" stroke-width="1.0" stroke-linecap="butt"/>
<line x1="514.29" y1="309.7" x2="514.29" y2="306.7" stroke="#000" stroke-width="1.0" stroke-linecap="butt"/>
<line x1="514.29" y1="159.6" x2="514.29" y2="162.6" stroke="#000" stroke-width="1.0" stroke-linecap="butt"/>
<line x1="523.09" y1="309.7" x2="523.09" y2="306.7" stroke="#000" stroke-width="1.0" stroke-linecap="butt"/>
<line x1="523.09" y1="159.6" x2="523.09" y2="162.6" stroke="#000" stroke-width="1.0" stroke-linecap="butt"/>
<line x1="531.9" y1="309.7" x2="531.9" y2="306.7" stroke="#000" stroke-width="1.0" stroke-linecap="butt"/>
<line x1="531.9" y1="159.6" x2="531.9" y2="162.6" stroke="#000" stroke-width="1.0" stroke-linecap="butt"/>
<line x1="540.7" y1="309.7" x2="540.7" y2="306.7" stroke="#000" stroke-width="1.0" stroke-linecap="butt"/>
<line x1="540.7" y1="159.6" x2="540.7" y2="162.6" stroke="#000" stroke-width="1.0" stroke-linecap="butt"/>
<line x1="549.5" y1="309.7" x2="549.5" y2="306.7" stroke="#000" stroke-width="1.0" stroke-linecap="butt"/>
<line x1="549.5" y1="159.6" x2="549.5" y2="162.6" stroke="#000" stroke-width="1.0" stroke-linecap="butt"/>
<line x1="558.31" y1="309.7" x2="558.31" y2="306.7" stroke="#000" stroke-width="1.0" stroke-linecap="butt"/>
<line x1="558.31" y1="159.6" x2="558.31" y2="162.6" stroke="#000" stroke-width="1.0" stroke-linecap="butt"/>
<line x1="567.12" y1="309.7" x2="567.12" y2="306.7" stroke="#000" stroke-width="1.0" stroke-linecap="butt"/>
<line x1="567.12" y1="159.6" x2="567.12" y2="162.6" stroke="#000" stroke-width="1.0" stroke-linecap="butt"/>
<line x1="575.92" y1="309.7" x2="575.92" y2="306.7" stroke="#000" stroke-width="1.0" stroke-linecap="butt"/>
<line x1="575.92" y1="159.6" x2="575.92" y2="162.6" stroke="#000" stroke-width="1.0" stroke-linecap="butt"/>
<line x1="584.73" y1="309.7" x2="584.73" y2="306.7" stroke="#000" stroke-width="1.0" stroke-linecap="butt"/>
<line x1="584.73" y1="159.6" x2="584.73" y2="162.6" stroke="#000" stroke-width="1.0" stroke-linecap="butt"/>
<line x1="593.53" y1="309.7" x2="593.53" y2="306.7" stroke="#000" stroke-width="1.0" stroke-linecap="butt"/>
<line x1="593.53" y1="159.6" x2="593.53" y2="162.6" stroke="#000" stroke-width="1.0" stroke-linecap="butt"/>
<line x1="602.34" y1="309.7" x2="602.34" y2="306.7" stroke="#000" stroke-width="1.0" stroke-linecap="butt"/>
<line x1="602.34" y1="159.6" x2="602.34" y2="162.6" stroke="#000" stroke-width="1.0" stroke-linecap="butt"/>
<line x1="611.14" y1="309.7" x2="611.14" y2="306.7" stroke="#000" stroke-width="1.0" stroke-linecap="butt"/>
<line x1="611.14" y1="159.6" x2="611.14" y2="162.6" stroke="#000" stroke-width="1.0" stroke-linecap="butt"/>
<line x1="619.95" y1="309.7" x2="619.95" y2="306.7" stroke="#000" stroke-width="1.0" stroke-linecap="butt"/>
<line x1="619.95" y1="159.6" x2="619.95" y2="162.6" stroke="#000" stroke-width="1.0" stroke-linecap="butt"/>
<line x1="628.75" y1="309.7" x2="628.75" y2="306.7" stroke="#000" stroke-width="1.0" stroke-linecap="butt"/>
<line x1="628.75" y1="159.6" x2="628.75" y2="162.6" stroke="#000" stroke-width="1.0" stroke-linecap="butt"/>
<line x1="637.56" y1="309.7" x2="637.56" y2="306.7" stroke="#000" stroke-width="1.0" stroke-linecap="butt"/>
<line x1="637.56" y1="159.6" x2="637.56" y2="162.6" stroke="#000" stroke-width="1.0" stroke-linecap="butt"/>
<line x1="646.36" y1="309.7" x2="646.36" y2="306.7" stroke="#000" stroke-width="1.0" stroke-linecap="butt"/>
<line x1="646.36" y1="159.6" x2="646.36" y2="162.6" stroke="#000" stroke-width="1.0" stroke-linecap="butt"/>
<line x1="655.17" y1="309.7" x2="655.17" y2="306.7" stroke="#000" stroke-width="1.0" stroke-linecap="butt"/>
<line x1="655.17" y1="159.6" x2="655.17" y2="162.6" stroke="#000" stroke-width="1.0" stroke-linecap="butt"/>
<line x1="663.97" y1="309.7" x2="663.97" y2="306.7" stroke="#000" stroke-width="1.0" stroke-linecap="butt"/>
<line x1="663.97" y1="159.6" x2="663.97" y2="162.6" stroke="#000" stroke-width="1.0" stroke-linecap="butt"/>
<line x1="672.78" y1="309.7" x2="672.78" y2="306.7" stroke="#000" stroke-width="1.0" stroke-linecap="butt"/>
<line x1="672.78" y1="159.6" x2="672.78" y2="162.6" stroke="#000" stroke-width="1.0" stroke-linecap="butt"/>
<line x1="681.58" y1="309.7" x2="681.58" y2="306.7" stroke="#000" stroke-width="1.0" stroke-linecap="butt"/>
<line x1="681.58" y1="159.6" x2="681.58" y2="162.6" stroke="#000" stroke-width="1.0" stroke-linecap="butt"/>
<line x1="399.8" y1="301.4" x2="404.7" y2="301.4" stroke="#000" stroke-width="1.0" stroke-linecap="butt"/>
<line x1="682" y1="301.4" x2="677.1" y2="301.4" stroke="#000" stroke-width="1.0" stroke-linecap="butt"/>
<line x1="399.8" y1="267.85" x2="404.7" y2="267.85" stroke="#000" stroke-width="1.0" stroke-linecap="butt"/>
<line x1="682" y1="267.85" x2="677.1" y2="267.85" stroke="#000" stroke-width="1.0" stroke-linecap="butt"/>
<line x1="399.8" y1="234.3" x2="404.7" y2="234.3" stroke="#000" stroke-width="1.0" stroke-linecap="butt"/>
<line x1="682" y1="234.3" x2="677.1" y2="234.3" stroke="#000" stroke-width="1.0" stroke-linecap="butt"/>
<line x1="399.8" y1="200.75" x2="404.7" y2="200.75" stroke="#000" stroke-width="1.0" stroke-linecap="butt"/>
<line x1="682" y1="200.75" x2="677.1" y2="200.75" stroke="#000" stroke-width="1.0" stroke-linecap="butt"/>
<line x1="399.8" y1="167.2" x2="404.7" y2="167.2" stroke="#000" stroke-width="1.0" stroke-linecap="butt"/>
<line x1="682" y1="167.2" x2="677.1" y2="167.2" stroke="#000" stroke-width="1.0" stroke-linecap="butt"/>
<line x1="399.8" y1="301.4" x2="402.8" y2="301.4" stroke="#000" stroke-width="1.0" stroke-linecap="butt"/>
<line x1="682" y1="301.4" x2="679" y2="301.4" stroke="#000" stroke-width="1.0" stroke-linecap="butt"/>
<line x1="399.8" y1="293.01" x2="402.8" y2="293.01" stroke="#000" stroke-width="1.0" stroke-linecap="butt"/>
<line x1="682" y1="293.01" x2="679" y2="293.01" stroke="#000" stroke-width="1.0" stroke-linecap="butt"/>
<line x1="399.8" y1="284.62" x2="402.8" y2="284.62" stroke="#000" stroke-width="1.0" stroke-linecap="butt"/>
<line x1="682" y1="284.62" x2="679" y2="284.62" stroke="#000" stroke-width="1.0" stroke-linecap="butt"/>
<line x1="399.8" y1="276.24" x2="402.8" y2="276.24" stroke="#000" stroke-width="1.0" stroke-linecap="butt"/>
<line x1="682" y1="276.24" x2="679" y2="276.24" stroke="#000" stroke-width="1.0" stroke-linecap="butt"/>
<line x1="399.8" y1="267.85" x2="402.8" y2="267.85" stroke="#000" stroke-width="1.0" stroke-linecap="butt"/>
<line x1="682" y1="267.85" x2="679" y2="267.85" stroke="#000" stroke-width="1.0" stroke-linecap="butt"/>
<line x1="399.8" y1="259.46" x2="402.8" y2="259.46" stroke="#000" stroke-width="1.0" stroke-linecap="butt"/>
<line x1="682" y1="259.46" x2="679" y2="259.46" stroke="#000" stroke-width="1.0" stroke-linecap="butt"/>
<line x1="399.8" y1="251.07" x2="402.8" y2="251.07" stroke="#000" stroke-width="1.0" stroke-linecap="butt"/>
<line x1="682" y1="251.07" x2="679" y2="251.07" stroke="#000" stroke-width="1.0" stroke-linecap="butt"/>
<line x1="399.8" y1="242.69" x2="402.8" y2="242.69" stroke="#000" stroke-width="1.0" stroke-linecap="butt"/>
<line x1="682" y1="242.69" x2="679" y2="242.69" stroke="#000" stroke-width="1.0" stroke-linecap="butt"/>
<line x1="399.8" y1="234.3" x2="402.8" y2="234.3" stroke="#000" stroke-width="1.0" stroke-linecap="butt"/>
<line x1="682" y1="234.3" x2="679" y2="234.3" stroke="#000" stroke-width="1.0" stroke-linecap="butt"/>
<line x1="399.8" y1="225.91" x2="402.8" y2="225.91" stroke="#000" stroke-width="1.0" stroke-linecap="butt"/>
<line x1="682" y1="225.91" x2="679" y2="225.91" stroke="#000" stroke-width="1.0" stroke-linecap="butt"/>
<line x1="399.8" y1="217.52" x2="402.8" y2="217.52" stroke="#000" stroke-width="1.0" stroke-linecap="butt"/>
<line x1="682" y1="217.52" x2="679" y2="217.52" stroke="#000" stroke-width="1.0" stroke-linecap="butt"/>
<line x1="399.8" y1="209.14" x2="402.8" y2="209.14" stroke="#000" stroke-width="1.0" stroke-linecap="butt"/>
<line x1="682" y1="209.14" x2="679" y2="209.14" stroke="#000" stroke-width="1.0" stroke-linecap="butt"/>
<line x1="399.8" y1="200.75" x2="402.8" y2="200.75" stroke="#000" stroke-width="1.0" stroke-linecap="butt"/>
<line x1="682" y1="200.75" x2="679" y2="200.75" stroke="#000" stroke-width="1.0" stroke-linecap="butt"/>
<line x1="399.8" y1="192.36" x2="402.8" y2="192.36" stroke="#000" stroke-width="1.0" stroke-linecap="butt"/>
<line x1="682" y1="192.36" x2="679" y2="192.36" stroke="#000" stroke-width="1.0" stroke-linecap="butt"/>
<line x1="399.8" y1="183.97" x2="402.8" y2="183.97" stroke="#000" stroke-width="1.0" stroke-linecap="butt"/>
<line x1="682" y1="183.97" x2="679" y2="183.97" stroke="#000" stroke-width="1.0" stroke-linecap="butt"/>
<line x1="399.8" y1="175.59" x2="402.8" y2="175.59" stroke="#000" stroke-width="1.0" stroke-linecap="butt"/>
<line x1="682" y1="175.59" x2="679" y2="175.59" stroke="#000" stroke-width="1.0" stroke-linecap="butt"/>
<line x1="399.8" y1="167.2" x2="402.8" y2="167.2" stroke="#000" stroke-width="1.0" stroke-linecap="butt"/>
<line x1="682" y1="167.2" x2="679" y2="167.2" stroke="#000" stroke-width="1.0" stroke-linecap="butt"/>
<text x="388.40" y="171.00" font-size="12.43" fill="#000" stroke="#000" stroke-width="0.22" textLength="6.80" lengthAdjust="spacingAndGlyphs" ><tspan font-style="italic">π</tspan></text>
<text x="383.94" y="201.65" font-size="8.58" fill="#000" stroke="#000" stroke-width="0.22" textLength="9.66" lengthAdjust="spacingAndGlyphs" ><tspan>3</tspan><tspan font-style="italic">π</tspan></text>
<line x1="383.94" y1="203.45" x2="393.6" y2="203.45" stroke="#000" stroke-width="0.6" stroke-linecap="butt"/>
<text x="386.29" y="210.25" font-size="8.27" fill="#000" stroke="#000" stroke-width="0.22" textLength="4.96" lengthAdjust="spacingAndGlyphs" ><tspan>4</tspan></text>
<text x="388.50" y="234.20" font-size="8.58" fill="#000" stroke="#000" stroke-width="0.22" textLength="4.70" lengthAdjust="spacingAndGlyphs" ><tspan font-style="italic">π</tspan></text>
<line x1="388.5" y1="236" x2="393.2" y2="236" stroke="#000" stroke-width="0.6" stroke-linecap="butt"/>
<text x="388.37" y="242.80" font-size="8.27" fill="#000" stroke="#000" stroke-width="0.22" textLength="4.96" lengthAdjust="spacingAndGlyphs" ><tspan>2</tspan></text>
<text x="388.50" y="267.75" font-size="8.58" fill="#000" stroke="#000" stroke-width="0.22" textLength="4.70" lengthAdjust="spacingAndGlyphs" ><tspan font-style="italic">π</tspan></text>
<line x1="388.5" y1="269.55" x2="393.2" y2="269.55" stroke="#000" stroke-width="0.6" stroke-linecap="butt"/>
<text x="388.37" y="276.35" font-size="8.27" fill="#000" stroke="#000" stroke-width="0.22" textLength="4.96" lengthAdjust="spacingAndGlyphs" ><tspan>4</tspan></text>
<text x="386.72" y="305.20" font-size="11.13" fill="#000" stroke="#000" stroke-width="0.22" textLength="6.68" lengthAdjust="spacingAndGlyphs" ><tspan>0</tspan></text>
<g transform="translate(375.4,234.3) rotate(-90)">
<text x="-3.21" y="0.00" font-size="11.60" fill="#000" stroke="#000" stroke-width="0.22" textLength="6.42" lengthAdjust="spacingAndGlyphs" ><tspan font-style="italic">θ</tspan></text>
</g>
<text x="363.40" y="169.70" font-size="13.20" font-weight="bold" fill="#000" stroke="#000" stroke-width="0.22" textLength="8.59" lengthAdjust="spacingAndGlyphs" ><tspan>d</tspan></text>
<clipPath id="clipf"><rect x="399.8" y="318.5" width="282.2" height="150.1"/></clipPath>
<line x1="399.8" y1="393.6" x2="682" y2="393.6" stroke="#000" stroke-width="1.4" stroke-linecap="butt" stroke-dasharray="5.1,2.2"/>
<g clip-path="url(#clipf)">
<rect x="399.8" y="456.8" width="282.2" height="5.4" fill="#bcd400"/>
<polygon points="399.8,456.44 402.84,458.65 401.68,462.23 397.92,462.23 396.76,458.65" fill="#bcd400"/>
<polygon points="402.8,456.74 405.84,458.96 404.68,462.53 400.92,462.53 399.76,458.96" fill="#bcd400"/>
<polygon points="405.8,456.57 408.84,458.78 407.68,462.36 403.92,462.36 402.76,458.78" fill="#bcd400"/>
<polygon points="408.8,456.8 411.84,459.02 410.68,462.59 406.92,462.59 405.76,459.02" fill="#bcd400"/>
<polygon points="411.8,456.83 414.84,459.04 413.68,462.61 409.92,462.61 408.76,459.04" fill="#bcd400"/>
<polygon points="414.8,456.27 417.84,458.48 416.68,462.05 412.92,462.05 411.76,458.48" fill="#bcd400"/>
<polygon points="417.8,456.21 420.84,458.42 419.68,462 415.92,462 414.76,458.42" fill="#bcd400"/>
<polygon points="420.8,457.04 423.84,459.25 422.68,462.83 418.92,462.83 417.76,459.25" fill="#bcd400"/>
<polygon points="423.8,456.46 426.84,458.67 425.68,462.25 421.92,462.25 420.76,458.67" fill="#bcd400"/>
<polygon points="426.8,456.43 429.84,458.65 428.68,462.22 424.92,462.22 423.76,458.65" fill="#bcd400"/>
<polygon points="429.8,457.2 432.84,459.41 431.68,462.98 427.92,462.98 426.76,459.41" fill="#bcd400"/>
<polygon points="432.8,456.67 435.84,458.88 434.68,462.46 430.92,462.46 429.76,458.88" fill="#bcd400"/>
<polygon points="435.8,457.04 438.84,459.25 437.68,462.83 433.92,462.83 432.76,459.25" fill="#bcd400"/>
<polygon points="438.8,456.68 441.84,458.89 440.68,462.47 436.92,462.47 435.76,458.89" fill="#bcd400"/>
<polygon points="441.8,456.84 444.84,459.05 443.68,462.63 439.92,462.63 438.76,459.05" fill="#bcd400"/>
<polygon points="444.8,456.35 447.84,458.56 446.68,462.14 442.92,462.14 441.76,458.56" fill="#bcd400"/>
<polygon points="447.8,456.83 450.84,459.05 449.68,462.62 445.92,462.62 444.76,459.05" fill="#bcd400"/>
<polygon points="450.8,457.07 453.84,459.28 452.68,462.86 448.92,462.86 447.76,459.28" fill="#bcd400"/>
<polygon points="453.8,456.72 456.84,458.93 455.68,462.51 451.92,462.51 450.76,458.93" fill="#bcd400"/>
<polygon points="456.8,456.94 459.84,459.15 458.68,462.73 454.92,462.73 453.76,459.15" fill="#bcd400"/>
<polygon points="459.8,456.87 462.84,459.08 461.68,462.66 457.92,462.66 456.76,459.08" fill="#bcd400"/>
<polygon points="462.8,456.26 465.84,458.48 464.68,462.05 460.92,462.05 459.76,458.48" fill="#bcd400"/>
<polygon points="465.8,456.96 468.84,459.17 467.68,462.75 463.92,462.75 462.76,459.17" fill="#bcd400"/>
<polygon points="468.8,456.79 471.84,459 470.68,462.58 466.92,462.58 465.76,459" fill="#bcd400"/>
<polygon points="471.8,456.5 474.84,458.71 473.68,462.29 469.92,462.29 468.76,458.71" fill="#bcd400"/>
<polygon points="474.8,456.23 477.84,458.44 476.68,462.02 472.92,462.02 471.76,458.44" fill="#bcd400"/>
<polygon points="477.8,457.07 480.84,459.28 479.68,462.85 475.92,462.85 474.76,459.28" fill="#bcd400"/>
<polygon points="480.8,456.67 483.84,458.88 482.68,462.46 478.92,462.46 477.76,458.88" fill="#bcd400"/>
<polygon points="483.8,456.92 486.84,459.13 485.68,462.71 481.92,462.71 480.76,459.13" fill="#bcd400"/>
<polygon points="486.8,457.08 489.84,459.29 488.68,462.87 484.92,462.87 483.76,459.29" fill="#bcd400"/>
<polygon points="489.8,456.91 492.84,459.13 491.68,462.7 487.92,462.7 486.76,459.13" fill="#bcd400"/>
<polygon points="492.8,457.12 495.84,459.33 494.68,462.91 490.92,462.91 489.76,459.33" fill="#bcd400"/>
<polygon points="495.8,456.59 498.84,458.81 497.68,462.38 493.92,462.38 492.76,458.81" fill="#bcd400"/>
<polygon points="498.8,457 501.84,459.21 500.68,462.79 496.92,462.79 495.76,459.21" fill="#bcd400"/>
<polygon points="501.8,456.64 504.84,458.86 503.68,462.43 499.92,462.43 498.76,458.86" fill="#bcd400"/>
<polygon points="504.8,457.14 507.84,459.35 506.68,462.92 502.92,462.92 501.76,459.35" fill="#bcd400"/>
<polygon points="507.8,457.08 510.84,459.29 509.68,462.87 505.92,462.87 504.76,459.29" fill="#bcd400"/>
<polygon points="510.8,456.3 513.84,458.51 512.68,462.09 508.92,462.09 507.76,458.51" fill="#bcd400"/>
<polygon points="513.8,456.34 516.84,458.55 515.68,462.12 511.92,462.12 510.76,458.55" fill="#bcd400"/>
<polygon points="516.8,456.42 519.84,458.63 518.68,462.21 514.92,462.21 513.76,458.63" fill="#bcd400"/>
<polygon points="519.8,457.17 522.84,459.38 521.68,462.95 517.92,462.95 516.76,459.38" fill="#bcd400"/>
<polygon points="522.8,456.64 525.84,458.85 524.68,462.43 520.92,462.43 519.76,458.85" fill="#bcd400"/>
<polygon points="525.8,456.83 528.84,459.04 527.68,462.62 523.92,462.62 522.76,459.04" fill="#bcd400"/>
<polygon points="528.8,456.5 531.84,458.71 530.68,462.29 526.92,462.29 525.76,458.71" fill="#bcd400"/>
<polygon points="531.8,456.71 534.84,458.92 533.68,462.5 529.92,462.5 528.76,458.92" fill="#bcd400"/>
<polygon points="534.8,456.59 537.84,458.8 536.68,462.37 532.92,462.37 531.76,458.8" fill="#bcd400"/>
<polygon points="537.8,456.55 540.84,458.76 539.68,462.34 535.92,462.34 534.76,458.76" fill="#bcd400"/>
<polygon points="540.8,456.79 543.84,459 542.68,462.57 538.92,462.57 537.76,459" fill="#bcd400"/>
<polygon points="543.8,456.78 546.84,459 545.68,462.57 541.92,462.57 540.76,459" fill="#bcd400"/>
<polygon points="546.8,457.1 549.84,459.32 548.68,462.89 544.92,462.89 543.76,459.32" fill="#bcd400"/>
<polygon points="549.8,456.88 552.84,459.09 551.68,462.67 547.92,462.67 546.76,459.09" fill="#bcd400"/>
<polygon points="552.8,457.13 555.84,459.34 554.68,462.92 550.92,462.92 549.76,459.34" fill="#bcd400"/>
<polygon points="555.8,457.06 558.84,459.27 557.68,462.85 553.92,462.85 552.76,459.27" fill="#bcd400"/>
<polygon points="558.8,457.19 561.84,459.4 560.68,462.98 556.92,462.98 555.76,459.4" fill="#bcd400"/>
<polygon points="561.8,456.87 564.84,459.08 563.68,462.66 559.92,462.66 558.76,459.08" fill="#bcd400"/>
<polygon points="564.8,456.36 567.84,458.57 566.68,462.15 562.92,462.15 561.76,458.57" fill="#bcd400"/>
<polygon points="567.8,457.06 570.84,459.27 569.68,462.85 565.92,462.85 564.76,459.27" fill="#bcd400"/>
<polygon points="570.8,457.16 573.84,459.38 572.68,462.95 568.92,462.95 567.76,459.38" fill="#bcd400"/>
<polygon points="573.8,457.1 576.84,459.32 575.68,462.89 571.92,462.89 570.76,459.32" fill="#bcd400"/>
<polygon points="576.8,456.77 579.84,458.98 578.68,462.56 574.92,462.56 573.76,458.98" fill="#bcd400"/>
<polygon points="579.8,456.91 582.84,459.12 581.68,462.7 577.92,462.7 576.76,459.12" fill="#bcd400"/>
<polygon points="582.8,456.41 585.84,458.62 584.68,462.2 580.92,462.2 579.76,458.62" fill="#bcd400"/>
<polygon points="585.8,457.03 588.84,459.24 587.68,462.82 583.92,462.82 582.76,459.24" fill="#bcd400"/>
<polygon points="588.8,456.77 591.84,458.98 590.68,462.56 586.92,462.56 585.76,458.98" fill="#bcd400"/>
<polygon points="591.8,456.48 594.84,458.7 593.68,462.27 589.92,462.27 588.76,458.7" fill="#bcd400"/>
<polygon points="594.8,456.26 597.84,458.47 596.68,462.05 592.92,462.05 591.76,458.47" fill="#bcd400"/>
<polygon points="597.8,457.05 600.84,459.27 599.68,462.84 595.92,462.84 594.76,459.27" fill="#bcd400"/>
<polygon points="600.8,457.19 603.84,459.4 602.68,462.98 598.92,462.98 597.76,459.4" fill="#bcd400"/>
<polygon points="603.8,456.29 606.84,458.5 605.68,462.08 601.92,462.08 600.76,458.5" fill="#bcd400"/>
<polygon points="606.8,457 609.84,459.21 608.68,462.79 604.92,462.79 603.76,459.21" fill="#bcd400"/>
<polygon points="609.8,456.61 612.84,458.82 611.68,462.4 607.92,462.4 606.76,458.82" fill="#bcd400"/>
<polygon points="612.8,456.35 615.84,458.56 614.68,462.14 610.92,462.14 609.76,458.56" fill="#bcd400"/>
<polygon points="615.8,456.49 618.84,458.71 617.68,462.28 613.92,462.28 612.76,458.71" fill="#bcd400"/>
<polygon points="618.8,456.97 621.84,459.18 620.68,462.76 616.92,462.76 615.76,459.18" fill="#bcd400"/>
<polygon points="621.8,457.07 624.84,459.28 623.68,462.86 619.92,462.86 618.76,459.28" fill="#bcd400"/>
<polygon points="624.8,456.24 627.84,458.46 626.68,462.03 622.92,462.03 621.76,458.46" fill="#bcd400"/>
<polygon points="627.8,456.81 630.84,459.03 629.68,462.6 625.92,462.6 624.76,459.03" fill="#bcd400"/>
<polygon points="630.8,456.24 633.84,458.46 632.68,462.03 628.92,462.03 627.76,458.46" fill="#bcd400"/>
<polygon points="633.8,456.92 636.84,459.13 635.68,462.71 631.92,462.71 630.76,459.13" fill="#bcd400"/>
<polygon points="636.8,456.53 639.84,458.74 638.68,462.32 634.92,462.32 633.76,458.74" fill="#bcd400"/>
<polygon points="639.8,457.08 642.84,459.29 641.68,462.87 637.92,462.87 636.76,459.29" fill="#bcd400"/>
<polygon points="642.8,457.18 645.84,459.39 644.68,462.97 640.92,462.97 639.76,459.39" fill="#bcd400"/>
<polygon points="645.8,456.71 648.84,458.92 647.68,462.49 643.92,462.49 642.76,458.92" fill="#bcd400"/>
<polygon points="648.8,457.2 651.84,459.41 650.68,462.99 646.92,462.99 645.76,459.41" fill="#bcd400"/>
<polygon points="651.8,456.51 654.84,458.72 653.68,462.3 649.92,462.3 648.76,458.72" fill="#bcd400"/>
<polygon points="654.8,456.28 657.84,458.49 656.68,462.07 652.92,462.07 651.76,458.49" fill="#bcd400"/>
<polygon points="657.8,456.8 660.84,459.01 659.68,462.59 655.92,462.59 654.76,459.01" fill="#bcd400"/>
<polygon points="660.8,456.23 663.84,458.44 662.68,462.02 658.92,462.02 657.76,458.44" fill="#bcd400"/>
<polygon points="663.8,456.4 666.84,458.61 665.68,462.19 661.92,462.19 660.76,458.61" fill="#bcd400"/>
<polygon points="666.8,456.61 669.84,458.82 668.68,462.4 664.92,462.4 663.76,458.82" fill="#bcd400"/>
<polygon points="669.8,456.81 672.84,459.02 671.68,462.6 667.92,462.6 666.76,459.02" fill="#bcd400"/>
<polygon points="672.8,456.36 675.84,458.57 674.68,462.15 670.92,462.15 669.76,458.57" fill="#bcd400"/>
<polygon points="675.8,456.24 678.84,458.45 677.68,462.03 673.92,462.03 672.76,458.45" fill="#bcd400"/>
<polygon points="678.8,457.07 681.84,459.28 680.68,462.86 676.92,462.86 675.76,459.28" fill="#bcd400"/>
<polygon points="681.8,456.51 684.84,458.72 683.68,462.3 679.92,462.3 678.76,458.72" fill="#bcd400"/>
<polygon points="684.8,457.16 687.84,459.37 686.68,462.95 682.92,462.95 681.76,459.37" fill="#bcd400"/>
<polygon points="468,423.3 471.61,425.93 470.23,430.17 465.77,430.17 464.39,425.93" fill="#bcd400"/>
<polygon points="468,443.1 471.61,445.73 470.23,449.97 465.77,449.97 464.39,445.73" fill="#bcd400"/>
<polygon points="609,423.3 612.61,425.93 611.23,430.17 606.77,430.17 605.39,425.93" fill="#bcd400"/>
<polygon points="609,443.1 612.61,445.73 611.23,449.97 606.77,449.97 605.39,445.73" fill="#bcd400"/>
<circle cx="403" cy="384" r="3.7" fill="#0a7dfa"/>
<circle cx="461" cy="383" r="3.7" fill="#0a7dfa"/>
<circle cx="465" cy="382" r="3.7" fill="#0a7dfa"/>
<circle cx="472" cy="383" r="3.7" fill="#0a7dfa"/>
<circle cx="476" cy="382" r="3.7" fill="#0a7dfa"/>
<circle cx="527" cy="386" r="3.7" fill="#0a7dfa"/>
<circle cx="531" cy="387" r="3.7" fill="#0a7dfa"/>
<circle cx="606" cy="385.5" r="3.7" fill="#0a7dfa"/>
<circle cx="604" cy="384" r="3.7" fill="#0a7dfa"/>
<circle cx="617" cy="382.5" r="3.7" fill="#0a7dfa"/>
<circle cx="669" cy="383" r="3.7" fill="#0a7dfa"/>
<rect x="400.6" y="378.6" width="6.8" height="6.8" fill="#0a2fa6"/>
<rect x="405.6" y="378.6" width="6.8" height="6.8" fill="#0a2fa6"/>
<rect x="460.6" y="378.1" width="6.8" height="6.8" fill="#0a2fa6"/>
<rect x="466.6" y="377.6" width="6.8" height="6.8" fill="#0a2fa6"/>
<rect x="523.6" y="378.6" width="6.8" height="6.8" fill="#0a2fa6"/>
<rect x="528.6" y="378.1" width="6.8" height="6.8" fill="#0a2fa6"/>
<rect x="533.6" y="378.6" width="6.8" height="6.8" fill="#0a2fa6"/>
<rect x="538.6" y="378.1" width="6.8" height="6.8" fill="#0a2fa6"/>
<rect x="544.6" y="378.6" width="6.8" height="6.8" fill="#0a2fa6"/>
<rect x="597.6" y="378.6" width="6.8" height="6.8" fill="#0a2fa6"/>
<rect x="601.6" y="378.1" width="6.8" height="6.8" fill="#0a2fa6"/>
<rect x="605.6" y="378.6" width="6.8" height="6.8" fill="#0a2fa6"/>
<rect x="672.6" y="377.6" width="6.8" height="6.8" fill="#0a2fa6"/>
<rect x="676.6" y="378.6" width="6.8" height="6.8" fill="#0a2fa6"/>
<polygon points="406,382.2 409.61,388.85 402.39,388.85" fill="#c6def9"/>
<polygon points="402,383.2 405.61,389.85 398.39,389.85" fill="#c6def9"/>
<polygon points="537,379.2 540.61,385.85 533.39,385.85" fill="#c6def9"/>
<polygon points="548,379.2 551.61,385.85 544.39,385.85" fill="#c6def9"/>
<polygon points="541,381.2 544.61,387.85 537.39,387.85" fill="#c6def9"/>
<polygon points="672,384.2 675.61,390.85 668.39,390.85" fill="#c6def9"/>
<polygon points="677,382.2 680.61,388.85 673.39,388.85" fill="#c6def9"/>
<polygon points="405.45,383.3 408.55,383.3 408.55,385.45 410.7,385.45 410.7,388.55 408.55,388.55 408.55,390.7 405.45,390.7 405.45,388.55 403.3,388.55 403.3,385.45 405.45,385.45" fill="#7f989c"/>
<polygon points="466.45,381.3 469.55,381.3 469.55,383.45 471.7,383.45 471.7,386.55 469.55,386.55 469.55,388.7 466.45,388.7 466.45,386.55 464.3,386.55 464.3,383.45 466.45,383.45" fill="#7f989c"/>
<polygon points="472.45,380.3 475.55,380.3 475.55,382.45 477.7,382.45 477.7,385.55 475.55,385.55 475.55,387.7 472.45,387.7 472.45,385.55 470.3,385.55 470.3,382.45 472.45,382.45" fill="#7f989c"/>
<polygon points="610.45,380.3 613.55,380.3 613.55,382.45 615.7,382.45 615.7,385.55 613.55,385.55 613.55,387.7 610.45,387.7 610.45,385.55 608.3,385.55 608.3,382.45 610.45,382.45" fill="#7f989c"/>
<polygon points="614.45,379.8 617.55,379.8 617.55,381.95 619.7,381.95 619.7,385.05 617.55,385.05 617.55,387.2 614.45,387.2 614.45,385.05 612.3,385.05 612.3,381.95 614.45,381.95" fill="#7f989c"/>
<polygon points="666.45,384.3 669.55,384.3 669.55,386.45 671.7,386.45 671.7,389.55 669.55,389.55 669.55,391.7 666.45,391.7 666.45,389.55 664.3,389.55 664.3,386.45 666.45,386.45" fill="#7f989c"/>
<polygon points="401.95,399.4 404,400.94 406.05,399.4 408.1,401.45 406.56,403.5 408.1,405.55 406.05,407.6 404,406.06 401.95,407.6 399.9,405.55 401.44,403.5 399.9,401.45" fill="#ff8a00"/>
<polygon points="405.95,398.9 408,400.44 410.05,398.9 412.1,400.95 410.56,403 412.1,405.05 410.05,407.1 408,405.56 405.95,407.1 403.9,405.05 405.44,403 403.9,400.95" fill="#ff8a00"/>
<polygon points="525.95,398.9 528,400.44 530.05,398.9 532.1,400.95 530.56,403 532.1,405.05 530.05,407.1 528,405.56 525.95,407.1 523.9,405.05 525.44,403 523.9,400.95" fill="#ff8a00"/>
<polygon points="530.95,400.4 533,401.94 535.05,400.4 537.1,402.45 535.56,404.5 537.1,406.55 535.05,408.6 533,407.06 530.95,408.6 528.9,406.55 530.44,404.5 528.9,402.45" fill="#ff8a00"/>
<polygon points="535.95,400.4 538,401.94 540.05,400.4 542.1,402.45 540.56,404.5 542.1,406.55 540.05,408.6 538,407.06 535.95,408.6 533.9,406.55 535.44,404.5 533.9,402.45" fill="#ff8a00"/>
<polygon points="540.95,399.9 543,401.44 545.05,399.9 547.1,401.95 545.56,404 547.1,406.05 545.05,408.1 543,406.56 540.95,408.1 538.9,406.05 540.44,404 538.9,401.95" fill="#ff8a00"/>
<polygon points="546.95,398.9 549,400.44 551.05,398.9 553.1,400.95 551.56,403 553.1,405.05 551.05,407.1 549,405.56 546.95,407.1 544.9,405.05 546.44,403 544.9,400.95" fill="#ff8a00"/>
<polygon points="528.95,400.9 531,402.44 533.05,400.9 535.1,402.95 533.56,405 535.1,407.05 533.05,409.1 531,407.56 528.95,409.1 526.9,407.05 528.44,405 526.9,402.95" fill="#ff8a00"/>
<polygon points="543.95,400.9 546,402.44 548.05,400.9 550.1,402.95 548.56,405 550.1,407.05 548.05,409.1 546,407.56 543.95,409.1 541.9,407.05 543.44,405 541.9,402.95" fill="#ff8a00"/>
<polygon points="666.95,398.9 669,400.44 671.05,398.9 673.1,400.95 671.56,403 673.1,405.05 671.05,407.1 669,405.56 666.95,407.1 664.9,405.05 666.44,403 664.9,400.95" fill="#ff8a00"/>
<polygon points="675.95,400.9 678,402.44 680.05,400.9 682.1,402.95 680.56,405 682.1,407.05 680.05,409.1 678,407.56 675.95,409.1 673.9,407.05 675.44,405 673.9,402.95" fill="#ff8a00"/>
<polygon points="670.95,399.9 673,401.44 675.05,399.9 677.1,401.95 675.56,404 677.1,406.05 675.05,408.1 673,406.56 670.95,408.1 668.9,406.05 670.44,404 668.9,401.95" fill="#ff8a00"/>
<polygon points="402,397.3 405.2,399.15 405.2,402.85 402,404.7 398.8,402.85 398.8,399.15" fill="#f03c10"/>
<polygon points="461,399.8 464.2,401.65 464.2,405.35 461,407.2 457.8,405.35 457.8,401.65" fill="#f03c10"/>
<polygon points="465,400.8 468.2,402.65 468.2,406.35 465,408.2 461.8,406.35 461.8,402.65" fill="#f03c10"/>
<polygon points="469,398.8 472.2,400.65 472.2,404.35 469,406.2 465.8,404.35 465.8,400.65" fill="#f03c10"/>
<polygon points="473,400.3 476.2,402.15 476.2,405.85 473,407.7 469.8,405.85 469.8,402.15" fill="#f03c10"/>
<polygon points="477,399.8 480.2,401.65 480.2,405.35 477,407.2 473.8,405.35 473.8,401.65" fill="#f03c10"/>
<polygon points="467,401.3 470.2,403.15 470.2,406.85 467,408.7 463.8,406.85 463.8,403.15" fill="#f03c10"/>
<polygon points="535,397.3 538.2,399.15 538.2,402.85 535,404.7 531.8,402.85 531.8,399.15" fill="#f03c10"/>
<polygon points="541,397.3 544.2,399.15 544.2,402.85 541,404.7 537.8,402.85 537.8,399.15" fill="#f03c10"/>
<polygon points="602,399.8 605.2,401.65 605.2,405.35 602,407.2 598.8,405.35 598.8,401.65" fill="#f03c10"/>
<polygon points="606,400.8 609.2,402.65 609.2,406.35 606,408.2 602.8,406.35 602.8,402.65" fill="#f03c10"/>
<polygon points="610,399.3 613.2,401.15 613.2,404.85 610,406.7 606.8,404.85 606.8,401.15" fill="#f03c10"/>
<polygon points="614,400.3 617.2,402.15 617.2,405.85 614,407.7 610.8,405.85 610.8,402.15" fill="#f03c10"/>
<polygon points="618,400.3 621.2,402.15 621.2,405.85 618,407.7 614.8,405.85 614.8,402.15" fill="#f03c10"/>
<polygon points="608,397.3 611.2,399.15 611.2,402.85 608,404.7 604.8,402.85 604.8,399.15" fill="#f03c10"/>
<polygon points="676,397.3 679.2,399.15 679.2,402.85 676,404.7 672.8,402.85 672.8,399.15" fill="#f03c10"/>
</g>
<rect x="406.6" y="439.6" width="67.8" height="25" fill="#fff" fill-opacity="0.8" stroke="#505050" stroke-width="0.8"/>
<text x="409.20" y="447.20" font-size="9.79" fill="#000" stroke="#000" stroke-width="0.22" textLength="22.52" lengthAdjust="spacingAndGlyphs" ><tspan font-style="italic">T</tspan><tspan> = 0</tspan></text>
<text x="409.20" y="459.80" font-size="9.79" fill="#000" stroke="#000" stroke-width="0.22" textLength="62.68" lengthAdjust="spacingAndGlyphs" ><tspan font-style="italic">h</tspan><tspan> = 0.1 </tspan><tspan font-style="italic">J</tspan><tspan font-size="6.85" dy="1.96">4</tspan><tspan dy="-1.96"> (3D)</tspan></text>
<rect x="399.8" y="318.5" width="282.2" height="150.1" fill="none" stroke="#000" stroke-width="1.8"/>
<line x1="399.82" y1="468.6" x2="399.82" y2="463.7" stroke="#000" stroke-width="1.0" stroke-linecap="butt"/>
<line x1="399.82" y1="318.5" x2="399.82" y2="323.4" stroke="#000" stroke-width="1.0" stroke-linecap="butt"/>
<line x1="435.04" y1="468.6" x2="435.04" y2="463.7" stroke="#000" stroke-width="1.0" stroke-linecap="butt"/>
<line x1="435.04" y1="318.5" x2="435.04" y2="323.4" stroke="#000" stroke-width="1.0" stroke-linecap="butt"/>
<line x1="470.26" y1="468.6" x2="470.26" y2="463.7" stroke="#000" stroke-width="1.0" stroke-linecap="butt"/>
<line x1="470.26" y1="318.5" x2="470.26" y2="323.4" stroke="#000" stroke-width="1.0" stroke-linecap="butt"/>
<line x1="505.48" y1="468.6" x2="505.48" y2="463.7" stroke="#000" stroke-width="1.0" stroke-linecap="butt"/>
<line x1="505.48" y1="318.5" x2="505.48" y2="323.4" stroke="#000" stroke-width="1.0" stroke-linecap="butt"/>
<line x1="540.7" y1="468.6" x2="540.7" y2="463.7" stroke="#000" stroke-width="1.0" stroke-linecap="butt"/>
<line x1="540.7" y1="318.5" x2="540.7" y2="323.4" stroke="#000" stroke-width="1.0" stroke-linecap="butt"/>
<line x1="575.92" y1="468.6" x2="575.92" y2="463.7" stroke="#000" stroke-width="1.0" stroke-linecap="butt"/>
<line x1="575.92" y1="318.5" x2="575.92" y2="323.4" stroke="#000" stroke-width="1.0" stroke-linecap="butt"/>
<line x1="611.14" y1="468.6" x2="611.14" y2="463.7" stroke="#000" stroke-width="1.0" stroke-linecap="butt"/>
<line x1="611.14" y1="318.5" x2="611.14" y2="323.4" stroke="#000" stroke-width="1.0" stroke-linecap="butt"/>
<line x1="646.36" y1="468.6" x2="646.36" y2="463.7" stroke="#000" stroke-width="1.0" stroke-linecap="butt"/>
<line x1="646.36" y1="318.5" x2="646.36" y2="323.4" stroke="#000" stroke-width="1.0" stroke-linecap="butt"/>
<line x1="681.58" y1="468.6" x2="681.58" y2="463.7" stroke="#000" stroke-width="1.0" stroke-linecap="butt"/>
<line x1="681.58" y1="318.5" x2="681.58" y2="323.4" stroke="#000" stroke-width="1.0" stroke-linecap="butt"/>
<line x1="399.82" y1="468.6" x2="399.82" y2="465.6" stroke="#000" stroke-width="1.0" stroke-linecap="butt"/>
<line x1="399.82" y1="318.5" x2="399.82" y2="321.5" stroke="#000" stroke-width="1.0" stroke-linecap="butt"/>
<line x1="408.63" y1="468.6" x2="408.63" y2="465.6" stroke="#000" stroke-width="1.0" stroke-linecap="butt"/>
<line x1="408.63" y1="318.5" x2="408.63" y2="321.5" stroke="#000" stroke-width="1.0" stroke-linecap="butt"/>
<line x1="417.43" y1="468.6" x2="417.43" y2="465.6" stroke="#000" stroke-width="1.0" stroke-linecap="butt"/>
<line x1="417.43" y1="318.5" x2="417.43" y2="321.5" stroke="#000" stroke-width="1.0" stroke-linecap="butt"/>
<line x1="426.24" y1="468.6" x2="426.24" y2="465.6" stroke="#000" stroke-width="1.0" stroke-linecap="butt"/>
<line x1="426.24" y1="318.5" x2="426.24" y2="321.5" stroke="#000" stroke-width="1.0" stroke-linecap="butt"/>
<line x1="435.04" y1="468.6" x2="435.04" y2="465.6" stroke="#000" stroke-width="1.0" stroke-linecap="butt"/>
<line x1="435.04" y1="318.5" x2="435.04" y2="321.5" stroke="#000" stroke-width="1.0" stroke-linecap="butt"/>
<line x1="443.85" y1="468.6" x2="443.85" y2="465.6" stroke="#000" stroke-width="1.0" stroke-linecap="butt"/>
<line x1="443.85" y1="318.5" x2="443.85" y2="321.5" stroke="#000" stroke-width="1.0" stroke-linecap="butt"/>
<line x1="452.65" y1="468.6" x2="452.65" y2="465.6" stroke="#000" stroke-width="1.0" stroke-linecap="butt"/>
<line x1="452.65" y1="318.5" x2="452.65" y2="321.5" stroke="#000" stroke-width="1.0" stroke-linecap="butt"/>
<line x1="461.46" y1="468.6" x2="461.46" y2="465.6" stroke="#000" stroke-width="1.0" stroke-linecap="butt"/>
<line x1="461.46" y1="318.5" x2="461.46" y2="321.5" stroke="#000" stroke-width="1.0" stroke-linecap="butt"/>
<line x1="470.26" y1="468.6" x2="470.26" y2="465.6" stroke="#000" stroke-width="1.0" stroke-linecap="butt"/>
<line x1="470.26" y1="318.5" x2="470.26" y2="321.5" stroke="#000" stroke-width="1.0" stroke-linecap="butt"/>
<line x1="479.07" y1="468.6" x2="479.07" y2="465.6" stroke="#000" stroke-width="1.0" stroke-linecap="butt"/>
<line x1="479.07" y1="318.5" x2="479.07" y2="321.5" stroke="#000" stroke-width="1.0" stroke-linecap="butt"/>
<line x1="487.87" y1="468.6" x2="487.87" y2="465.6" stroke="#000" stroke-width="1.0" stroke-linecap="butt"/>
<line x1="487.87" y1="318.5" x2="487.87" y2="321.5" stroke="#000" stroke-width="1.0" stroke-linecap="butt"/>
<line x1="496.68" y1="468.6" x2="496.68" y2="465.6" stroke="#000" stroke-width="1.0" stroke-linecap="butt"/>
<line x1="496.68" y1="318.5" x2="496.68" y2="321.5" stroke="#000" stroke-width="1.0" stroke-linecap="butt"/>
<line x1="505.48" y1="468.6" x2="505.48" y2="465.6" stroke="#000" stroke-width="1.0" stroke-linecap="butt"/>
<line x1="505.48" y1="318.5" x2="505.48" y2="321.5" stroke="#000" stroke-width="1.0" stroke-linecap="butt"/>
<line x1="514.29" y1="468.6" x2="514.29" y2="465.6" stroke="#000" stroke-width="1.0" stroke-linecap="butt"/>
<line x1="514.29" y1="318.5" x2="514.29" y2="321.5" stroke="#000" stroke-width="1.0" stroke-linecap="butt"/>
<line x1="523.09" y1="468.6" x2="523.09" y2="465.6" stroke="#000" stroke-width="1.0" stroke-linecap="butt"/>
<line x1="523.09" y1="318.5" x2="523.09" y2="321.5" stroke="#000" stroke-width="1.0" stroke-linecap="butt"/>
<line x1="531.9" y1="468.6" x2="531.9" y2="465.6" stroke="#000" stroke-width="1.0" stroke-linecap="butt"/>
<line x1="531.9" y1="318.5" x2="531.9" y2="321.5" stroke="#000" stroke-width="1.0" stroke-linecap="butt"/>
<line x1="540.7" y1="468.6" x2="540.7" y2="465.6" stroke="#000" stroke-width="1.0" stroke-linecap="butt"/>
<line x1="540.7" y1="318.5" x2="540.7" y2="321.5" stroke="#000" stroke-width="1.0" stroke-linecap="butt"/>
<line x1="549.5" y1="468.6" x2="549.5" y2="465.6" stroke="#000" stroke-width="1.0" stroke-linecap="butt"/>
<line x1="549.5" y1="318.5" x2="549.5" y2="321.5" stroke="#000" stroke-width="1.0" stroke-linecap="butt"/>
<line x1="558.31" y1="468.6" x2="558.31" y2="465.6" stroke="#000" stroke-width="1.0" stroke-linecap="butt"/>
<line x1="558.31" y1="318.5" x2="558.31" y2="321.5" stroke="#000" stroke-width="1.0" stroke-linecap="butt"/>
<line x1="567.12" y1="468.6" x2="567.12" y2="465.6" stroke="#000" stroke-width="1.0" stroke-linecap="butt"/>
<line x1="567.12" y1="318.5" x2="567.12" y2="321.5" stroke="#000" stroke-width="1.0" stroke-linecap="butt"/>
<line x1="575.92" y1="468.6" x2="575.92" y2="465.6" stroke="#000" stroke-width="1.0" stroke-linecap="butt"/>
<line x1="575.92" y1="318.5" x2="575.92" y2="321.5" stroke="#000" stroke-width="1.0" stroke-linecap="butt"/>
<line x1="584.73" y1="468.6" x2="584.73" y2="465.6" stroke="#000" stroke-width="1.0" stroke-linecap="butt"/>
<line x1="584.73" y1="318.5" x2="584.73" y2="321.5" stroke="#000" stroke-width="1.0" stroke-linecap="butt"/>
<line x1="593.53" y1="468.6" x2="593.53" y2="465.6" stroke="#000" stroke-width="1.0" stroke-linecap="butt"/>
<line x1="593.53" y1="318.5" x2="593.53" y2="321.5" stroke="#000" stroke-width="1.0" stroke-linecap="butt"/>
<line x1="602.34" y1="468.6" x2="602.34" y2="465.6" stroke="#000" stroke-width="1.0" stroke-linecap="butt"/>
<line x1="602.34" y1="318.5" x2="602.34" y2="321.5" stroke="#000" stroke-width="1.0" stroke-linecap="butt"/>
<line x1="611.14" y1="468.6" x2="611.14" y2="465.6" stroke="#000" stroke-width="1.0" stroke-linecap="butt"/>
<line x1="611.14" y1="318.5" x2="611.14" y2="321.5" stroke="#000" stroke-width="1.0" stroke-linecap="butt"/>
<line x1="619.95" y1="468.6" x2="619.95" y2="465.6" stroke="#000" stroke-width="1.0" stroke-linecap="butt"/>
<line x1="619.95" y1="318.5" x2="619.95" y2="321.5" stroke="#000" stroke-width="1.0" stroke-linecap="butt"/>
<line x1="628.75" y1="468.6" x2="628.75" y2="465.6" stroke="#000" stroke-width="1.0" stroke-linecap="butt"/>
<line x1="628.75" y1="318.5" x2="628.75" y2="321.5" stroke="#000" stroke-width="1.0" stroke-linecap="butt"/>
<line x1="637.56" y1="468.6" x2="637.56" y2="465.6" stroke="#000" stroke-width="1.0" stroke-linecap="butt"/>
<line x1="637.56" y1="318.5" x2="637.56" y2="321.5" stroke="#000" stroke-width="1.0" stroke-linecap="butt"/>
<line x1="646.36" y1="468.6" x2="646.36" y2="465.6" stroke="#000" stroke-width="1.0" stroke-linecap="butt"/>
<line x1="646.36" y1="318.5" x2="646.36" y2="321.5" stroke="#000" stroke-width="1.0" stroke-linecap="butt"/>
<line x1="655.17" y1="468.6" x2="655.17" y2="465.6" stroke="#000" stroke-width="1.0" stroke-linecap="butt"/>
<line x1="655.17" y1="318.5" x2="655.17" y2="321.5" stroke="#000" stroke-width="1.0" stroke-linecap="butt"/>
<line x1="663.97" y1="468.6" x2="663.97" y2="465.6" stroke="#000" stroke-width="1.0" stroke-linecap="butt"/>
<line x1="663.97" y1="318.5" x2="663.97" y2="321.5" stroke="#000" stroke-width="1.0" stroke-linecap="butt"/>
<line x1="672.78" y1="468.6" x2="672.78" y2="465.6" stroke="#000" stroke-width="1.0" stroke-linecap="butt"/>
<line x1="672.78" y1="318.5" x2="672.78" y2="321.5" stroke="#000" stroke-width="1.0" stroke-linecap="butt"/>
<line x1="681.58" y1="468.6" x2="681.58" y2="465.6" stroke="#000" stroke-width="1.0" stroke-linecap="butt"/>
<line x1="681.58" y1="318.5" x2="681.58" y2="321.5" stroke="#000" stroke-width="1.0" stroke-linecap="butt"/>
<line x1="399.8" y1="460.7" x2="404.7" y2="460.7" stroke="#000" stroke-width="1.0" stroke-linecap="butt"/>
<line x1="682" y1="460.7" x2="677.1" y2="460.7" stroke="#000" stroke-width="1.0" stroke-linecap="butt"/>
<line x1="399.8" y1="427.15" x2="404.7" y2="427.15" stroke="#000" stroke-width="1.0" stroke-linecap="butt"/>
<line x1="682" y1="427.15" x2="677.1" y2="427.15" stroke="#000" stroke-width="1.0" stroke-linecap="butt"/>
<line x1="399.8" y1="393.6" x2="404.7" y2="393.6" stroke="#000" stroke-width="1.0" stroke-linecap="butt"/>
<line x1="682" y1="393.6" x2="677.1" y2="393.6" stroke="#000" stroke-width="1.0" stroke-linecap="butt"/>
<line x1="399.8" y1="360.05" x2="404.7" y2="360.05" stroke="#000" stroke-width="1.0" stroke-linecap="butt"/>
<line x1="682" y1="360.05" x2="677.1" y2="360.05" stroke="#000" stroke-width="1.0" stroke-linecap="butt"/>
<line x1="399.8" y1="326.5" x2="404.7" y2="326.5" stroke="#000" stroke-width="1.0" stroke-linecap="butt"/>
<line x1="682" y1="326.5" x2="677.1" y2="326.5" stroke="#000" stroke-width="1.0" stroke-linecap="butt"/>
<line x1="399.8" y1="460.7" x2="402.8" y2="460.7" stroke="#000" stroke-width="1.0" stroke-linecap="butt"/>
<line x1="682" y1="460.7" x2="679" y2="460.7" stroke="#000" stroke-width="1.0" stroke-linecap="butt"/>
<line x1="399.8" y1="452.31" x2="402.8" y2="452.31" stroke="#000" stroke-width="1.0" stroke-linecap="butt"/>
<line x1="682" y1="452.31" x2="679" y2="452.31" stroke="#000" stroke-width="1.0" stroke-linecap="butt"/>
<line x1="399.8" y1="443.93" x2="402.8" y2="443.93" stroke="#000" stroke-width="1.0" stroke-linecap="butt"/>
<line x1="682" y1="443.93" x2="679" y2="443.93" stroke="#000" stroke-width="1.0" stroke-linecap="butt"/>
<line x1="399.8" y1="435.54" x2="402.8" y2="435.54" stroke="#000" stroke-width="1.0" stroke-linecap="butt"/>
<line x1="682" y1="435.54" x2="679" y2="435.54" stroke="#000" stroke-width="1.0" stroke-linecap="butt"/>
<line x1="399.8" y1="427.15" x2="402.8" y2="427.15" stroke="#000" stroke-width="1.0" stroke-linecap="butt"/>
<line x1="682" y1="427.15" x2="679" y2="427.15" stroke="#000" stroke-width="1.0" stroke-linecap="butt"/>
<line x1="399.8" y1="418.76" x2="402.8" y2="418.76" stroke="#000" stroke-width="1.0" stroke-linecap="butt"/>
<line x1="682" y1="418.76" x2="679" y2="418.76" stroke="#000" stroke-width="1.0" stroke-linecap="butt"/>
<line x1="399.8" y1="410.38" x2="402.8" y2="410.38" stroke="#000" stroke-width="1.0" stroke-linecap="butt"/>
<line x1="682" y1="410.38" x2="679" y2="410.38" stroke="#000" stroke-width="1.0" stroke-linecap="butt"/>
<line x1="399.8" y1="401.99" x2="402.8" y2="401.99" stroke="#000" stroke-width="1.0" stroke-linecap="butt"/>
<line x1="682" y1="401.99" x2="679" y2="401.99" stroke="#000" stroke-width="1.0" stroke-linecap="butt"/>
<line x1="399.8" y1="393.6" x2="402.8" y2="393.6" stroke="#000" stroke-width="1.0" stroke-linecap="butt"/>
<line x1="682" y1="393.6" x2="679" y2="393.6" stroke="#000" stroke-width="1.0" stroke-linecap="butt"/>
<line x1="399.8" y1="385.21" x2="402.8" y2="385.21" stroke="#000" stroke-width="1.0" stroke-linecap="butt"/>
<line x1="682" y1="385.21" x2="679" y2="385.21" stroke="#000" stroke-width="1.0" stroke-linecap="butt"/>
<line x1="399.8" y1="376.82" x2="402.8" y2="376.82" stroke="#000" stroke-width="1.0" stroke-linecap="butt"/>
<line x1="682" y1="376.82" x2="679" y2="376.82" stroke="#000" stroke-width="1.0" stroke-linecap="butt"/>
<line x1="399.8" y1="368.44" x2="402.8" y2="368.44" stroke="#000" stroke-width="1.0" stroke-linecap="butt"/>
<line x1="682" y1="368.44" x2="679" y2="368.44" stroke="#000" stroke-width="1.0" stroke-linecap="butt"/>
<line x1="399.8" y1="360.05" x2="402.8" y2="360.05" stroke="#000" stroke-width="1.0" stroke-linecap="butt"/>
<line x1="682" y1="360.05" x2="679" y2="360.05" stroke="#000" stroke-width="1.0" stroke-linecap="butt"/>
<line x1="399.8" y1="351.66" x2="402.8" y2="351.66" stroke="#000" stroke-width="1.0" stroke-linecap="butt"/>
<line x1="682" y1="351.66" x2="679" y2="351.66" stroke="#000" stroke-width="1.0" stroke-linecap="butt"/>
<line x1="399.8" y1="343.27" x2="402.8" y2="343.27" stroke="#000" stroke-width="1.0" stroke-linecap="butt"/>
<line x1="682" y1="343.27" x2="679" y2="343.27" stroke="#000" stroke-width="1.0" stroke-linecap="butt"/>
<line x1="399.8" y1="334.89" x2="402.8" y2="334.89" stroke="#000" stroke-width="1.0" stroke-linecap="butt"/>
<line x1="682" y1="334.89" x2="679" y2="334.89" stroke="#000" stroke-width="1.0" stroke-linecap="butt"/>
<line x1="399.8" y1="326.5" x2="402.8" y2="326.5" stroke="#000" stroke-width="1.0" stroke-linecap="butt"/>
<line x1="682" y1="326.5" x2="679" y2="326.5" stroke="#000" stroke-width="1.0" stroke-linecap="butt"/>
<text x="388.40" y="330.30" font-size="12.43" fill="#000" stroke="#000" stroke-width="0.22" textLength="6.80" lengthAdjust="spacingAndGlyphs" ><tspan font-style="italic">π</tspan></text>
<text x="383.94" y="360.95" font-size="8.58" fill="#000" stroke="#000" stroke-width="0.22" textLength="9.66" lengthAdjust="spacingAndGlyphs" ><tspan>3</tspan><tspan font-style="italic">π</tspan></text>
<line x1="383.94" y1="362.75" x2="393.6" y2="362.75" stroke="#000" stroke-width="0.6" stroke-linecap="butt"/>
<text x="386.29" y="369.55" font-size="8.27" fill="#000" stroke="#000" stroke-width="0.22" textLength="4.96" lengthAdjust="spacingAndGlyphs" ><tspan>4</tspan></text>
<text x="388.50" y="393.50" font-size="8.58" fill="#000" stroke="#000" stroke-width="0.22" textLength="4.70" lengthAdjust="spacingAndGlyphs" ><tspan font-style="italic">π</tspan></text>
<line x1="388.5" y1="395.3" x2="393.2" y2="395.3" stroke="#000" stroke-width="0.6" stroke-linecap="butt"/>
<text x="388.37" y="402.10" font-size="8.27" fill="#000" stroke="#000" stroke-width="0.22" textLength="4.96" lengthAdjust="spacingAndGlyphs" ><tspan>2</tspan></text>
<text x="388.50" y="427.05" font-size="8.58" fill="#000" stroke="#000" stroke-width="0.22" textLength="4.70" lengthAdjust="spacingAndGlyphs" ><tspan font-style="italic">π</tspan></text>
<line x1="388.5" y1="428.85" x2="393.2" y2="428.85" stroke="#000" stroke-width="0.6" stroke-linecap="butt"/>
<text x="388.37" y="435.65" font-size="8.27" fill="#000" stroke="#000" stroke-width="0.22" textLength="4.96" lengthAdjust="spacingAndGlyphs" ><tspan>4</tspan></text>
<text x="386.72" y="464.50" font-size="11.13" fill="#000" stroke="#000" stroke-width="0.22" textLength="6.68" lengthAdjust="spacingAndGlyphs" ><tspan>0</tspan></text>
<g transform="translate(375.4,393.6) rotate(-90)">
<text x="-3.21" y="0.00" font-size="11.60" fill="#000" stroke="#000" stroke-width="0.22" textLength="6.42" lengthAdjust="spacingAndGlyphs" ><tspan font-style="italic">θ</tspan></text>
</g>
<text x="363.40" y="328.60" font-size="13.20" font-weight="bold" fill="#000" stroke="#000" stroke-width="0.22" textLength="5.22" lengthAdjust="spacingAndGlyphs" ><tspan>f</tspan></text>
<text x="392.26" y="482.00" font-size="11.60" fill="#000" stroke="#000" stroke-width="0.22" textLength="15.12" lengthAdjust="spacingAndGlyphs" ><tspan>−</tspan><tspan font-style="italic">π</tspan></text>
<text x="678.42" y="482.00" font-size="11.60" fill="#000" stroke="#000" stroke-width="0.22" textLength="6.32" lengthAdjust="spacingAndGlyphs" ><tspan font-style="italic">π</tspan></text>
<text x="537.36" y="482.00" font-size="11.13" fill="#000" stroke="#000" stroke-width="0.22" textLength="6.68" lengthAdjust="spacingAndGlyphs" ><tspan>0</tspan></text>
<text x="424.61" y="483.80" font-size="11.13" fill="#000" stroke="#000" stroke-width="0.22" textLength="8.80" lengthAdjust="spacingAndGlyphs" ><tspan>−</tspan></text>
<text x="434.01" y="479.30" font-size="8.58" fill="#000" stroke="#000" stroke-width="0.22" textLength="9.66" lengthAdjust="spacingAndGlyphs" ><tspan>3</tspan><tspan font-style="italic">π</tspan></text>
<line x1="434.01" y1="481.4" x2="443.67" y2="481.4" stroke="#000" stroke-width="0.6" stroke-linecap="butt"/>
<text x="436.36" y="489.10" font-size="8.27" fill="#000" stroke="#000" stroke-width="0.22" textLength="4.96" lengthAdjust="spacingAndGlyphs" ><tspan>4</tspan></text>
<text x="462.36" y="483.80" font-size="11.13" fill="#000" stroke="#000" stroke-width="0.22" textLength="8.80" lengthAdjust="spacingAndGlyphs" ><tspan>−</tspan></text>
<text x="471.71" y="479.30" font-size="8.58" fill="#000" stroke="#000" stroke-width="0.22" textLength="4.70" lengthAdjust="spacingAndGlyphs" ><tspan font-style="italic">π</tspan></text>
<line x1="471.76" y1="481.4" x2="476.36" y2="481.4" stroke="#000" stroke-width="0.6" stroke-linecap="butt"/>
<text x="471.58" y="489.10" font-size="8.27" fill="#000" stroke="#000" stroke-width="0.22" textLength="4.96" lengthAdjust="spacingAndGlyphs" ><tspan>2</tspan></text>
<text x="497.58" y="483.80" font-size="11.13" fill="#000" stroke="#000" stroke-width="0.22" textLength="8.80" lengthAdjust="spacingAndGlyphs" ><tspan>−</tspan></text>
<text x="506.93" y="479.30" font-size="8.58" fill="#000" stroke="#000" stroke-width="0.22" textLength="4.70" lengthAdjust="spacingAndGlyphs" ><tspan font-style="italic">π</tspan></text>
<line x1="506.98" y1="481.4" x2="511.58" y2="481.4" stroke="#000" stroke-width="0.6" stroke-linecap="butt"/>
<text x="506.80" y="489.10" font-size="8.27" fill="#000" stroke="#000" stroke-width="0.22" textLength="4.96" lengthAdjust="spacingAndGlyphs" ><tspan>4</tspan></text>
<text x="573.57" y="479.30" font-size="8.58" fill="#000" stroke="#000" stroke-width="0.22" textLength="4.70" lengthAdjust="spacingAndGlyphs" ><tspan font-style="italic">π</tspan></text>
<line x1="573.62" y1="481.4" x2="578.22" y2="481.4" stroke="#000" stroke-width="0.6" stroke-linecap="butt"/>
<text x="573.44" y="489.10" font-size="8.27" fill="#000" stroke="#000" stroke-width="0.22" textLength="4.96" lengthAdjust="spacingAndGlyphs" ><tspan>4</tspan></text>
<text x="608.79" y="479.30" font-size="8.58" fill="#000" stroke="#000" stroke-width="0.22" textLength="4.70" lengthAdjust="spacingAndGlyphs" ><tspan font-style="italic">π</tspan></text>
<line x1="608.84" y1="481.4" x2="613.44" y2="481.4" stroke="#000" stroke-width="0.6" stroke-linecap="butt"/>
<text x="608.66" y="489.10" font-size="8.27" fill="#000" stroke="#000" stroke-width="0.22" textLength="4.96" lengthAdjust="spacingAndGlyphs" ><tspan>2</tspan></text>
<text x="641.53" y="479.30" font-size="8.58" fill="#000" stroke="#000" stroke-width="0.22" textLength="9.66" lengthAdjust="spacingAndGlyphs" ><tspan>3</tspan><tspan font-style="italic">π</tspan></text>
<line x1="641.53" y1="481.4" x2="651.19" y2="481.4" stroke="#000" stroke-width="0.6" stroke-linecap="butt"/>
<text x="643.88" y="489.10" font-size="8.27" fill="#000" stroke="#000" stroke-width="0.22" textLength="4.96" lengthAdjust="spacingAndGlyphs" ><tspan>4</tspan></text>
<text x="537.24" y="502.00" font-size="11.55" fill="#000" stroke="#000" stroke-width="0.22" textLength="6.93" lengthAdjust="spacingAndGlyphs" ><tspan font-style="italic">ϕ</tspan></text>
</svg></body></html>
